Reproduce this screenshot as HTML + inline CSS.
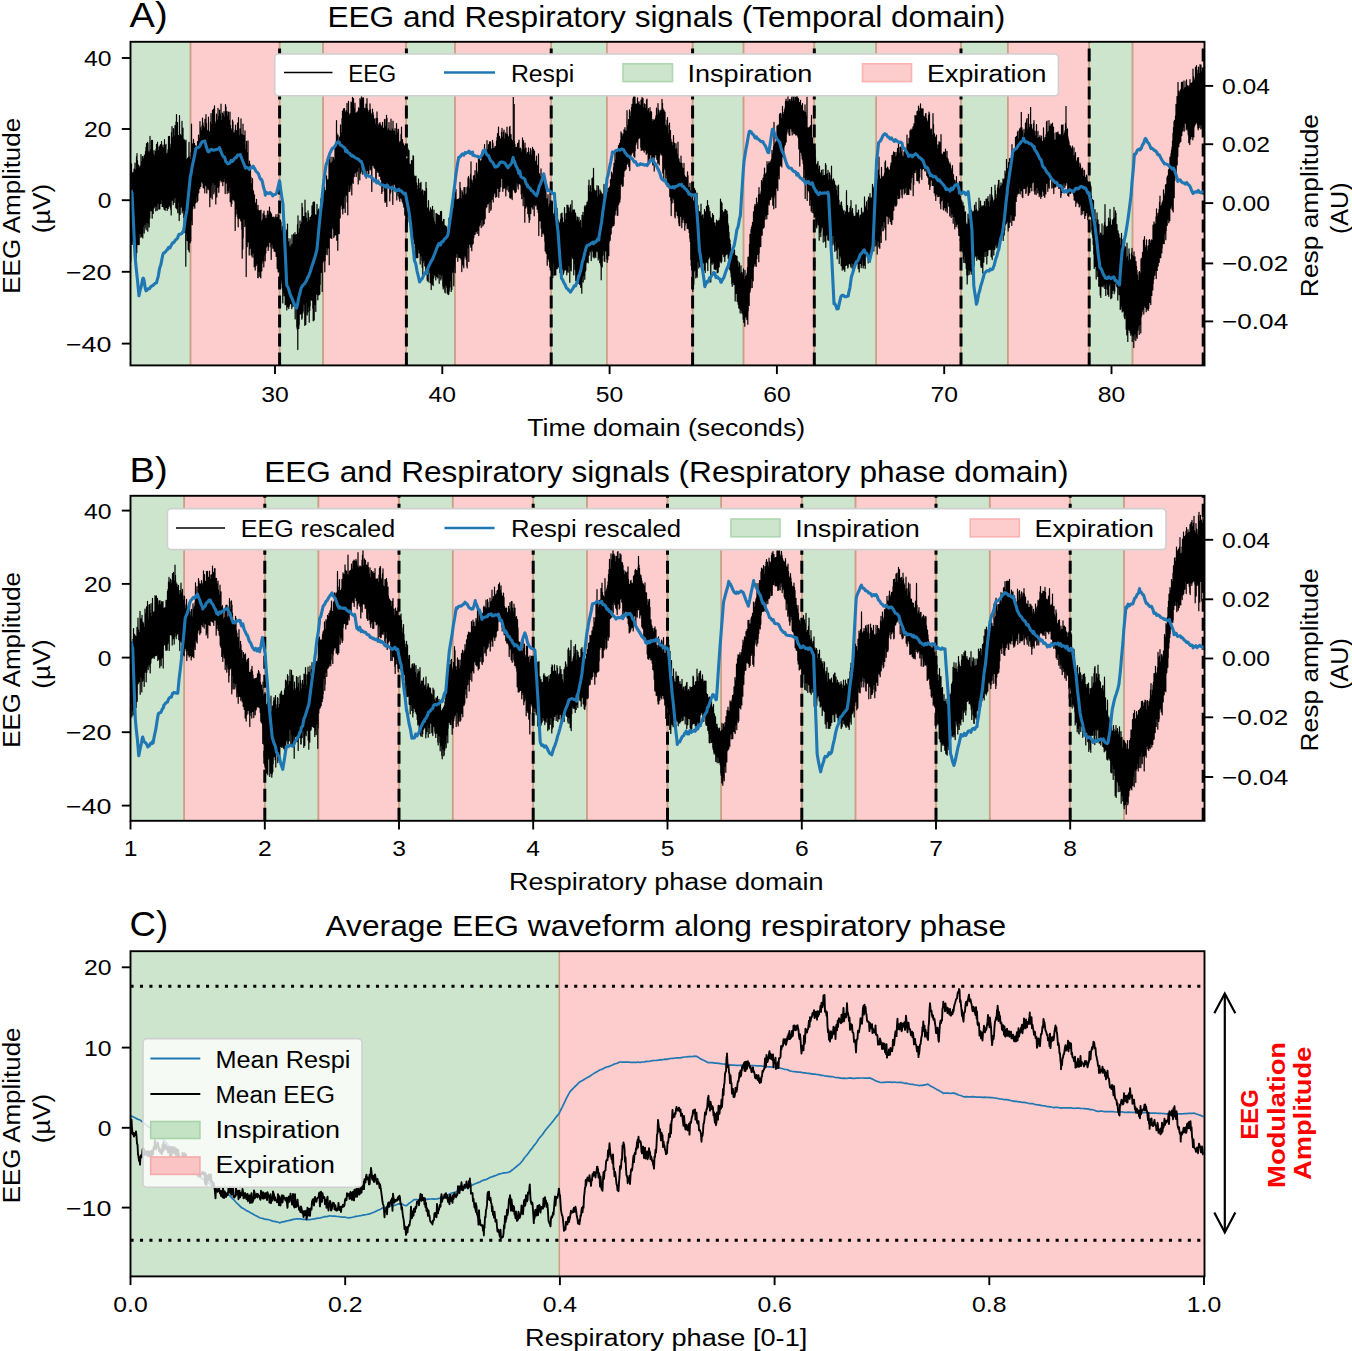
<!DOCTYPE html><html><head><meta charset="utf-8"><title>EEG and Respiratory signals</title><style>html,body{margin:0;padding:0;background:#fff;overflow:hidden}svg{display:block}text{font-family:"Liberation Sans",sans-serif}</style></head><body>
<svg width="1352" height="1351" viewBox="0 0 1352 1351">
<rect width="1352" height="1351" fill="#fff"/>
<clipPath id="clipA"><rect x="130.5" y="41.8" width="1074.0" height="323.59999999999997"/></clipPath>
<g clip-path="url(#clipA)">
<rect x="130.5" y="41.8" width="60.0" height="323.59999999999997" fill="#cde5cc"/>
<rect x="190.5" y="41.8" width="89.1" height="323.59999999999997" fill="#fdcccc"/>
<rect x="279.6" y="41.8" width="43.5" height="323.59999999999997" fill="#cde5cc"/>
<rect x="323.1" y="41.8" width="83.1" height="323.59999999999997" fill="#fdcccc"/>
<rect x="406.2" y="41.8" width="48.7" height="323.59999999999997" fill="#cde5cc"/>
<rect x="454.9" y="41.8" width="96.3" height="323.59999999999997" fill="#fdcccc"/>
<rect x="551.2" y="41.8" width="55.6" height="323.59999999999997" fill="#cde5cc"/>
<rect x="606.8" y="41.8" width="85.8" height="323.59999999999997" fill="#fdcccc"/>
<rect x="692.6" y="41.8" width="50.9" height="323.59999999999997" fill="#cde5cc"/>
<rect x="743.5" y="41.8" width="70.8" height="323.59999999999997" fill="#fdcccc"/>
<rect x="814.3" y="41.8" width="61.9" height="323.59999999999997" fill="#cde5cc"/>
<rect x="876.2" y="41.8" width="84.8" height="323.59999999999997" fill="#fdcccc"/>
<rect x="961.0" y="41.8" width="46.8" height="323.59999999999997" fill="#cde5cc"/>
<rect x="1007.8" y="41.8" width="81.4" height="323.59999999999997" fill="#fdcccc"/>
<rect x="1089.2" y="41.8" width="43.3" height="323.59999999999997" fill="#cde5cc"/>
<rect x="1132.5" y="41.8" width="72.0" height="323.59999999999997" fill="#fdcccc"/>
<line x1="190.5" y1="41.8" x2="190.5" y2="365.4" stroke="#caa088" stroke-width="1.5"/>
<line x1="190.5" y1="41.8" x2="190.5" y2="365.4" stroke="#caa088" stroke-width="1.5"/>
<line x1="279.6" y1="41.8" x2="279.6" y2="365.4" stroke="#caa088" stroke-width="1.5"/>
<line x1="279.6" y1="41.8" x2="279.6" y2="365.4" stroke="#caa088" stroke-width="1.5"/>
<line x1="323.1" y1="41.8" x2="323.1" y2="365.4" stroke="#caa088" stroke-width="1.5"/>
<line x1="323.1" y1="41.8" x2="323.1" y2="365.4" stroke="#caa088" stroke-width="1.5"/>
<line x1="406.2" y1="41.8" x2="406.2" y2="365.4" stroke="#caa088" stroke-width="1.5"/>
<line x1="406.2" y1="41.8" x2="406.2" y2="365.4" stroke="#caa088" stroke-width="1.5"/>
<line x1="454.9" y1="41.8" x2="454.9" y2="365.4" stroke="#caa088" stroke-width="1.5"/>
<line x1="454.9" y1="41.8" x2="454.9" y2="365.4" stroke="#caa088" stroke-width="1.5"/>
<line x1="551.2" y1="41.8" x2="551.2" y2="365.4" stroke="#caa088" stroke-width="1.5"/>
<line x1="551.2" y1="41.8" x2="551.2" y2="365.4" stroke="#caa088" stroke-width="1.5"/>
<line x1="606.8" y1="41.8" x2="606.8" y2="365.4" stroke="#caa088" stroke-width="1.5"/>
<line x1="606.8" y1="41.8" x2="606.8" y2="365.4" stroke="#caa088" stroke-width="1.5"/>
<line x1="692.6" y1="41.8" x2="692.6" y2="365.4" stroke="#caa088" stroke-width="1.5"/>
<line x1="692.6" y1="41.8" x2="692.6" y2="365.4" stroke="#caa088" stroke-width="1.5"/>
<line x1="743.5" y1="41.8" x2="743.5" y2="365.4" stroke="#caa088" stroke-width="1.5"/>
<line x1="743.5" y1="41.8" x2="743.5" y2="365.4" stroke="#caa088" stroke-width="1.5"/>
<line x1="814.3" y1="41.8" x2="814.3" y2="365.4" stroke="#caa088" stroke-width="1.5"/>
<line x1="814.3" y1="41.8" x2="814.3" y2="365.4" stroke="#caa088" stroke-width="1.5"/>
<line x1="876.2" y1="41.8" x2="876.2" y2="365.4" stroke="#caa088" stroke-width="1.5"/>
<line x1="876.2" y1="41.8" x2="876.2" y2="365.4" stroke="#caa088" stroke-width="1.5"/>
<line x1="961.0" y1="41.8" x2="961.0" y2="365.4" stroke="#caa088" stroke-width="1.5"/>
<line x1="961.0" y1="41.8" x2="961.0" y2="365.4" stroke="#caa088" stroke-width="1.5"/>
<line x1="1007.8" y1="41.8" x2="1007.8" y2="365.4" stroke="#caa088" stroke-width="1.5"/>
<line x1="1007.8" y1="41.8" x2="1007.8" y2="365.4" stroke="#caa088" stroke-width="1.5"/>
<line x1="1089.2" y1="41.8" x2="1089.2" y2="365.4" stroke="#caa088" stroke-width="1.5"/>
<line x1="1089.2" y1="41.8" x2="1089.2" y2="365.4" stroke="#caa088" stroke-width="1.5"/>
<line x1="1132.5" y1="41.8" x2="1132.5" y2="365.4" stroke="#caa088" stroke-width="1.5"/>
<line x1="1132.5" y1="41.8" x2="1132.5" y2="365.4" stroke="#caa088" stroke-width="1.5"/>
<line x1="279.6" y1="365.4" x2="279.6" y2="41.8" stroke="#000" stroke-width="3" stroke-dasharray="13 6"/>
<line x1="406.4" y1="365.4" x2="406.4" y2="41.8" stroke="#000" stroke-width="3" stroke-dasharray="13 6"/>
<line x1="551.2" y1="365.4" x2="551.2" y2="41.8" stroke="#000" stroke-width="3" stroke-dasharray="13 6"/>
<line x1="692.6" y1="365.4" x2="692.6" y2="41.8" stroke="#000" stroke-width="3" stroke-dasharray="13 6"/>
<line x1="814.3" y1="365.4" x2="814.3" y2="41.8" stroke="#000" stroke-width="3" stroke-dasharray="13 6"/>
<line x1="961.0" y1="365.4" x2="961.0" y2="41.8" stroke="#000" stroke-width="3" stroke-dasharray="13 6"/>
<line x1="1089.2" y1="365.4" x2="1089.2" y2="41.8" stroke="#000" stroke-width="3" stroke-dasharray="13 6"/>
<line x1="1203.2" y1="365.4" x2="1203.2" y2="41.8" stroke="#000" stroke-width="3" stroke-dasharray="13 6"/>
<polyline fill="none" stroke="#000" stroke-width="1.2" stroke-linejoin="round" points="129.5,173.0 129.8,244.9 130.0,165.4 130.2,241.3 130.5,178.2 130.8,261.5 131.0,171.4 131.2,238.8 131.5,163.9 131.8,244.5 132.0,172.1 132.2,239.0 132.5,175.2 132.8,240.4 133.0,173.4 133.2,244.5 133.5,172.3 133.8,241.3 134.0,169.2 134.2,243.5 134.5,176.5 134.8,250.3 135.0,163.0 135.2,240.6 135.5,169.8 135.8,260.5 136.0,173.9 136.2,259.0 136.5,156.7 136.8,252.5 137.0,153.5 137.2,239.9 137.5,160.6 137.8,244.5 138.0,170.5 138.2,235.5 138.5,165.2 138.8,244.7 139.0,169.4 139.2,244.4 139.5,167.7 139.8,232.7 140.0,166.2 140.2,233.5 140.5,167.1 140.8,237.2 141.0,154.6 141.2,237.1 141.5,161.3 141.8,234.0 142.0,161.8 142.2,236.0 142.5,156.7 142.8,238.0 143.0,161.7 143.2,226.3 143.5,158.9 143.8,221.5 144.0,156.2 144.2,233.1 144.5,155.0 144.8,220.1 145.0,158.8 145.2,224.1 145.5,151.5 145.8,227.8 146.0,147.4 146.2,229.7 146.5,143.5 146.8,221.4 147.0,155.1 147.2,222.3 147.5,142.4 147.8,231.2 148.0,143.0 148.2,223.3 148.5,151.7 148.8,213.3 149.0,158.3 149.2,226.9 149.5,151.5 149.8,218.0 150.0,136.4 150.2,210.8 150.5,149.5 150.8,209.7 151.0,156.3 151.2,210.7 151.5,140.3 151.8,211.0 152.0,155.4 152.2,218.2 152.5,140.4 152.8,209.0 153.0,156.2 153.2,213.4 153.5,154.1 153.8,206.7 154.0,150.6 154.2,207.8 154.5,156.8 154.8,205.7 155.0,155.6 155.2,206.0 155.5,151.3 155.8,210.8 156.0,149.1 156.2,203.9 156.5,144.3 156.8,206.0 157.0,152.6 157.2,210.3 157.5,142.2 157.8,201.6 158.0,155.0 158.2,203.2 158.5,150.4 158.8,209.1 159.0,146.8 159.2,205.8 159.5,154.7 159.8,208.9 160.0,145.5 160.2,199.5 160.5,144.6 160.8,203.5 161.0,149.9 161.2,199.2 161.5,141.6 161.8,197.9 162.0,147.4 162.2,206.4 162.5,152.6 162.8,199.3 163.0,145.0 163.2,206.4 163.5,151.0 163.8,207.9 164.0,148.1 164.2,209.3 164.5,139.7 164.8,201.2 165.0,147.8 165.2,210.2 165.5,145.7 165.8,201.6 166.0,144.4 166.2,207.5 166.5,153.7 166.8,201.1 167.0,153.7 167.2,210.5 167.5,153.2 167.8,200.9 168.0,149.6 168.2,208.5 168.5,136.6 168.8,206.3 169.0,148.3 169.2,199.9 169.5,136.4 169.8,204.7 170.0,148.6 170.2,207.1 170.5,147.8 170.8,209.4 171.0,144.1 171.2,215.0 171.5,132.7 171.8,198.5 172.0,126.6 172.2,200.2 172.5,137.6 172.8,199.3 173.0,138.9 173.2,204.7 173.5,128.5 173.8,197.5 174.0,135.9 174.2,202.4 174.5,136.3 174.8,197.7 175.0,125.5 175.2,197.3 175.5,135.2 175.8,207.7 176.0,121.8 176.2,201.9 176.5,114.5 176.8,208.8 177.0,134.3 177.2,205.8 177.5,122.5 177.8,212.7 178.0,135.4 178.2,202.3 178.5,135.7 178.8,198.6 179.0,135.1 179.2,220.6 179.5,115.7 179.8,200.6 180.0,137.7 180.2,214.3 180.5,134.7 180.8,201.8 181.0,135.8 181.2,206.9 181.5,140.0 181.8,204.5 182.0,121.3 182.2,212.8 182.5,142.7 182.8,207.4 183.0,128.2 183.2,210.4 183.5,142.0 183.8,217.5 184.0,139.3 184.2,232.4 184.5,140.3 184.8,224.0 185.0,144.5 185.2,223.0 185.5,141.5 185.8,266.2 186.0,140.0 186.2,228.6 186.5,159.5 186.8,232.9 187.0,161.2 187.2,240.6 187.5,158.4 187.8,237.3 188.0,163.8 188.2,249.6 188.5,157.1 188.8,244.0 189.0,142.3 189.2,251.9 189.5,156.9 189.8,232.5 190.0,160.3 190.2,242.7 190.5,159.0 190.8,240.8 191.0,152.5 191.2,219.9 191.5,124.1 191.8,215.4 192.0,143.3 192.2,224.7 192.5,144.1 192.8,208.8 193.0,149.5 193.2,204.4 193.5,139.4 193.8,205.8 194.0,146.9 194.2,203.7 194.5,143.4 194.8,208.2 195.0,149.7 195.2,203.2 195.5,145.8 195.8,202.6 196.0,148.4 196.2,196.4 196.5,147.3 196.8,196.2 197.0,145.9 197.2,201.9 197.5,141.7 197.8,200.5 198.0,144.2 198.2,193.8 198.5,135.1 198.8,192.5 199.0,138.4 199.2,187.6 199.5,137.8 199.8,188.5 200.0,121.6 200.2,184.5 200.5,127.7 200.8,186.3 201.0,130.9 201.2,181.9 201.5,130.6 201.8,181.9 202.0,125.7 202.2,181.5 202.5,118.0 202.8,183.4 203.0,122.9 203.2,187.6 203.5,126.2 203.8,180.6 204.0,128.2 204.2,188.2 204.5,128.6 204.8,192.8 205.0,119.3 205.2,183.8 205.5,130.8 205.8,184.8 206.0,114.5 206.2,185.7 206.5,123.6 206.8,193.1 207.0,130.8 207.2,189.5 207.5,133.1 207.8,187.6 208.0,130.2 208.2,187.9 208.5,117.0 208.8,189.7 209.0,133.1 209.2,187.5 209.5,131.9 209.8,206.7 210.0,131.9 210.2,186.8 210.5,122.0 210.8,197.2 211.0,113.5 211.2,184.7 211.5,124.1 211.8,185.5 212.0,127.1 212.2,198.9 212.5,110.4 212.8,182.6 213.0,121.1 213.2,181.7 213.5,109.2 213.8,193.8 214.0,123.7 214.2,192.1 214.5,105.9 214.8,184.5 215.0,125.2 215.2,180.4 215.5,123.9 215.8,204.0 216.0,121.7 216.2,183.0 216.5,114.0 216.8,197.0 217.0,120.6 217.2,180.1 217.5,122.7 217.8,186.7 218.0,108.3 218.2,187.5 218.5,117.3 218.8,192.3 219.0,116.4 219.2,185.9 219.5,110.0 219.8,179.6 220.0,114.0 220.2,180.1 220.5,120.6 220.8,180.2 221.0,104.2 221.2,181.9 221.5,120.4 221.8,180.4 222.0,120.1 222.2,175.5 222.5,113.1 222.8,185.7 223.0,114.5 223.2,177.0 223.5,119.4 223.8,181.5 224.0,111.7 224.2,176.3 224.5,120.3 224.8,178.1 225.0,117.0 225.2,193.6 225.5,104.5 225.8,175.5 226.0,106.9 226.2,182.8 226.5,115.9 226.8,176.8 227.0,111.5 227.2,193.6 227.5,115.8 227.8,189.4 228.0,123.3 228.2,190.4 228.5,112.0 228.8,192.6 229.0,120.3 229.2,183.7 229.5,121.9 229.8,188.0 230.0,112.1 230.2,201.7 230.5,125.3 230.8,191.2 231.0,130.3 231.2,206.3 231.5,130.1 231.8,203.5 232.0,128.6 232.2,196.6 232.5,120.1 232.8,198.9 233.0,121.9 233.2,200.1 233.5,133.8 233.8,197.6 234.0,132.8 234.2,199.7 234.5,137.5 234.8,201.8 235.0,130.0 235.2,230.4 235.5,125.1 235.8,216.2 236.0,137.8 236.2,205.4 236.5,130.5 236.8,208.4 237.0,138.2 237.2,213.8 237.5,123.1 237.8,218.2 238.0,126.6 238.2,226.8 238.5,117.6 238.8,217.8 239.0,135.6 239.2,214.1 239.5,136.0 239.8,218.6 240.0,128.8 240.2,207.8 240.5,135.4 240.8,220.9 241.0,118.8 241.2,209.8 241.5,134.2 241.8,229.2 242.0,134.8 242.2,258.2 242.5,135.1 242.8,248.9 243.0,124.0 243.2,237.8 243.5,137.2 243.8,216.7 244.0,135.6 244.2,218.9 244.5,142.2 244.8,226.4 245.0,130.9 245.2,223.5 245.5,149.3 245.8,224.7 246.0,151.7 246.2,276.6 246.5,141.4 246.8,232.1 247.0,152.6 247.2,246.7 247.5,161.0 247.8,233.2 248.0,140.9 248.2,241.9 248.5,164.2 248.8,234.9 249.0,166.4 249.2,255.1 249.5,161.1 249.8,248.7 250.0,171.2 250.2,247.7 250.5,164.8 250.8,246.4 251.0,177.0 251.2,255.0 251.5,184.8 251.8,247.2 252.0,184.1 252.2,257.1 252.5,178.7 252.8,252.0 253.0,194.0 253.2,252.8 253.5,190.9 253.8,256.9 254.0,195.0 254.2,266.7 254.5,194.9 254.8,258.5 255.0,203.7 255.2,270.1 255.5,207.1 255.8,262.7 256.0,202.5 256.2,265.6 256.5,199.3 256.8,262.8 257.0,209.7 257.2,263.6 257.5,214.1 257.8,277.6 258.0,205.3 258.2,277.7 258.5,212.6 258.8,265.2 259.0,210.8 259.2,271.4 259.5,218.5 259.8,276.3 260.0,210.6 260.2,275.1 260.5,218.8 260.8,278.0 261.0,210.2 261.2,264.8 261.5,221.9 261.8,270.8 262.0,221.7 262.2,263.3 262.5,219.8 262.8,260.0 263.0,213.9 263.2,260.6 263.5,213.7 263.8,266.9 264.0,211.1 264.2,255.0 264.5,218.7 264.8,252.6 265.0,215.5 265.2,260.8 265.5,218.8 265.8,253.0 266.0,218.4 266.2,247.3 266.5,218.5 266.8,246.3 267.0,215.0 267.2,245.5 267.5,211.1 267.8,244.6 268.0,215.1 268.2,250.5 268.5,214.9 268.8,246.8 269.0,210.8 269.2,242.1 269.5,207.2 269.8,242.2 270.0,214.6 270.2,241.2 270.5,212.1 270.8,246.9 271.0,217.3 271.2,259.5 271.5,213.9 271.8,243.1 272.0,218.1 272.2,244.1 272.5,217.3 272.8,248.2 273.0,218.3 273.2,246.0 273.5,217.1 273.8,248.2 274.0,218.4 274.2,251.3 274.5,218.8 274.8,250.8 275.0,217.2 275.2,249.5 275.5,218.3 275.8,252.1 276.0,214.7 276.2,256.5 276.5,221.3 276.8,256.0 277.0,217.7 277.2,268.6 277.5,223.1 277.8,261.1 278.0,214.0 278.2,272.1 278.5,225.3 278.8,265.9 279.0,215.0 279.2,271.2 279.5,224.7 279.8,280.2 280.0,226.0 280.2,279.5 280.5,230.2 280.8,276.2 281.0,222.1 281.2,279.6 281.5,231.9 281.8,283.4 282.0,230.8 282.2,287.9 282.5,226.8 282.8,303.0 283.0,226.0 283.2,291.3 283.5,235.4 283.8,292.2 284.0,238.5 284.2,295.7 284.5,222.1 284.8,292.7 285.0,239.6 285.2,304.7 285.5,241.4 285.8,293.7 286.0,236.2 286.2,304.1 286.5,230.1 286.8,310.0 287.0,244.1 287.2,297.8 287.5,224.0 287.8,306.9 288.0,238.4 288.2,306.5 288.5,241.5 288.8,308.6 289.0,246.5 289.2,306.2 289.5,247.1 289.8,304.3 290.0,238.9 290.2,301.3 290.5,248.0 290.8,303.4 291.0,246.5 291.2,301.3 291.5,244.6 291.8,308.6 292.0,235.1 292.2,306.7 292.5,244.0 292.8,303.0 293.0,245.1 293.2,303.8 293.5,234.0 293.8,306.1 294.0,235.1 294.2,305.7 294.5,243.6 294.8,306.5 295.0,232.7 295.2,319.0 295.5,235.1 295.8,309.2 296.0,239.7 296.2,307.9 296.5,234.5 296.8,327.1 297.0,235.1 297.2,329.1 297.5,224.7 297.8,349.6 298.0,215.8 298.2,311.1 298.5,233.0 298.8,328.3 299.0,233.1 299.2,324.8 299.5,228.5 299.8,313.3 300.0,220.9 300.2,314.0 300.5,225.6 300.8,313.8 301.0,224.5 301.2,307.2 301.5,222.3 301.8,319.2 302.0,203.3 302.2,318.1 302.5,207.7 302.8,312.9 303.0,219.1 303.2,311.2 303.5,216.7 303.8,303.9 304.0,216.5 304.2,301.7 304.5,217.7 304.8,325.5 305.0,200.0 305.2,308.4 305.5,218.0 305.8,324.4 306.0,212.8 306.2,301.8 306.5,218.1 306.8,301.5 307.0,221.9 307.2,314.9 307.5,222.4 307.8,312.0 308.0,210.8 308.2,304.6 308.5,213.4 308.8,306.6 309.0,217.4 309.2,322.2 309.5,222.3 309.8,310.5 310.0,220.4 310.2,305.7 310.5,217.0 310.8,299.7 311.0,221.9 311.2,298.1 311.5,215.3 311.8,300.2 312.0,205.9 312.2,298.7 312.5,222.7 312.8,308.2 313.0,202.5 313.2,320.8 313.5,218.6 313.8,314.1 314.0,201.5 314.2,319.9 314.5,202.7 314.8,298.2 315.0,225.9 315.2,304.3 315.5,214.9 315.8,311.5 316.0,223.2 316.2,294.8 316.5,215.1 316.8,292.6 317.0,204.4 317.2,293.7 317.5,216.8 317.8,299.8 318.0,210.8 318.2,288.8 318.5,209.1 318.8,295.0 319.0,216.0 319.2,289.6 319.5,211.6 319.8,294.1 320.0,211.8 320.2,284.4 320.5,207.3 320.8,272.4 321.0,198.5 321.2,271.0 321.5,207.8 321.8,272.1 322.0,201.1 322.2,291.6 322.5,192.5 322.8,262.4 323.0,201.2 323.2,261.3 323.5,189.3 323.8,260.5 324.0,199.3 324.2,260.1 324.5,187.1 324.8,271.8 325.0,196.1 325.2,260.7 325.5,190.7 325.8,254.2 326.0,191.3 326.2,247.6 326.5,175.9 326.8,245.6 327.0,179.1 327.2,254.7 327.5,184.0 327.8,247.3 328.0,180.0 328.2,247.9 328.5,179.6 328.8,237.8 329.0,162.3 329.2,264.7 329.5,159.4 329.8,237.9 330.0,156.8 330.2,237.0 330.5,163.2 330.8,237.6 331.0,166.3 331.2,234.2 331.5,162.8 331.8,238.5 332.0,157.1 332.2,226.8 332.5,161.4 332.8,225.9 333.0,163.7 333.2,228.8 333.5,157.6 333.8,237.6 334.0,161.5 334.2,236.3 334.5,159.5 334.8,226.9 335.0,144.9 335.2,234.9 335.5,149.8 335.8,235.0 336.0,141.9 336.2,234.6 336.5,120.7 336.8,240.3 337.0,133.5 337.2,222.1 337.5,147.6 337.8,250.3 338.0,135.3 338.2,233.5 338.5,143.6 338.8,214.1 339.0,141.5 339.2,233.7 339.5,137.1 339.8,211.5 340.0,137.0 340.2,217.8 340.5,124.9 340.8,206.0 341.0,132.7 341.2,204.4 341.5,132.9 341.8,202.1 342.0,118.6 342.2,209.1 342.5,111.0 342.8,213.9 343.0,119.3 343.2,202.3 343.5,108.8 343.8,208.2 344.0,115.3 344.2,196.3 344.5,108.5 344.8,194.1 345.0,117.2 345.2,212.4 345.5,112.4 345.8,190.8 346.0,110.8 346.2,195.1 346.5,122.5 346.8,190.5 347.0,103.4 347.2,201.9 347.5,112.4 347.8,214.8 348.0,116.6 348.2,184.9 348.5,101.4 348.8,179.8 349.0,116.1 349.2,191.5 349.5,115.6 349.8,191.2 350.0,113.8 350.2,189.0 350.5,113.6 350.8,184.8 351.0,102.0 351.2,180.7 351.5,115.7 351.8,194.9 352.0,102.6 352.2,182.2 352.5,97.3 352.8,180.8 353.0,116.1 353.2,183.3 353.5,98.6 353.8,174.1 354.0,108.5 354.2,176.6 354.5,116.0 354.8,172.9 355.0,103.2 355.2,172.6 355.5,115.6 355.8,171.7 356.0,113.1 356.2,176.4 356.5,114.1 356.8,171.6 357.0,112.1 357.2,169.4 357.5,113.5 357.8,170.5 358.0,111.2 358.2,183.9 358.5,107.9 358.8,167.1 359.0,109.7 359.2,166.8 359.5,108.5 359.8,180.0 360.0,98.6 360.2,166.6 360.5,100.0 360.8,173.1 361.0,112.5 361.2,165.6 361.5,85.3 361.8,165.4 362.0,101.8 362.2,171.4 362.5,98.2 362.8,174.3 363.0,110.4 363.2,165.4 363.5,97.9 363.8,168.0 364.0,107.8 364.2,164.8 364.5,109.3 364.8,175.8 365.0,108.5 365.2,164.1 365.5,109.7 365.8,168.3 366.0,104.1 366.2,178.2 366.5,107.0 366.8,162.7 367.0,98.7 367.2,170.5 367.5,108.7 367.8,165.4 368.0,112.3 368.2,173.7 368.5,112.4 368.8,173.4 369.0,110.7 369.2,164.7 369.5,110.3 369.8,164.1 370.0,103.8 370.2,170.0 370.5,109.6 370.8,168.6 371.0,115.0 371.2,162.6 371.5,115.1 371.8,191.4 372.0,113.3 372.2,165.4 372.5,109.2 372.8,163.2 373.0,112.5 373.2,165.1 373.5,115.2 373.8,165.9 374.0,121.3 374.2,167.8 374.5,119.2 374.8,166.8 375.0,124.0 375.2,168.7 375.5,125.9 375.8,180.0 376.0,118.3 376.2,181.8 376.5,120.6 376.8,169.5 377.0,111.9 377.2,170.7 377.5,118.4 377.8,172.3 378.0,125.6 378.2,171.9 378.5,126.3 378.8,172.6 379.0,123.8 379.2,176.2 379.5,124.8 379.8,176.1 380.0,122.6 380.2,174.7 380.5,124.7 380.8,179.6 381.0,126.8 381.2,180.0 381.5,127.1 381.8,193.4 382.0,125.7 382.2,191.4 382.5,122.4 382.8,187.0 383.0,127.9 383.2,185.9 383.5,128.3 383.8,182.8 384.0,128.3 384.2,190.9 384.5,119.6 384.8,201.0 385.0,119.6 385.2,202.4 385.5,126.7 385.8,201.0 386.0,130.9 386.2,194.7 386.5,115.3 386.8,206.4 387.0,118.2 387.2,185.6 387.5,130.6 387.8,185.7 388.0,132.1 388.2,187.2 388.5,128.6 388.8,184.9 389.0,122.6 389.2,185.8 389.5,130.7 389.8,200.9 390.0,130.6 390.2,193.4 390.5,131.8 390.8,192.0 391.0,119.2 391.2,184.1 391.5,131.4 391.8,187.5 392.0,133.6 392.2,187.0 392.5,128.9 392.8,204.5 393.0,121.2 393.2,190.0 393.5,133.7 393.8,184.2 394.0,131.0 394.2,183.8 394.5,133.1 394.8,183.0 395.0,128.6 395.2,186.4 395.5,135.1 395.8,189.7 396.0,136.6 396.2,187.0 396.5,123.6 396.8,199.9 397.0,129.0 397.2,195.5 397.5,133.2 397.8,192.3 398.0,135.5 398.2,191.3 398.5,129.3 398.8,196.8 399.0,144.4 399.2,198.8 399.5,143.2 399.8,201.2 400.0,141.5 400.2,195.6 400.5,148.5 400.8,198.0 401.0,134.3 401.2,197.9 401.5,127.2 401.8,198.9 402.0,144.4 402.2,201.3 402.5,139.7 402.8,202.3 403.0,142.8 403.2,203.8 403.5,144.0 403.8,207.1 404.0,156.3 404.2,207.0 404.5,145.9 404.8,215.1 405.0,156.8 405.2,209.5 405.5,151.9 405.8,227.5 406.0,161.2 406.2,224.8 406.5,159.4 406.8,216.8 407.0,158.5 407.2,225.0 407.5,159.5 407.8,215.3 408.0,148.9 408.2,217.0 408.5,160.8 408.8,217.0 409.0,150.5 409.2,221.7 409.5,164.2 409.8,220.9 410.0,164.0 410.2,223.4 410.5,164.7 410.8,221.5 411.0,165.3 411.2,222.0 411.5,160.5 411.8,234.1 412.0,167.4 412.2,242.3 412.5,160.5 412.8,227.7 413.0,155.8 413.2,239.4 413.5,156.1 413.8,233.1 414.0,175.0 414.2,243.4 414.5,176.5 414.8,241.6 415.0,176.5 415.2,247.8 415.5,182.0 415.8,258.3 416.0,176.0 416.2,242.4 416.5,182.8 416.8,257.5 417.0,185.2 417.2,245.2 417.5,189.7 417.8,257.7 418.0,191.7 418.2,247.9 418.5,178.9 418.8,249.4 419.0,188.7 419.2,253.0 419.5,194.4 419.8,251.8 420.0,183.4 420.2,263.9 420.5,198.6 420.8,253.3 421.0,182.4 421.2,256.0 421.5,201.1 421.8,260.5 422.0,191.4 422.2,267.3 422.5,189.8 422.8,274.3 423.0,203.9 423.2,262.7 423.5,195.0 423.8,259.8 424.0,190.8 424.2,260.2 424.5,206.8 424.8,265.9 425.0,191.7 425.2,260.6 425.5,207.5 425.8,273.3 426.0,182.3 426.2,273.9 426.5,188.3 426.8,271.4 427.0,210.8 427.2,280.2 427.5,208.2 427.8,267.9 428.0,215.1 428.2,281.8 428.5,200.7 428.8,267.5 429.0,213.8 429.2,268.8 429.5,212.3 429.8,273.0 430.0,210.2 430.2,282.7 430.5,207.8 430.8,270.3 431.0,211.1 431.2,289.6 431.5,209.9 431.8,273.5 432.0,221.1 432.2,284.2 432.5,206.3 432.8,284.4 433.0,217.8 433.2,285.6 433.5,224.6 433.8,277.7 434.0,210.1 434.2,273.2 434.5,221.9 434.8,274.6 435.0,224.5 435.2,275.3 435.5,225.2 435.8,279.9 436.0,213.6 436.2,274.9 436.5,213.5 436.8,276.5 437.0,224.0 437.2,274.4 437.5,214.3 437.8,278.0 438.0,223.0 438.2,271.9 438.5,215.1 438.8,273.3 439.0,218.0 439.2,283.3 439.5,215.6 439.8,271.6 440.0,221.4 440.2,273.8 440.5,211.6 440.8,280.0 441.0,212.2 441.2,278.4 441.5,211.4 441.8,274.8 442.0,221.5 442.2,272.8 442.5,224.0 442.8,286.1 443.0,221.5 443.2,289.0 443.5,219.6 443.8,286.3 444.0,219.3 444.2,287.0 444.5,226.9 444.8,291.8 445.0,225.5 445.2,292.8 445.5,226.0 445.8,285.0 446.0,228.4 446.2,285.2 446.5,226.9 446.8,287.4 447.0,235.0 447.2,293.1 447.5,236.9 447.8,287.5 448.0,236.5 448.2,294.6 448.5,225.7 448.8,294.1 449.0,218.2 449.2,291.3 449.5,230.7 449.8,287.1 450.0,223.4 450.2,280.3 450.5,222.8 450.8,280.1 451.0,212.9 451.2,291.4 451.5,223.7 451.8,289.4 452.0,215.4 452.2,273.0 452.5,206.4 452.8,271.7 453.0,200.8 453.2,267.9 453.5,211.9 453.8,285.8 454.0,208.6 454.2,265.9 454.5,198.0 454.8,261.9 455.0,192.5 455.2,272.6 455.5,204.5 455.8,256.5 456.0,189.6 456.2,257.2 456.5,200.7 456.8,252.4 457.0,199.9 457.2,253.4 457.5,199.7 457.8,261.3 458.0,199.4 458.2,251.8 458.5,199.3 458.8,257.2 459.0,198.6 459.2,257.3 459.5,198.1 459.8,257.5 460.0,182.3 460.2,256.5 460.5,188.0 460.8,259.0 461.0,199.0 461.2,253.9 461.5,198.5 461.8,271.6 462.0,190.5 462.2,263.6 462.5,192.5 462.8,253.5 463.0,195.1 463.2,265.2 463.5,195.0 463.8,267.7 464.0,187.6 464.2,258.2 464.5,193.1 464.8,253.8 465.0,187.5 465.2,255.6 465.5,196.5 465.8,257.0 466.0,195.2 466.2,259.6 466.5,193.7 466.8,266.1 467.0,187.3 467.2,267.9 467.5,186.7 467.8,247.7 468.0,178.0 468.2,247.4 468.5,176.7 468.8,261.4 469.0,178.8 469.2,244.6 469.5,188.0 469.8,243.9 470.0,189.0 470.2,242.1 470.5,174.6 470.8,247.2 471.0,161.8 471.2,243.5 471.5,187.0 471.8,250.7 472.0,180.2 472.2,244.7 472.5,185.1 472.8,243.8 473.0,182.8 473.2,243.3 473.5,175.8 473.8,237.8 474.0,180.0 474.2,234.7 474.5,175.4 474.8,232.5 475.0,170.7 475.2,234.2 475.5,180.5 475.8,231.4 476.0,178.8 476.2,231.3 476.5,163.1 476.8,232.1 477.0,173.9 477.2,233.5 477.5,173.7 477.8,230.5 478.0,171.4 478.2,228.0 478.5,157.8 478.8,235.6 479.0,164.6 479.2,226.2 479.5,158.7 479.8,225.1 480.0,163.6 480.2,222.3 480.5,161.5 480.8,219.9 481.0,160.6 481.2,227.6 481.5,163.2 481.8,219.3 482.0,152.1 482.2,219.2 482.5,159.6 482.8,225.9 483.0,157.4 483.2,224.7 483.5,155.4 483.8,214.9 484.0,152.1 484.2,223.7 484.5,144.7 484.8,211.3 485.0,153.8 485.2,218.7 485.5,149.9 485.8,208.1 486.0,152.8 486.2,204.9 486.5,152.7 486.8,206.8 487.0,140.7 487.2,202.9 487.5,149.6 487.8,203.8 488.0,155.7 488.2,201.8 488.5,144.7 488.8,203.1 489.0,152.4 489.2,212.5 489.5,141.9 489.8,201.0 490.0,155.1 490.2,201.8 490.5,141.9 490.8,210.3 491.0,149.0 491.2,209.1 491.5,149.1 491.8,199.4 492.0,150.4 492.2,194.9 492.5,140.4 492.8,198.6 493.0,143.2 493.2,202.0 493.5,148.3 493.8,196.1 494.0,149.2 494.2,189.8 494.5,148.3 494.8,192.9 495.0,146.4 495.2,190.4 495.5,147.7 495.8,197.3 496.0,146.5 496.2,190.8 496.5,140.8 496.8,196.5 497.0,137.7 497.2,183.2 497.5,133.6 497.8,188.1 498.0,142.9 498.2,181.6 498.5,127.0 498.8,197.3 499.0,141.2 499.2,188.3 499.5,136.3 499.8,191.5 500.0,139.4 500.2,178.6 500.5,138.8 500.8,186.8 501.0,139.5 501.2,177.3 501.5,132.1 501.8,178.5 502.0,128.3 502.2,178.5 502.5,139.5 502.8,191.3 503.0,137.1 503.2,179.3 503.5,132.1 503.8,188.2 504.0,130.2 504.2,183.8 504.5,139.1 504.8,187.9 505.0,140.7 505.2,181.9 505.5,133.0 505.8,196.0 506.0,134.3 506.2,186.9 506.5,139.3 506.8,184.6 507.0,127.2 507.2,189.8 507.5,134.3 507.8,184.8 508.0,137.1 508.2,185.3 508.5,136.8 508.8,191.6 509.0,141.4 509.2,187.0 509.5,127.4 509.8,197.6 510.0,126.3 510.2,191.4 510.5,141.9 510.8,198.3 511.0,134.7 511.2,197.0 511.5,139.3 511.8,193.1 512.0,142.5 512.2,199.6 512.5,140.6 512.8,186.3 513.0,145.4 513.2,189.1 513.5,144.7 513.8,184.9 514.0,145.4 514.2,190.4 514.5,141.6 514.8,191.8 515.0,144.4 515.2,192.7 515.5,147.8 515.8,189.9 516.0,147.5 516.2,191.8 516.5,147.3 516.8,182.9 517.0,148.1 517.2,182.2 517.5,143.7 517.8,186.2 518.0,143.9 518.2,189.1 518.5,142.7 518.8,180.6 519.0,140.0 519.2,183.2 519.5,149.7 519.8,183.9 520.0,148.7 520.2,183.4 520.5,148.0 520.8,184.9 521.0,149.2 521.2,193.9 521.5,152.0 521.8,198.7 522.0,152.2 522.2,193.1 522.5,137.9 522.8,191.6 523.0,145.5 523.2,205.7 523.5,140.6 523.8,196.4 524.0,152.9 524.2,196.1 524.5,149.2 524.8,222.2 525.0,143.0 525.2,206.2 525.5,154.0 525.8,207.9 526.0,148.0 526.2,204.5 526.5,154.1 526.8,205.3 527.0,154.3 527.2,206.7 527.5,152.5 527.8,213.6 528.0,155.8 528.2,209.8 528.5,147.9 528.8,217.1 529.0,157.7 529.2,222.5 529.5,154.9 529.8,219.8 530.0,152.1 530.2,207.7 530.5,148.5 530.8,213.4 531.0,155.3 531.2,206.6 531.5,159.7 531.8,207.0 532.0,150.5 532.2,206.4 532.5,147.4 532.8,208.9 533.0,160.9 533.2,204.3 533.5,149.4 533.8,204.4 534.0,156.9 534.2,215.7 534.5,151.0 534.8,203.3 535.0,161.6 535.2,204.4 535.5,163.9 535.8,205.8 536.0,160.8 536.2,203.1 536.5,156.2 536.8,203.9 537.0,167.3 537.2,209.2 537.5,165.4 537.8,207.9 538.0,165.6 538.2,212.4 538.5,153.8 538.8,235.6 539.0,173.7 539.2,213.1 539.5,173.8 539.8,220.7 540.0,176.8 540.2,217.2 540.5,177.5 540.8,221.1 541.0,168.9 541.2,228.2 541.5,181.5 541.8,236.4 542.0,182.0 542.2,228.3 542.5,175.7 542.8,233.1 543.0,179.1 543.2,233.0 543.5,176.4 543.8,232.4 544.0,190.4 544.2,234.7 544.5,180.8 544.8,241.3 545.0,194.1 545.2,251.1 545.5,188.0 545.8,243.1 546.0,192.7 546.2,253.2 546.5,201.8 546.8,253.4 547.0,198.9 547.2,265.3 547.5,206.3 547.8,259.2 548.0,194.7 548.2,255.4 548.5,206.9 548.8,258.3 549.0,212.9 549.2,261.4 549.5,204.0 549.8,267.1 550.0,193.6 550.2,262.5 550.5,207.9 550.8,263.7 551.0,213.2 551.2,277.5 551.5,205.1 551.8,267.4 552.0,216.0 552.2,275.2 552.5,202.1 552.8,277.6 553.0,216.3 553.2,261.8 553.5,214.2 553.8,262.7 554.0,215.7 554.2,275.2 554.5,201.4 554.8,268.6 555.0,216.3 555.2,274.5 555.5,216.0 555.8,275.1 556.0,215.9 556.2,268.7 556.5,218.9 556.8,263.4 557.0,208.3 557.2,268.7 557.5,213.8 557.8,263.8 558.0,219.9 558.2,266.6 558.5,221.7 558.8,265.5 559.0,223.5 559.2,268.0 559.5,223.8 559.8,272.4 560.0,222.2 560.2,266.5 560.5,219.3 560.8,278.1 561.0,213.9 561.2,267.0 561.5,223.4 561.8,267.6 562.0,213.2 562.2,268.8 562.5,217.6 562.8,266.9 563.0,222.8 563.2,274.4 563.5,222.5 563.8,272.6 564.0,222.0 564.2,270.5 564.5,207.5 564.8,267.7 565.0,219.9 565.2,269.6 565.5,220.1 565.8,266.1 566.0,213.6 566.2,269.9 566.5,218.1 566.8,274.8 567.0,205.1 567.2,270.8 567.5,211.5 567.8,263.2 568.0,205.3 568.2,272.2 568.5,210.2 568.8,261.1 569.0,207.8 569.2,265.5 569.5,211.9 569.8,282.3 570.0,211.7 570.2,259.9 570.5,204.9 570.8,267.9 571.0,212.8 571.2,270.8 571.5,212.9 571.8,256.7 572.0,200.7 572.2,256.4 572.5,212.0 572.8,258.5 573.0,210.7 573.2,258.8 573.5,214.1 573.8,274.8 574.0,209.5 574.2,262.5 574.5,210.1 574.8,263.5 575.0,219.9 575.2,269.6 575.5,213.2 575.8,280.5 576.0,215.9 576.2,279.8 576.5,220.5 576.8,281.7 577.0,223.4 577.2,272.3 577.5,217.2 577.8,274.4 578.0,226.9 578.2,275.0 578.5,220.0 578.8,283.4 579.0,217.4 579.2,278.9 579.5,227.2 579.8,284.6 580.0,222.2 580.2,278.8 580.5,220.3 580.8,287.4 581.0,231.9 581.2,279.6 581.5,227.7 581.8,293.2 582.0,215.4 582.2,276.5 582.5,217.1 582.8,277.0 583.0,212.3 583.2,282.1 583.5,215.9 583.8,275.4 584.0,217.0 584.2,267.4 584.5,206.9 584.8,279.3 585.0,205.7 585.2,271.8 585.5,207.0 585.8,270.2 586.0,209.2 586.2,263.1 586.5,205.2 586.8,257.5 587.0,202.3 587.2,261.9 587.5,202.9 587.8,254.5 588.0,200.8 588.2,262.8 588.5,185.6 588.8,251.0 589.0,180.0 589.2,255.1 589.5,194.8 589.8,250.9 590.0,191.6 590.2,245.2 590.5,185.6 590.8,252.1 591.0,192.4 591.2,260.6 591.5,192.5 591.8,244.2 592.0,178.5 592.2,249.8 592.5,191.8 592.8,251.4 593.0,177.3 593.2,257.0 593.5,168.3 593.8,247.0 594.0,188.9 594.2,257.9 594.5,190.4 594.8,255.9 595.0,191.6 595.2,247.9 595.5,195.3 595.8,257.4 596.0,190.5 596.2,251.8 596.5,194.5 596.8,249.9 597.0,185.5 597.2,250.7 597.5,197.1 597.8,251.9 598.0,198.2 598.2,259.9 598.5,186.2 598.8,251.4 599.0,194.8 599.2,258.0 599.5,199.0 599.8,262.7 600.0,189.8 600.2,255.6 600.5,199.0 600.8,265.5 601.0,191.8 601.2,279.8 601.5,193.5 601.8,255.1 602.0,199.3 602.2,266.9 602.5,194.0 602.8,255.3 603.0,196.9 603.2,250.7 603.5,200.5 603.8,250.7 604.0,184.4 604.2,260.9 604.5,199.5 604.8,261.4 605.0,198.2 605.2,251.3 605.5,187.5 605.8,250.4 606.0,192.4 606.2,248.6 606.5,198.9 606.8,258.7 607.0,192.5 607.2,262.4 607.5,197.9 607.8,259.7 608.0,188.5 608.2,247.1 608.5,190.8 608.8,255.6 609.0,188.2 609.2,242.0 609.5,187.2 609.8,238.7 610.0,187.3 610.2,240.2 610.5,179.7 610.8,234.4 611.0,180.4 611.2,233.3 611.5,172.2 611.8,227.5 612.0,178.1 612.2,225.3 612.5,174.8 612.8,225.8 613.0,173.1 613.2,223.8 613.5,167.5 613.8,225.6 614.0,163.3 614.2,224.0 614.5,166.2 614.8,215.6 615.0,150.5 615.2,214.2 615.5,160.6 615.8,210.2 616.0,160.1 616.2,207.2 616.5,149.8 616.8,206.7 617.0,155.0 617.2,215.2 617.5,152.6 617.8,215.3 618.0,149.2 618.2,205.0 618.5,145.6 618.8,204.1 619.0,146.1 619.2,201.7 619.5,143.7 619.8,202.0 620.0,143.2 620.2,198.9 620.5,140.3 620.8,184.6 621.0,131.8 621.2,183.2 621.5,138.0 621.8,180.6 622.0,133.7 622.2,186.3 622.5,136.4 622.8,178.7 623.0,135.8 623.2,185.8 623.5,134.1 623.8,176.4 624.0,129.8 624.2,171.2 624.5,131.5 624.8,170.3 625.0,127.7 625.2,170.0 625.5,131.1 625.8,167.3 626.0,131.9 626.2,169.0 626.5,130.9 626.8,164.5 627.0,110.7 627.2,164.0 627.5,128.3 627.8,162.7 628.0,125.9 628.2,162.0 628.5,119.7 628.8,166.7 629.0,122.5 629.2,162.8 629.5,109.9 629.8,170.6 630.0,118.4 630.2,157.7 630.5,116.3 630.8,156.5 631.0,111.6 631.2,154.7 631.5,107.5 631.8,153.5 632.0,104.4 632.2,152.5 632.5,106.6 632.8,152.0 633.0,98.9 633.2,148.8 633.5,96.9 633.8,156.0 634.0,102.9 634.2,146.6 634.5,96.7 634.8,157.2 635.0,96.9 635.2,150.7 635.5,104.2 635.8,144.7 636.0,104.1 636.2,142.8 636.5,104.1 636.8,141.3 637.0,104.2 637.2,141.3 637.5,97.8 637.8,148.4 638.0,103.0 638.2,137.8 638.5,104.2 638.8,138.7 639.0,101.7 639.2,135.1 639.5,104.5 639.8,137.7 640.0,106.0 640.2,137.8 640.5,105.2 640.8,147.2 641.0,100.1 641.2,150.5 641.5,102.8 641.8,148.4 642.0,97.4 642.2,149.7 642.5,107.0 642.8,144.6 643.0,98.5 643.2,150.2 643.5,108.7 643.8,146.9 644.0,107.8 644.2,152.1 644.5,103.9 644.8,148.7 645.0,108.4 645.2,149.6 645.5,110.6 645.8,150.3 646.0,104.4 646.2,154.3 646.5,100.0 646.8,151.2 647.0,99.0 647.2,152.7 647.5,110.8 647.8,153.4 648.0,112.5 648.2,164.2 648.5,108.7 648.8,159.2 649.0,112.6 649.2,155.9 649.5,115.7 649.8,158.7 650.0,107.6 650.2,152.8 650.5,118.2 650.8,154.6 651.0,111.4 651.2,154.5 651.5,112.0 651.8,158.9 652.0,121.4 652.2,154.8 652.5,122.5 652.8,165.0 653.0,119.4 653.2,156.5 653.5,120.5 653.8,163.8 654.0,122.5 654.2,171.1 654.5,119.9 654.8,156.9 655.0,120.6 655.2,154.3 655.5,117.9 655.8,154.0 656.0,115.7 656.2,155.0 656.5,108.2 656.8,159.3 657.0,115.3 657.2,155.2 657.5,115.6 657.8,163.3 658.0,103.6 658.2,162.5 658.5,109.5 658.8,153.2 659.0,113.5 659.2,164.9 659.5,113.0 659.8,155.3 660.0,110.9 660.2,152.2 660.5,111.5 660.8,152.3 661.0,110.2 661.2,154.1 661.5,110.6 661.8,154.9 662.0,99.4 662.2,153.5 662.5,103.3 662.8,172.9 663.0,108.7 663.2,158.7 663.5,117.0 663.8,180.2 664.0,110.3 664.2,163.3 664.5,119.2 664.8,167.6 665.0,112.1 665.2,169.3 665.5,125.0 665.8,178.2 666.0,126.5 666.2,173.5 666.5,128.2 666.8,174.4 667.0,120.1 667.2,186.5 667.5,117.5 667.8,184.0 668.0,125.0 668.2,180.3 668.5,133.8 668.8,182.6 669.0,136.5 669.2,184.0 669.5,123.1 669.8,196.7 670.0,139.3 670.2,190.1 670.5,130.7 670.8,200.6 671.0,139.3 671.2,215.6 671.5,142.1 671.8,202.6 672.0,142.3 672.2,202.8 672.5,145.7 672.8,198.0 673.0,146.6 673.2,196.9 673.5,135.6 673.8,199.4 674.0,146.1 674.2,202.7 674.5,143.2 674.8,216.6 675.0,149.9 675.2,217.9 675.5,149.3 675.8,211.2 676.0,143.7 676.2,204.8 676.5,148.7 676.8,211.5 677.0,154.2 677.2,215.3 677.5,154.5 677.8,207.9 678.0,142.2 678.2,217.8 678.5,160.0 678.8,223.1 679.0,158.8 679.2,225.5 679.5,162.0 679.8,225.8 680.0,163.2 680.2,216.2 680.5,164.3 680.8,214.6 681.0,156.1 681.2,216.3 681.5,163.6 681.8,227.7 682.0,163.4 682.2,222.5 682.5,167.9 682.8,219.7 683.0,168.4 683.2,216.8 683.5,169.2 683.8,217.6 684.0,163.4 684.2,222.5 684.5,175.0 684.8,230.2 685.0,176.4 685.2,225.0 685.5,178.1 685.8,222.5 686.0,177.4 686.2,221.9 686.5,179.0 686.8,223.2 687.0,177.5 687.2,228.4 687.5,171.8 687.8,225.5 688.0,175.6 688.2,228.7 688.5,187.5 688.8,226.2 689.0,187.8 689.2,232.5 689.5,187.7 689.8,237.9 690.0,183.3 690.2,241.4 690.5,190.8 690.8,259.4 691.0,196.5 691.2,265.6 691.5,198.9 691.8,260.8 692.0,199.1 692.2,275.4 692.5,195.6 692.8,291.5 693.0,204.1 693.2,278.5 693.5,201.8 693.8,284.2 694.0,204.2 694.2,271.2 694.5,188.5 694.8,269.9 695.0,199.4 695.2,269.4 695.5,190.7 695.8,278.0 696.0,205.2 696.2,266.5 696.5,206.0 696.8,275.7 697.0,193.1 697.2,277.2 697.5,207.0 697.8,261.7 698.0,205.4 698.2,260.2 698.5,210.9 698.8,268.1 699.0,211.6 699.2,264.8 699.5,211.8 699.8,266.5 700.0,213.0 700.2,263.7 700.5,212.2 700.8,259.0 701.0,204.0 701.2,267.0 701.5,216.0 701.8,266.3 702.0,217.5 702.2,266.8 702.5,214.8 702.8,262.7 703.0,218.7 703.2,262.9 703.5,221.7 703.8,261.8 704.0,214.5 704.2,270.1 704.5,209.5 704.8,263.0 705.0,213.5 705.2,272.4 705.5,211.9 705.8,260.5 706.0,212.3 706.2,262.0 706.5,206.4 706.8,260.2 707.0,218.7 707.2,263.0 707.5,200.6 707.8,270.6 708.0,211.8 708.2,258.1 708.5,205.5 708.8,258.8 709.0,207.6 709.2,257.5 709.5,212.8 709.8,256.1 710.0,211.6 710.2,256.0 710.5,217.2 710.8,282.1 711.0,217.5 711.2,257.5 711.5,219.4 711.8,262.5 712.0,218.9 712.2,264.2 712.5,213.7 712.8,262.0 713.0,221.8 713.2,258.6 713.5,215.3 713.8,263.4 714.0,225.3 714.2,268.9 714.5,222.8 714.8,262.1 715.0,228.2 715.2,269.5 715.5,226.1 715.8,269.6 716.0,222.9 716.2,268.2 716.5,220.2 716.8,267.2 717.0,221.6 717.2,272.8 717.5,227.0 717.8,264.7 718.0,220.8 718.2,272.1 718.5,224.0 718.8,261.6 719.0,220.6 719.2,266.9 719.5,221.6 719.8,260.2 720.0,217.8 720.2,260.6 720.5,199.0 720.8,262.1 721.0,201.3 721.2,262.8 721.5,209.2 721.8,261.3 722.0,203.0 722.2,254.6 722.5,210.3 722.8,253.6 723.0,212.6 723.2,253.0 723.5,213.6 723.8,256.7 724.0,211.9 724.2,252.0 724.5,213.1 724.8,261.5 725.0,209.7 725.2,256.1 725.5,209.6 725.8,251.4 726.0,211.1 726.2,254.6 726.5,210.9 726.8,250.3 727.0,211.2 727.2,253.8 727.5,214.1 727.8,251.0 728.0,223.6 728.2,258.2 728.5,225.9 728.8,258.7 729.0,232.4 729.2,264.4 729.5,238.5 729.8,269.8 730.0,240.1 730.2,269.6 730.5,244.3 730.8,273.1 731.0,249.5 731.2,276.9 731.5,251.6 731.8,283.4 732.0,254.3 732.2,286.3 732.5,253.7 732.8,282.3 733.0,253.4 733.2,280.9 733.5,256.0 733.8,284.7 734.0,249.7 734.2,283.9 734.5,250.1 734.8,284.5 735.0,258.9 735.2,300.9 735.5,255.5 735.8,293.5 736.0,255.8 736.2,291.0 736.5,256.7 736.8,293.6 737.0,256.4 737.2,301.4 737.5,264.4 737.8,295.1 738.0,261.3 738.2,304.2 738.5,268.7 738.8,307.8 739.0,267.2 739.2,308.3 739.5,262.8 739.8,305.9 740.0,273.4 740.2,313.1 740.5,275.6 740.8,309.1 741.0,265.8 741.2,309.9 741.5,276.8 741.8,313.0 742.0,272.3 742.2,312.4 742.5,274.5 742.8,314.2 743.0,277.3 743.2,319.2 743.5,268.8 743.8,322.4 744.0,280.8 744.2,320.6 744.5,279.3 744.8,326.2 745.0,270.3 745.2,317.4 745.5,278.0 745.8,316.0 746.0,276.3 746.2,316.4 746.5,275.7 746.8,319.3 747.0,273.0 747.2,312.9 747.5,267.5 747.8,324.2 748.0,257.0 748.2,311.1 748.5,262.0 748.8,303.6 749.0,257.0 749.2,305.4 749.5,244.3 749.8,292.6 750.0,234.3 750.2,291.1 750.5,240.1 750.8,287.9 751.0,229.4 751.2,278.1 751.5,227.4 751.8,276.4 752.0,225.7 752.2,287.5 752.5,222.3 752.8,272.1 753.0,224.6 753.2,280.8 753.5,211.9 753.8,266.8 754.0,220.9 754.2,265.4 754.5,206.5 754.8,263.3 755.0,204.4 755.2,260.7 755.5,205.8 755.8,265.8 756.0,211.6 756.2,266.5 756.5,198.2 756.8,258.7 757.0,208.4 757.2,251.9 757.5,204.3 757.8,254.5 758.0,202.4 758.2,251.6 758.5,194.9 758.8,261.8 759.0,187.6 759.2,253.1 759.5,199.2 759.8,243.6 760.0,194.3 760.2,246.7 760.5,194.7 760.8,246.4 761.0,191.5 761.2,235.5 761.5,180.5 761.8,233.5 762.0,181.7 762.2,235.1 762.5,184.1 762.8,228.3 763.0,178.1 763.2,225.9 763.5,181.5 763.8,227.8 764.0,174.6 764.2,226.8 764.5,168.1 764.8,218.0 765.0,177.0 765.2,219.2 765.5,174.7 765.8,215.5 766.0,173.5 766.2,213.5 766.5,172.7 766.8,218.9 767.0,161.7 767.2,206.1 767.5,165.0 767.8,214.4 768.0,164.9 768.2,201.5 768.5,163.7 768.8,202.9 769.0,161.6 769.2,204.9 769.5,164.0 769.8,199.9 770.0,163.0 770.2,196.9 770.5,162.0 770.8,199.3 771.0,160.6 771.2,196.6 771.5,159.1 771.8,196.4 772.0,150.3 772.2,197.0 772.5,155.7 772.8,205.2 773.0,153.7 773.2,201.7 773.5,146.6 773.8,208.8 774.0,122.3 774.2,197.7 774.5,150.6 774.8,194.7 775.0,143.8 775.2,194.3 775.5,142.9 775.8,207.6 776.0,141.3 776.2,188.2 776.5,136.9 776.8,187.9 777.0,126.0 777.2,185.6 777.5,130.7 777.8,190.6 778.0,125.0 778.2,175.3 778.5,125.0 778.8,171.0 779.0,126.2 779.2,178.8 779.5,114.7 779.8,166.3 780.0,113.6 780.2,164.9 780.5,113.3 780.8,161.7 781.0,119.1 781.2,165.5 781.5,118.1 781.8,166.9 782.0,113.9 782.2,155.6 782.5,106.4 782.8,156.7 783.0,114.4 783.2,151.0 783.5,114.9 783.8,153.7 784.0,112.3 784.2,146.7 784.5,110.0 784.8,145.0 785.0,107.9 785.2,144.5 785.5,101.4 785.8,140.9 786.0,99.1 786.2,142.0 786.5,100.8 786.8,133.8 787.0,103.3 787.2,131.4 787.5,101.8 787.8,128.6 788.0,95.5 788.2,127.8 788.5,101.5 788.8,132.9 789.0,101.3 789.2,135.1 789.5,99.5 789.8,135.3 790.0,101.6 790.2,127.8 790.5,101.4 790.8,128.1 791.0,99.4 791.2,128.7 791.5,98.1 791.8,131.3 792.0,92.6 792.2,135.0 792.5,101.4 792.8,131.2 793.0,101.5 793.2,129.4 793.5,97.2 793.8,133.8 794.0,93.8 794.2,133.4 794.5,101.3 794.8,131.4 795.0,100.6 795.2,133.1 795.5,97.0 795.8,135.1 796.0,97.5 796.2,131.9 796.5,93.8 796.8,134.8 797.0,97.7 797.2,134.3 797.5,93.1 797.8,136.3 798.0,103.1 798.2,137.7 798.5,98.7 798.8,148.9 799.0,102.3 799.2,145.3 799.5,105.7 799.8,166.1 800.0,102.2 800.2,151.6 800.5,100.4 800.8,149.9 801.0,106.8 801.2,152.4 801.5,105.3 801.8,155.2 802.0,111.3 802.2,159.0 802.5,103.5 802.8,160.0 803.0,113.6 803.2,163.6 803.5,110.8 803.8,177.7 804.0,112.2 804.2,166.5 804.5,114.5 804.8,168.8 805.0,104.9 805.2,198.5 805.5,112.2 805.8,182.4 806.0,117.0 806.2,176.3 806.5,116.2 806.8,177.7 807.0,97.1 807.2,200.4 807.5,127.7 807.8,190.2 808.0,130.2 808.2,185.5 808.5,127.8 808.8,190.7 809.0,135.9 809.2,191.9 809.5,127.1 809.8,205.3 810.0,130.5 810.2,199.6 810.5,125.7 810.8,197.2 811.0,143.2 811.2,210.9 811.5,115.4 811.8,199.8 812.0,139.5 812.2,212.5 812.5,137.9 812.8,204.1 813.0,144.1 813.2,205.8 813.5,150.0 813.8,209.3 814.0,156.0 814.2,217.3 814.5,158.9 814.8,216.5 815.0,149.7 815.2,213.8 815.5,156.8 815.8,221.0 816.0,164.2 816.2,226.5 816.5,166.2 816.8,227.9 817.0,164.8 817.2,221.0 817.5,163.3 817.8,221.8 818.0,161.4 818.2,224.8 818.5,168.6 818.8,224.2 819.0,172.0 819.2,240.2 819.5,166.0 819.8,232.3 820.0,173.7 820.2,226.3 820.5,173.9 820.8,236.6 821.0,172.7 821.2,231.1 821.5,170.3 821.8,225.8 822.0,175.8 822.2,226.9 822.5,176.4 822.8,227.9 823.0,169.7 823.2,242.1 823.5,176.0 823.8,235.1 824.0,175.6 824.2,229.3 824.5,175.4 824.8,241.2 825.0,178.7 825.2,231.9 825.5,163.5 825.8,247.3 826.0,165.4 826.2,235.7 826.5,174.0 826.8,231.5 827.0,180.7 827.2,234.4 827.5,173.5 827.8,239.8 828.0,170.4 828.2,235.7 828.5,180.0 828.8,240.3 829.0,181.4 829.2,233.6 829.5,172.9 829.8,233.7 830.0,175.1 830.2,233.9 830.5,179.4 830.8,240.6 831.0,180.4 831.2,234.7 831.5,166.2 831.8,245.6 832.0,181.3 832.2,244.8 832.5,180.6 832.8,234.8 833.0,179.7 833.2,235.5 833.5,178.8 833.8,243.6 834.0,184.7 834.2,245.1 834.5,181.1 834.8,251.4 835.0,187.8 835.2,240.6 835.5,185.0 835.8,239.8 836.0,190.6 836.2,250.2 836.5,190.1 836.8,247.7 837.0,186.0 837.2,258.8 837.5,195.5 837.8,246.4 838.0,197.8 838.2,246.9 838.5,185.0 838.8,248.9 839.0,200.2 839.2,263.5 839.5,205.2 839.8,254.8 840.0,205.3 840.2,255.4 840.5,209.4 840.8,257.5 841.0,202.6 841.2,265.7 841.5,201.8 841.8,262.6 842.0,206.0 842.2,270.2 842.5,208.9 842.8,268.2 843.0,211.6 843.2,264.2 843.5,216.7 843.8,269.5 844.0,210.6 844.2,266.6 844.5,214.9 844.8,271.3 845.0,215.8 845.2,265.3 845.5,211.8 845.8,265.5 846.0,215.2 846.2,264.2 846.5,190.6 846.8,263.7 847.0,209.5 847.2,265.2 847.5,205.5 847.8,268.1 848.0,213.5 848.2,267.1 848.5,213.2 848.8,262.1 849.0,212.4 849.2,263.5 849.5,212.2 849.8,264.0 850.0,208.0 850.2,261.9 850.5,206.3 850.8,267.0 851.0,200.5 851.2,262.8 851.5,213.8 851.8,261.5 852.0,211.0 852.2,268.5 852.5,208.7 852.8,262.0 853.0,213.4 853.2,263.4 853.5,216.1 853.8,270.7 854.0,216.6 854.2,262.1 854.5,217.1 854.8,266.0 855.0,216.2 855.2,266.5 855.5,217.5 855.8,262.5 856.0,204.8 856.2,261.6 856.5,212.9 856.8,263.3 857.0,218.4 857.2,261.6 857.5,212.9 857.8,262.6 858.0,215.9 858.2,268.6 858.5,210.0 858.8,262.4 859.0,219.0 859.2,271.9 859.5,217.6 859.8,259.7 860.0,215.7 860.2,263.3 860.5,215.0 860.8,260.7 861.0,217.5 861.2,267.7 861.5,208.1 861.8,265.3 862.0,216.6 862.2,259.4 862.5,213.9 862.8,257.1 863.0,212.0 863.2,267.9 863.5,213.2 863.8,264.1 864.0,213.7 864.2,265.1 864.5,196.9 864.8,254.3 865.0,210.9 865.2,268.5 865.5,207.9 865.8,255.7 866.0,206.0 866.2,253.6 866.5,201.8 866.8,252.7 867.0,209.8 867.2,252.9 867.5,210.4 867.8,251.6 868.0,200.1 868.2,262.9 868.5,197.1 868.8,260.9 869.0,198.0 869.2,254.2 869.5,206.4 869.8,252.7 870.0,193.5 870.2,261.9 870.5,197.8 870.8,250.0 871.0,198.1 871.2,254.1 871.5,199.7 871.8,244.7 872.0,197.6 872.2,245.9 872.5,184.3 872.8,242.7 873.0,192.7 873.2,241.0 873.5,188.6 873.8,250.9 874.0,187.1 874.2,246.8 874.5,185.7 874.8,239.0 875.0,183.3 875.2,236.4 875.5,183.2 875.8,245.9 876.0,168.7 876.2,236.4 876.5,177.3 876.8,244.5 877.0,179.8 877.2,254.1 877.5,180.3 877.8,241.0 878.0,170.2 878.2,237.4 878.5,170.7 878.8,246.8 879.0,157.1 879.2,231.2 879.5,175.5 879.8,248.3 880.0,179.3 880.2,234.8 880.5,180.0 880.8,235.4 881.0,178.3 881.2,242.5 881.5,167.3 881.8,225.9 882.0,178.1 882.2,225.5 882.5,176.8 882.8,230.8 883.0,177.4 883.2,230.7 883.5,176.5 883.8,221.0 884.0,175.7 884.2,221.6 884.5,173.2 884.8,227.6 885.0,162.3 885.2,229.3 885.5,160.9 885.8,239.9 886.0,173.2 886.2,214.7 886.5,168.6 886.8,215.7 887.0,172.9 887.2,216.0 887.5,167.2 887.8,216.6 888.0,167.9 888.2,223.8 888.5,169.6 888.8,216.6 889.0,171.9 889.2,214.6 889.5,170.0 889.8,218.5 890.0,172.2 890.2,221.4 890.5,166.2 890.8,217.3 891.0,163.1 891.2,223.8 891.5,170.2 891.8,224.5 892.0,155.3 892.2,217.5 892.5,167.7 892.8,219.6 893.0,155.1 893.2,207.6 893.5,151.8 893.8,210.3 894.0,161.4 894.2,204.4 894.5,152.5 894.8,203.5 895.0,156.8 895.2,206.0 895.5,158.6 895.8,204.8 896.0,152.4 896.2,205.9 896.5,155.8 896.8,204.3 897.0,156.1 897.2,194.7 897.5,148.4 897.8,194.7 898.0,154.7 898.2,198.4 898.5,144.1 898.8,190.7 899.0,154.1 899.2,198.6 899.5,153.4 899.8,197.3 900.0,147.4 900.2,189.7 900.5,147.1 900.8,188.0 901.0,153.6 901.2,188.4 901.5,151.9 901.8,195.0 902.0,146.7 902.2,197.8 902.5,155.9 902.8,189.0 903.0,156.6 903.2,187.7 903.5,157.1 903.8,188.0 904.0,151.8 904.2,194.1 904.5,150.9 904.8,187.1 905.0,154.6 905.2,192.7 905.5,148.4 905.8,187.1 906.0,152.0 906.2,186.4 906.5,148.9 906.8,194.4 907.0,135.0 907.2,185.1 907.5,145.3 907.8,194.4 908.0,144.1 908.2,185.1 908.5,144.1 908.8,194.4 909.0,138.3 909.2,187.4 909.5,141.9 909.8,188.6 910.0,130.9 910.2,182.2 910.5,137.1 910.8,190.0 911.0,129.2 911.2,182.8 911.5,130.5 911.8,177.5 912.0,130.9 912.2,174.2 912.5,129.1 912.8,173.5 913.0,126.9 913.2,195.7 913.5,126.9 913.8,184.3 914.0,123.8 914.2,170.9 914.5,123.9 914.8,172.5 915.0,115.5 915.2,172.6 915.5,124.2 915.8,170.0 916.0,115.9 916.2,169.4 916.5,121.1 916.8,180.4 917.0,111.5 917.2,179.4 917.5,111.2 917.8,180.9 918.0,120.8 918.2,169.4 918.5,106.0 918.8,180.5 919.0,108.3 919.2,183.1 919.5,111.1 919.8,177.0 920.0,116.1 920.2,167.9 920.5,103.9 920.8,167.6 921.0,108.6 921.2,168.6 921.5,114.0 921.8,179.5 922.0,108.9 922.2,169.4 922.5,115.8 922.8,168.7 923.0,108.8 923.2,166.5 923.5,116.7 923.8,168.3 924.0,116.4 924.2,167.7 924.5,118.2 924.8,170.7 925.0,116.9 925.2,171.1 925.5,113.9 925.8,168.7 926.0,113.5 926.2,168.8 926.5,118.4 926.8,175.3 927.0,120.7 927.2,170.6 927.5,122.5 927.8,177.2 928.0,121.9 928.2,176.0 928.5,115.3 928.8,184.2 929.0,112.1 929.2,174.1 929.5,113.8 929.8,189.4 930.0,128.5 930.2,186.5 930.5,130.0 930.8,180.2 931.0,130.0 931.2,179.7 931.5,129.0 931.8,180.1 932.0,135.0 932.2,185.5 932.5,136.6 932.8,182.8 933.0,113.7 933.2,185.4 933.5,124.5 933.8,185.2 934.0,138.9 934.2,192.8 934.5,133.8 934.8,192.8 935.0,137.4 935.2,195.5 935.5,137.2 935.8,200.5 936.0,144.6 936.2,195.1 936.5,135.2 936.8,193.6 937.0,148.7 937.2,193.3 937.5,148.9 937.8,196.7 938.0,144.9 938.2,196.0 938.5,150.2 938.8,196.3 939.0,141.6 939.2,195.1 939.5,142.7 939.8,195.0 940.0,144.1 940.2,203.6 940.5,142.5 940.8,208.7 941.0,134.5 941.2,201.4 941.5,154.2 941.8,200.5 942.0,154.0 942.2,196.5 942.5,155.9 942.8,199.0 943.0,154.9 943.2,209.2 943.5,152.3 943.8,210.1 944.0,152.0 944.2,198.1 944.5,152.4 944.8,207.7 945.0,158.9 945.2,199.4 945.5,149.1 945.8,211.1 946.0,157.6 946.2,200.3 946.5,161.4 946.8,207.8 947.0,151.4 947.2,212.7 947.5,158.2 947.8,201.5 948.0,159.0 948.2,202.1 948.5,161.2 948.8,206.2 949.0,166.6 949.2,205.9 949.5,164.3 949.8,216.0 950.0,162.8 950.2,206.9 950.5,165.0 950.8,207.1 951.0,171.1 951.2,217.5 951.5,170.4 951.8,213.6 952.0,168.1 952.2,213.7 952.5,165.7 952.8,216.5 953.0,176.5 953.2,223.2 953.5,174.7 953.8,215.1 954.0,179.7 954.2,216.3 954.5,180.7 954.8,228.8 955.0,180.8 955.2,220.8 955.5,183.4 955.8,219.0 956.0,183.3 956.2,226.6 956.5,176.7 956.8,224.4 957.0,185.7 957.2,221.8 957.5,187.3 957.8,223.9 958.0,188.8 958.2,227.8 958.5,187.8 958.8,235.4 959.0,191.6 959.2,234.1 959.5,181.5 959.8,236.2 960.0,195.7 960.2,240.6 960.5,196.3 960.8,238.3 961.0,199.6 961.2,246.8 961.5,202.5 961.8,247.4 962.0,205.3 962.2,243.5 962.5,206.5 962.8,252.3 963.0,202.6 963.2,258.6 963.5,210.3 963.8,262.5 964.0,206.1 964.2,255.5 964.5,216.0 964.8,256.1 965.0,212.0 965.2,262.7 965.5,211.8 965.8,261.6 966.0,222.8 966.2,268.6 966.5,224.5 966.8,275.1 967.0,226.2 967.2,283.9 967.5,224.1 967.8,274.2 968.0,214.1 968.2,274.9 968.5,219.0 968.8,269.7 969.0,224.9 969.2,267.1 969.5,210.5 969.8,274.2 970.0,217.9 970.2,268.4 970.5,214.4 970.8,271.0 971.0,213.0 971.2,265.6 971.5,210.1 971.8,274.2 972.0,212.8 972.2,263.8 972.5,219.0 972.8,265.5 973.0,211.3 973.2,265.0 973.5,211.8 973.8,262.1 974.0,214.5 974.2,266.0 974.5,205.1 974.8,257.2 975.0,214.4 975.2,255.4 975.5,210.4 975.8,254.7 976.0,202.3 976.2,256.2 976.5,209.1 976.8,260.3 977.0,210.6 977.2,253.9 977.5,212.0 977.8,255.7 978.0,211.7 978.2,258.8 978.5,211.2 978.8,254.3 979.0,198.0 979.2,259.4 979.5,208.3 979.8,259.8 980.0,211.0 980.2,254.9 980.5,201.0 980.8,265.8 981.0,207.1 981.2,267.5 981.5,210.8 981.8,266.9 982.0,205.7 982.2,254.8 982.5,210.9 982.8,272.9 983.0,206.7 983.2,257.3 983.5,205.9 983.8,262.1 984.0,208.5 984.2,251.9 984.5,201.6 984.8,251.8 985.0,207.3 985.2,256.5 985.5,206.6 985.8,250.8 986.0,199.1 986.2,250.3 986.5,204.5 986.8,264.0 987.0,199.2 987.2,254.0 987.5,202.5 987.8,255.3 988.0,196.5 988.2,248.9 988.5,201.9 988.8,249.8 989.0,206.6 989.2,248.9 989.5,206.8 989.8,249.5 990.0,194.6 990.2,249.1 990.5,200.9 990.8,249.0 991.0,206.9 991.2,256.8 991.5,187.4 991.8,249.6 992.0,195.4 992.2,259.6 992.5,197.7 992.8,248.3 993.0,201.8 993.2,249.2 993.5,203.0 993.8,255.1 994.0,200.2 994.2,248.1 994.5,203.5 994.8,249.3 995.0,185.2 995.2,247.1 995.5,190.8 995.8,244.3 996.0,198.7 996.2,243.2 996.5,198.3 996.8,247.7 997.0,194.6 997.2,248.0 997.5,187.8 997.8,245.6 998.0,184.9 998.2,241.4 998.5,180.4 998.8,237.9 999.0,180.3 999.2,244.2 999.5,192.5 999.8,239.1 1000.0,188.9 1000.2,239.8 1000.5,186.4 1000.8,233.5 1001.0,182.9 1001.2,235.1 1001.5,188.0 1001.8,234.8 1002.0,185.3 1002.2,232.5 1002.5,183.8 1002.8,231.1 1003.0,178.9 1003.2,240.5 1003.5,180.6 1003.8,230.6 1004.0,179.5 1004.2,235.1 1004.5,178.8 1004.8,229.9 1005.0,171.1 1005.2,225.3 1005.5,174.7 1005.8,223.4 1006.0,173.8 1006.2,223.7 1006.5,159.3 1006.8,222.1 1007.0,169.1 1007.2,220.2 1007.5,168.5 1007.8,221.0 1008.0,168.0 1008.2,231.0 1008.5,162.6 1008.8,221.1 1009.0,163.7 1009.2,227.5 1009.5,158.7 1009.8,217.2 1010.0,161.7 1010.2,222.2 1010.5,158.7 1010.8,214.7 1011.0,161.0 1011.2,214.7 1011.5,160.4 1011.8,225.4 1012.0,144.6 1012.2,220.5 1012.5,150.1 1012.8,218.3 1013.0,155.6 1013.2,219.7 1013.5,156.8 1013.8,220.4 1014.0,149.4 1014.2,220.1 1014.5,149.7 1014.8,212.1 1015.0,148.2 1015.2,216.0 1015.5,137.3 1015.8,201.1 1016.0,149.7 1016.2,201.4 1016.5,136.4 1016.8,196.5 1017.0,145.8 1017.2,194.2 1017.5,132.2 1017.8,194.0 1018.0,131.0 1018.2,191.3 1018.5,141.6 1018.8,193.2 1019.0,139.2 1019.2,187.8 1019.5,129.5 1019.8,184.0 1020.0,128.4 1020.2,193.9 1020.5,139.1 1020.8,183.3 1021.0,127.7 1021.2,190.6 1021.5,138.5 1021.8,189.2 1022.0,127.8 1022.2,196.7 1022.5,130.6 1022.8,197.6 1023.0,136.4 1023.2,188.2 1023.5,136.1 1023.8,184.7 1024.0,129.3 1024.2,188.6 1024.5,135.3 1024.8,185.4 1025.0,133.4 1025.2,188.2 1025.5,123.1 1025.8,193.4 1026.0,131.9 1026.2,192.4 1026.5,119.8 1026.8,187.0 1027.0,118.7 1027.2,184.8 1027.5,128.9 1027.8,183.2 1028.0,130.2 1028.2,195.4 1028.5,114.3 1028.8,194.2 1029.0,124.3 1029.2,187.7 1029.5,127.6 1029.8,192.4 1030.0,129.6 1030.2,181.4 1030.5,126.8 1030.8,187.5 1031.0,130.2 1031.2,181.4 1031.5,124.5 1031.8,190.8 1032.0,128.7 1032.2,181.8 1032.5,130.2 1032.8,182.6 1033.0,131.1 1033.2,181.0 1033.5,123.6 1033.8,181.6 1034.0,120.5 1034.2,190.9 1034.5,133.9 1034.8,194.1 1035.0,131.1 1035.2,180.7 1035.5,136.0 1035.8,189.7 1036.0,137.3 1036.2,194.6 1036.5,124.6 1036.8,185.3 1037.0,139.2 1037.2,187.4 1037.5,138.3 1037.8,193.0 1038.0,131.4 1038.2,190.1 1038.5,137.7 1038.8,188.5 1039.0,142.0 1039.2,196.6 1039.5,137.1 1039.8,189.9 1040.0,135.5 1040.2,194.7 1040.5,138.6 1040.8,198.4 1041.0,142.3 1041.2,187.8 1041.5,136.1 1041.8,196.4 1042.0,142.0 1042.2,186.9 1042.5,141.6 1042.8,190.0 1043.0,141.6 1043.2,191.5 1043.5,127.8 1043.8,195.6 1044.0,140.7 1044.2,185.4 1044.5,139.8 1044.8,197.3 1045.0,137.6 1045.2,190.3 1045.5,137.3 1045.8,193.8 1046.0,134.5 1046.2,180.9 1046.5,121.8 1046.8,183.1 1047.0,121.0 1047.2,180.9 1047.5,133.4 1047.8,191.3 1048.0,132.7 1048.2,186.5 1048.5,131.6 1048.8,177.0 1049.0,120.5 1049.2,188.2 1049.5,132.9 1049.8,177.7 1050.0,126.0 1050.2,178.9 1050.5,128.9 1050.8,176.2 1051.0,124.1 1051.2,179.6 1051.5,134.6 1051.8,188.0 1052.0,124.3 1052.2,179.7 1052.5,123.2 1052.8,177.7 1053.0,136.2 1053.2,187.9 1053.5,127.2 1053.8,193.6 1054.0,133.3 1054.2,180.1 1054.5,140.8 1054.8,186.9 1055.0,140.2 1055.2,182.0 1055.5,142.9 1055.8,187.0 1056.0,132.7 1056.2,184.8 1056.5,142.8 1056.8,183.8 1057.0,132.9 1057.2,185.6 1057.5,142.2 1057.8,184.7 1058.0,131.9 1058.2,186.6 1058.5,134.0 1058.8,188.5 1059.0,135.0 1059.2,187.4 1059.5,141.1 1059.8,184.4 1060.0,134.4 1060.2,188.7 1060.5,135.7 1060.8,197.5 1061.0,139.0 1061.2,194.9 1061.5,125.2 1061.8,186.4 1062.0,125.3 1062.2,192.5 1062.5,132.3 1062.8,183.9 1063.0,124.9 1063.2,190.4 1063.5,135.0 1063.8,182.8 1064.0,135.0 1064.2,181.9 1064.5,133.1 1064.8,187.7 1065.0,130.7 1065.2,183.0 1065.5,123.7 1065.8,185.1 1066.0,126.5 1066.2,181.7 1066.5,137.1 1066.8,182.6 1067.0,129.3 1067.2,182.5 1067.5,128.8 1067.8,195.3 1068.0,136.9 1068.2,183.7 1068.5,139.7 1068.8,196.2 1069.0,141.5 1069.2,185.3 1069.5,145.4 1069.8,186.6 1070.0,146.7 1070.2,193.5 1070.5,146.0 1070.8,193.0 1071.0,147.5 1071.2,189.1 1071.5,148.8 1071.8,191.1 1072.0,151.3 1072.2,190.9 1072.5,146.0 1072.8,192.6 1073.0,155.8 1073.2,193.3 1073.5,156.9 1073.8,195.8 1074.0,147.9 1074.2,200.0 1074.5,155.6 1074.8,194.5 1075.0,156.2 1075.2,200.4 1075.5,152.5 1075.8,206.3 1076.0,160.6 1076.2,198.1 1076.5,162.3 1076.8,202.6 1077.0,161.6 1077.2,200.8 1077.5,157.9 1077.8,200.4 1078.0,166.6 1078.2,203.4 1078.5,157.6 1078.8,201.4 1079.0,168.4 1079.2,207.0 1079.5,167.3 1079.8,205.8 1080.0,163.1 1080.2,204.3 1080.5,164.8 1080.8,204.5 1081.0,168.2 1081.2,214.8 1081.5,169.8 1081.8,210.4 1082.0,171.5 1082.2,206.9 1082.5,168.2 1082.8,213.9 1083.0,176.4 1083.2,208.1 1083.5,177.2 1083.8,210.5 1084.0,170.1 1084.2,209.4 1084.5,170.5 1084.8,218.4 1085.0,180.5 1085.2,214.2 1085.5,177.4 1085.8,215.3 1086.0,182.5 1086.2,212.3 1086.5,175.0 1086.8,212.6 1087.0,175.9 1087.2,212.2 1087.5,180.9 1087.8,219.7 1088.0,184.1 1088.2,213.2 1088.5,183.3 1088.8,216.6 1089.0,185.3 1089.2,214.3 1089.5,183.1 1089.8,214.7 1090.0,184.2 1090.2,215.3 1090.5,185.1 1090.8,216.8 1091.0,186.8 1091.2,217.0 1091.5,196.1 1091.8,230.1 1092.0,200.1 1092.2,234.1 1092.5,199.5 1092.8,237.8 1093.0,205.4 1093.2,244.6 1093.5,200.6 1093.8,254.1 1094.0,217.1 1094.2,268.5 1094.5,216.6 1094.8,261.0 1095.0,209.5 1095.2,266.3 1095.5,219.0 1095.8,264.4 1096.0,222.8 1096.2,279.1 1096.5,223.4 1096.8,268.1 1097.0,212.9 1097.2,269.8 1097.5,219.8 1097.8,276.4 1098.0,219.9 1098.2,274.4 1098.5,231.0 1098.8,286.2 1099.0,224.3 1099.2,285.7 1099.5,235.2 1099.8,286.1 1100.0,236.4 1100.2,295.0 1100.5,233.1 1100.8,297.4 1101.0,234.0 1101.2,284.9 1101.5,236.5 1101.8,286.2 1102.0,223.9 1102.2,285.6 1102.5,235.7 1102.8,285.2 1103.0,235.7 1103.2,286.9 1103.5,235.2 1103.8,284.6 1104.0,225.8 1104.2,284.4 1104.5,222.7 1104.8,288.4 1105.0,204.6 1105.2,284.3 1105.5,225.5 1105.8,295.5 1106.0,230.7 1106.2,283.8 1106.5,227.1 1106.8,283.5 1107.0,228.3 1107.2,288.9 1107.5,226.3 1107.8,294.5 1108.0,226.3 1108.2,293.5 1108.5,218.0 1108.8,296.3 1109.0,225.9 1109.2,286.1 1109.5,221.5 1109.8,283.4 1110.0,209.4 1110.2,282.4 1110.5,218.9 1110.8,298.7 1111.0,225.2 1111.2,287.6 1111.5,225.2 1111.8,297.7 1112.0,225.8 1112.2,293.6 1112.5,220.1 1112.8,287.8 1113.0,220.0 1113.2,290.1 1113.5,218.7 1113.8,279.7 1114.0,207.4 1114.2,293.7 1114.5,218.7 1114.8,291.6 1115.0,217.8 1115.2,281.8 1115.5,210.8 1115.8,281.8 1116.0,213.3 1116.2,284.0 1116.5,224.4 1116.8,286.7 1117.0,224.7 1117.2,283.2 1117.5,230.7 1117.8,300.1 1118.0,230.9 1118.2,287.6 1118.5,233.3 1118.8,287.5 1119.0,234.7 1119.2,294.7 1119.5,240.6 1119.8,291.2 1120.0,238.2 1120.2,309.5 1120.5,245.1 1120.8,308.8 1121.0,247.4 1121.2,305.6 1121.5,233.4 1121.8,298.9 1122.0,244.5 1122.2,312.0 1122.5,255.3 1122.8,303.3 1123.0,239.6 1123.2,310.8 1123.5,256.4 1123.8,306.9 1124.0,251.5 1124.2,316.8 1124.5,239.5 1124.8,318.7 1125.0,251.2 1125.2,314.1 1125.5,246.8 1125.8,315.1 1126.0,257.7 1126.2,329.2 1126.5,257.8 1126.8,335.0 1127.0,243.1 1127.2,320.2 1127.5,256.4 1127.8,341.4 1128.0,260.9 1128.2,329.0 1128.5,262.6 1128.8,326.3 1129.0,248.8 1129.2,330.2 1129.5,254.1 1129.8,326.8 1130.0,262.7 1130.2,332.4 1130.5,259.8 1130.8,335.2 1131.0,264.7 1131.2,333.9 1131.5,252.8 1131.8,329.5 1132.0,248.3 1132.2,341.5 1132.5,255.3 1132.8,335.7 1133.0,256.5 1133.2,332.5 1133.5,267.6 1133.8,347.6 1134.0,251.9 1134.2,339.4 1134.5,264.2 1134.8,331.2 1135.0,256.9 1135.2,333.8 1135.5,264.1 1135.8,340.6 1136.0,261.6 1136.2,336.5 1136.5,266.4 1136.8,330.9 1137.0,270.4 1137.2,338.2 1137.5,274.9 1137.8,330.2 1138.0,280.4 1138.2,326.3 1138.5,281.7 1138.8,325.1 1139.0,272.1 1139.2,334.5 1139.5,271.7 1139.8,322.6 1140.0,276.4 1140.2,324.5 1140.5,273.7 1140.8,333.0 1141.0,258.8 1141.2,317.2 1141.5,267.0 1141.8,315.2 1142.0,257.8 1142.2,311.7 1142.5,252.3 1142.8,309.5 1143.0,254.0 1143.2,307.4 1143.5,240.0 1143.8,314.1 1144.0,247.1 1144.2,305.0 1144.5,236.5 1144.8,305.5 1145.0,245.3 1145.2,307.2 1145.5,247.7 1145.8,303.9 1146.0,251.9 1146.2,311.7 1146.5,239.9 1146.8,307.3 1147.0,251.6 1147.2,309.0 1147.5,250.9 1147.8,297.6 1148.0,246.1 1148.2,310.4 1148.5,245.6 1148.8,308.3 1149.0,240.0 1149.2,300.3 1149.5,239.7 1149.8,302.5 1150.0,240.7 1150.2,293.3 1150.5,243.2 1150.8,304.6 1151.0,247.3 1151.2,295.4 1151.5,239.8 1151.8,295.4 1152.0,243.9 1152.2,284.7 1152.5,240.4 1152.8,290.0 1153.0,225.2 1153.2,283.8 1153.5,231.2 1153.8,279.2 1154.0,221.9 1154.2,275.5 1154.5,230.9 1154.8,274.9 1155.0,224.0 1155.2,270.6 1155.5,225.6 1155.8,268.7 1156.0,216.9 1156.2,278.6 1156.5,208.9 1156.8,263.9 1157.0,216.1 1157.2,270.4 1157.5,216.1 1157.8,260.1 1158.0,213.4 1158.2,266.0 1158.5,213.1 1158.8,260.6 1159.0,209.4 1159.2,262.3 1159.5,202.1 1159.8,257.4 1160.0,196.2 1160.2,253.8 1160.5,207.1 1160.8,257.8 1161.0,206.4 1161.2,251.3 1161.5,205.3 1161.8,253.0 1162.0,203.0 1162.2,248.1 1162.5,201.9 1162.8,243.1 1163.0,200.7 1163.2,239.8 1163.5,189.8 1163.8,243.7 1164.0,197.1 1164.2,243.7 1164.5,195.9 1164.8,233.7 1165.0,193.4 1165.2,231.3 1165.5,184.9 1165.8,239.7 1166.0,186.5 1166.2,230.4 1166.5,184.3 1166.8,223.6 1167.0,177.5 1167.2,225.3 1167.5,176.2 1167.8,219.2 1168.0,175.9 1168.2,214.4 1168.5,169.8 1168.8,222.7 1169.0,169.6 1169.2,210.3 1169.5,164.6 1169.8,220.6 1170.0,157.0 1170.2,208.3 1170.5,159.4 1170.8,208.1 1171.0,153.5 1171.2,205.4 1171.5,150.1 1171.8,203.1 1172.0,147.0 1172.2,209.8 1172.5,140.9 1172.8,197.8 1173.0,133.2 1173.2,211.9 1173.5,127.5 1173.8,196.5 1174.0,121.5 1174.2,197.7 1174.5,120.4 1174.8,180.6 1175.0,121.8 1175.2,175.4 1175.5,115.9 1175.8,171.0 1176.0,104.4 1176.2,177.6 1176.5,106.7 1176.8,161.6 1177.0,96.6 1177.2,164.8 1177.5,97.1 1177.8,156.3 1178.0,82.4 1178.2,145.3 1178.5,93.6 1178.8,146.7 1179.0,91.1 1179.2,141.4 1179.5,93.3 1179.8,142.8 1180.0,92.8 1180.2,137.7 1180.5,90.1 1180.8,141.4 1181.0,89.1 1181.2,135.9 1181.5,82.4 1181.8,135.6 1182.0,91.3 1182.2,131.5 1182.5,82.0 1182.8,130.8 1183.0,90.5 1183.2,127.0 1183.5,89.3 1183.8,124.2 1184.0,80.9 1184.2,131.1 1184.5,87.9 1184.8,122.8 1185.0,89.2 1185.2,121.3 1185.5,87.4 1185.8,123.2 1186.0,81.5 1186.2,129.8 1186.5,79.9 1186.8,127.5 1187.0,88.6 1187.2,128.1 1187.5,85.6 1187.8,130.7 1188.0,86.9 1188.2,134.8 1188.5,88.3 1188.8,142.7 1189.0,85.9 1189.2,130.8 1189.5,86.9 1189.8,144.6 1190.0,79.6 1190.2,135.5 1190.5,86.9 1190.8,139.0 1191.0,83.3 1191.2,136.6 1191.5,84.2 1191.8,136.3 1192.0,82.9 1192.2,134.4 1192.5,82.1 1192.8,139.8 1193.0,69.1 1193.2,132.9 1193.5,76.5 1193.8,137.0 1194.0,80.5 1194.2,126.9 1194.5,80.1 1194.8,125.3 1195.0,78.2 1195.2,124.4 1195.5,67.3 1195.8,122.9 1196.0,74.4 1196.2,121.6 1196.5,65.5 1196.8,121.8 1197.0,77.2 1197.2,123.9 1197.5,73.8 1197.8,128.0 1198.0,70.0 1198.2,129.7 1198.5,67.0 1198.8,121.7 1199.0,75.6 1199.2,127.6 1199.5,73.4 1199.8,120.1 1200.0,64.6 1200.2,124.7 1200.5,70.1 1200.8,128.8 1201.0,65.1 1201.2,124.7 1201.5,72.9 1201.8,120.8 1202.0,71.8 1202.2,128.9 1202.5,75.2 1202.8,128.5 1203.0,72.9 1203.2,135.1 1203.5,72.2 1203.8,131.0 1204.0,60.6 1204.2,126.3 1204.5,71.3 1204.8,122.5 1205.0,71.2 1205.2,122.0 1205.5,75.1 1205.8,122.7"/>
<line x1="513.3" y1="150" x2="513.3" y2="97" stroke="#000" stroke-width="1.2"/>
<line x1="514.2" y1="145" x2="514.2" y2="104" stroke="#000" stroke-width="1.2"/>
<line x1="1030.6" y1="135" x2="1030.6" y2="107" stroke="#000" stroke-width="1.2"/>
<line x1="1066" y1="128" x2="1066" y2="106" stroke="#000" stroke-width="1.2"/>
<line x1="1021.3" y1="140" x2="1021.3" y2="112" stroke="#000" stroke-width="1.2"/>
<polyline fill="none" stroke="#1f77b4" stroke-width="3.1" stroke-linejoin="round" points="131.0,190.0 132.0,192.9 132.3,198.8 133.6,225.6 134.9,253.1 135.3,259.0 136.2,268.2 137.5,280.3 138.8,293.9 138.9,295.8 140.1,290.3 141.4,285.8 142.7,278.7 143.3,278.1 144.0,280.3 145.3,288.4 146.0,290.8 146.6,290.5 147.9,288.9 149.2,288.7 149.5,288.6 150.5,287.0 151.8,286.0 153.1,285.4 154.4,284.0 155.7,283.1 156.6,282.8 157.0,280.6 158.3,276.1 159.6,268.3 160.9,264.6 162.2,257.6 162.9,254.5 163.5,253.1 164.8,252.5 166.1,250.9 167.4,249.6 168.7,247.4 169.0,247.6 170.0,247.9 171.3,245.2 172.6,242.8 173.9,242.6 175.2,240.2 176.5,239.3 177.8,237.8 178.0,236.7 179.1,234.2 180.4,234.2 181.7,233.6 183.0,231.5 183.3,231.9 184.3,226.2 185.6,216.9 186.8,211.0 186.9,210.4 188.2,197.3 189.5,184.7 190.4,175.9 190.8,175.0 192.1,167.1 193.4,160.9 194.7,155.2 195.7,149.2 196.0,148.4 197.3,147.6 198.6,147.4 199.9,146.2 201.2,143.1 202.5,141.5 203.8,141.5 204.6,140.8 205.1,142.4 206.4,146.8 207.7,151.1 208.2,151.7 209.0,151.8 210.3,149.9 211.6,149.4 212.9,150.1 214.2,150.1 215.5,149.7 216.8,149.2 218.1,148.9 218.8,148.7 219.4,147.6 220.7,150.8 222.0,154.1 223.3,156.6 224.6,157.1 225.9,161.8 227.2,162.7 227.7,163.8 228.5,163.7 229.8,163.1 231.1,160.3 232.4,161.4 233.7,159.7 235.0,158.0 236.3,157.5 237.6,155.0 238.9,155.3 240.1,155.2 240.2,154.6 241.5,158.0 242.8,161.1 244.1,164.3 245.4,168.1 245.5,167.5 246.7,167.3 248.0,168.0 249.3,169.3 250.6,167.2 251.9,167.9 253.2,166.2 254.4,168.6 254.5,168.2 255.8,171.1 257.1,172.2 258.4,173.7 259.7,177.6 261.0,179.8 261.5,179.3 262.3,181.5 263.6,187.6 264.9,191.5 265.3,195.2 266.2,192.6 267.5,193.0 268.8,193.6 270.1,192.5 271.4,193.4 272.7,195.8 274.0,194.5 275.3,194.4 276.0,193.9 276.6,193.1 277.9,188.0 279.2,182.4 279.5,180.7 280.5,188.1 281.8,197.1 283.0,204.4 283.1,207.7 284.4,233.5 285.7,262.3 286.7,284.7 287.0,285.6 288.3,287.9 289.6,292.4 290.9,296.2 292.0,298.4 292.2,298.7 293.5,302.3 294.8,305.0 296.1,306.8 296.4,308.3 297.4,305.3 298.7,297.6 300.0,293.0 300.9,288.7 301.3,287.6 302.6,285.5 303.9,284.4 305.2,282.6 306.5,280.6 307.8,277.1 308.0,277.8 309.1,274.8 310.4,271.3 311.7,266.9 313.0,263.0 314.3,259.1 315.6,254.8 316.9,249.3 316.9,250.0 318.2,236.4 319.5,222.0 320.8,209.6 322.1,199.8 322.2,196.1 323.4,184.5 324.7,174.4 325.7,167.3 326.0,165.1 327.3,161.5 328.6,157.0 329.9,153.3 331.0,151.1 331.2,150.4 332.5,148.2 333.8,147.5 335.1,146.1 336.4,143.4 337.7,142.3 338.2,141.7 339.0,141.9 340.3,145.0 341.6,145.4 342.9,146.6 344.2,147.3 345.3,148.9 345.5,151.5 346.8,150.3 348.1,152.7 349.4,153.2 350.7,155.0 352.0,156.2 352.4,155.3 353.3,156.3 354.6,157.3 355.9,158.1 357.2,158.7 358.5,159.2 359.8,160.7 361.1,162.0 361.3,161.5 362.4,164.3 363.7,169.9 364.8,173.6 365.0,174.0 366.3,176.1 367.6,175.2 368.9,176.2 370.2,176.3 371.5,177.7 372.8,178.3 374.1,181.0 375.4,180.8 375.5,180.1 376.7,183.0 378.0,181.0 379.3,183.6 380.6,184.6 381.9,185.0 383.2,185.0 384.4,185.9 384.5,185.7 385.8,187.1 387.1,184.9 388.4,186.9 389.7,187.9 391.0,187.7 392.3,187.1 393.6,188.8 394.9,188.8 395.0,190.2 396.2,191.1 397.5,190.4 398.8,189.1 400.1,191.0 401.4,190.8 402.7,192.6 404.0,193.9 405.3,193.1 405.7,194.7 406.6,199.5 407.9,206.4 409.2,212.7 409.3,214.2 410.5,223.4 411.8,237.0 413.1,247.6 414.4,260.1 414.6,261.0 415.7,263.4 417.0,270.8 418.3,276.2 419.6,282.0 420.0,281.3 420.9,279.9 422.2,278.7 423.5,275.7 424.8,273.4 426.1,271.6 427.0,273.3 427.4,269.6 428.7,266.3 430.0,263.7 431.3,261.0 432.6,259.1 433.9,255.8 435.2,252.6 436.5,248.9 437.7,246.2 437.8,245.4 439.1,243.4 440.4,245.1 441.7,241.7 443.0,241.7 444.3,239.3 445.6,238.2 446.9,236.8 447.8,234.9 448.2,233.1 449.5,223.9 450.8,214.7 452.1,204.9 453.1,197.9 453.4,195.1 454.7,185.1 456.0,173.8 457.3,165.3 458.4,158.9 458.6,157.5 459.9,157.1 461.2,155.2 462.5,153.8 463.8,155.1 465.1,152.7 465.5,153.3 466.4,152.8 467.7,152.4 469.0,151.1 470.3,153.5 471.6,152.5 472.6,152.2 472.9,155.3 474.2,155.5 475.5,156.0 476.8,156.2 478.1,156.7 479.4,157.7 479.8,157.7 480.7,156.4 482.0,155.2 483.3,150.7 484.6,151.8 485.0,149.9 485.9,152.7 487.2,155.1 488.5,155.5 489.8,159.0 491.1,161.2 492.4,162.0 493.7,164.3 495.0,167.0 495.7,166.1 496.3,167.0 497.6,166.3 498.9,164.5 500.2,162.2 501.5,162.0 502.8,162.3 502.8,162.1 504.1,162.6 505.4,163.7 506.7,166.0 508.0,167.8 508.2,167.4 509.3,165.9 510.6,164.5 511.9,162.5 513.2,157.4 513.5,159.8 514.5,161.6 515.8,165.6 517.1,167.8 518.4,171.4 518.8,173.4 519.7,170.9 521.0,176.8 522.3,177.7 523.6,178.0 524.9,179.3 526.2,183.9 527.5,184.8 527.7,186.9 528.8,187.3 530.1,188.3 531.4,190.6 532.7,191.2 534.0,193.0 535.3,194.4 536.6,195.3 536.6,195.7 537.9,192.0 539.2,186.5 540.5,183.8 541.8,180.3 543.1,176.4 543.7,173.7 544.4,177.3 545.7,183.3 547.0,188.5 547.3,190.8 548.3,189.8 549.6,190.9 550.9,191.8 552.2,193.0 553.5,193.8 554.4,193.4 554.8,199.4 556.1,213.3 557.4,226.8 558.0,231.1 558.7,241.0 560.0,259.9 561.3,275.3 561.5,278.3 562.6,279.7 563.9,282.8 565.2,284.9 566.5,288.2 567.8,288.8 569.1,290.8 570.4,291.6 570.4,292.3 571.7,290.1 573.0,288.4 574.3,285.7 575.6,285.9 576.9,282.0 577.5,282.2 578.2,278.1 579.5,274.3 580.8,270.2 582.1,262.9 583.4,258.7 584.7,253.1 586.0,248.2 586.4,246.8 587.3,245.4 588.6,245.2 589.9,244.2 591.2,243.4 592.5,242.4 593.5,243.8 593.8,242.1 595.1,242.4 596.4,241.3 597.7,239.0 598.8,239.9 599.0,236.9 600.3,229.6 601.6,221.7 602.9,211.3 604.1,203.2 604.2,202.4 605.5,194.3 606.8,181.2 607.1,177.9 608.1,175.0 609.4,168.0 610.7,162.0 612.0,155.0 612.4,152.1 613.3,152.8 614.6,151.8 615.9,150.5 617.2,150.2 618.5,149.5 619.8,150.2 621.1,149.3 621.3,149.0 622.4,149.2 623.7,149.9 625.0,152.5 626.3,154.0 627.6,155.7 628.9,156.2 630.2,157.4 630.2,157.8 631.5,158.0 632.8,159.4 634.1,161.9 635.4,161.6 636.7,163.9 637.3,165.3 638.0,164.8 639.3,165.0 640.6,163.7 641.9,164.5 643.2,164.4 644.5,165.1 645.8,165.0 646.2,164.6 647.1,165.5 648.4,163.4 649.7,161.8 651.0,160.5 652.3,160.0 653.3,158.8 653.6,161.4 654.9,163.3 656.2,165.4 657.5,168.0 658.8,170.5 660.1,174.0 661.4,178.2 662.2,179.5 662.7,179.3 664.0,180.8 665.3,180.4 666.6,183.9 667.9,184.4 669.2,187.1 670.5,187.1 671.0,187.3 671.8,187.6 673.1,186.5 674.4,187.8 675.7,186.4 677.0,186.1 678.3,185.6 679.6,184.6 680.9,184.9 681.7,184.4 682.2,186.4 683.5,186.5 684.8,188.4 686.1,189.3 687.4,191.0 688.7,192.7 688.8,194.2 690.0,193.7 691.3,195.1 692.6,194.7 693.9,195.3 695.2,194.6 696.0,197.4 696.5,206.1 697.8,223.9 699.1,245.2 699.5,250.8 700.4,255.5 701.7,265.5 703.0,272.8 704.3,282.0 704.8,286.6 705.6,284.6 706.9,281.6 708.2,282.0 709.5,278.0 710.8,277.0 712.1,275.0 713.4,273.4 713.7,272.4 714.7,273.0 716.0,277.6 717.3,276.8 718.6,278.5 719.9,278.9 720.8,282.2 721.2,282.3 722.5,279.5 723.8,277.8 725.1,273.8 726.4,270.0 727.7,266.8 728.0,267.3 729.0,262.5 730.3,258.0 731.6,252.4 732.9,248.7 734.2,245.6 735.0,241.0 735.5,238.9 736.8,230.0 738.1,226.7 739.4,219.4 740.4,215.3 740.7,209.9 742.0,189.8 743.3,170.2 744.0,161.5 744.6,157.6 745.9,149.5 747.2,142.9 748.5,135.0 749.3,131.7 749.8,131.2 751.1,131.8 752.4,134.0 753.7,134.9 755.0,137.9 756.3,137.5 756.4,136.9 757.6,138.8 758.9,139.5 760.2,140.9 761.5,141.8 762.8,141.6 763.5,142.9 764.1,144.1 765.4,145.9 766.7,149.1 768.0,152.5 768.8,152.6 769.3,149.6 770.6,141.1 771.9,132.3 772.4,129.4 773.2,129.4 774.5,133.3 775.8,136.2 777.1,139.5 778.4,140.4 779.5,142.2 779.7,142.2 781.0,147.6 782.3,151.9 783.6,153.9 784.9,158.5 786.2,162.6 787.5,166.3 787.8,166.0 788.8,167.7 790.1,168.2 791.4,168.4 792.7,170.5 794.0,171.6 795.3,171.6 796.6,173.8 796.7,175.2 797.9,173.5 799.2,176.6 800.5,178.1 801.8,178.7 803.1,180.3 804.4,181.1 805.5,183.6 805.7,181.7 807.0,182.7 808.3,181.5 809.6,183.7 810.9,184.1 812.2,182.7 812.6,183.4 813.5,186.8 814.8,189.1 816.1,191.7 816.2,190.8 817.4,193.3 818.7,194.6 820.0,192.6 821.3,193.3 822.6,193.3 823.9,192.9 825.2,193.0 826.5,193.1 827.8,192.2 828.6,195.1 829.1,205.8 830.4,231.2 831.3,251.5 831.7,257.1 833.0,283.1 834.0,303.9 834.3,302.6 835.6,305.1 836.9,309.0 837.5,308.3 838.2,308.6 839.5,302.6 840.8,297.0 841.0,296.5 842.1,295.2 843.4,295.2 844.7,296.7 846.0,296.8 847.3,296.1 848.2,296.0 848.6,293.3 849.9,287.8 851.2,278.1 851.7,275.9 852.5,273.7 853.8,269.0 855.1,265.2 856.4,261.5 857.0,261.5 857.7,261.1 859.0,258.0 860.3,254.4 861.6,253.3 862.9,251.8 864.2,249.8 864.2,249.7 865.5,253.0 866.8,253.5 868.1,257.3 869.4,260.6 869.5,261.2 870.7,256.0 872.0,250.5 873.0,246.3 873.3,238.7 874.6,208.5 875.9,177.4 876.6,160.4 877.2,156.1 878.4,144.3 878.5,142.8 879.8,141.5 881.1,139.8 882.4,136.8 883.7,134.5 883.7,134.9 885.0,133.7 886.3,134.5 887.6,136.8 888.9,137.3 890.2,138.9 891.5,138.0 892.8,140.0 894.1,140.6 894.4,141.5 895.4,139.7 896.7,140.7 898.0,141.9 899.3,142.5 900.6,142.1 901.5,142.9 901.9,142.9 903.2,148.3 904.5,148.5 905.8,150.8 907.1,152.6 908.4,155.4 908.6,156.4 909.7,155.2 911.0,155.1 912.3,156.7 913.6,155.3 914.9,154.4 915.7,153.7 916.2,154.5 917.5,155.2 918.8,157.3 920.1,157.8 921.4,159.0 922.7,160.6 922.8,160.1 924.0,163.3 925.3,167.5 926.6,167.1 927.9,168.5 929.2,172.9 930.0,173.4 930.5,175.6 931.8,175.3 933.1,176.8 934.4,176.4 935.7,176.7 937.0,179.0 938.3,180.7 938.8,179.8 939.6,180.0 940.9,182.1 942.2,183.5 943.5,184.9 944.8,186.4 946.1,189.7 947.4,188.9 948.7,189.8 949.5,190.0 950.0,191.2 951.3,188.1 952.6,189.6 953.9,187.2 955.2,184.9 956.5,185.2 957.8,183.8 957.8,185.0 959.1,189.6 959.5,193.1 960.4,192.9 961.7,193.7 963.0,192.0 964.3,192.3 965.6,194.6 966.9,193.4 968.2,191.7 968.4,193.2 969.5,204.2 970.8,218.4 972.0,230.9 972.1,235.7 973.4,273.1 973.8,285.6 974.7,292.2 976.0,300.6 976.4,304.3 977.3,301.7 978.6,294.1 979.9,290.0 980.9,285.3 981.2,284.9 982.5,280.3 983.8,275.8 984.4,273.0 985.1,272.8 986.4,271.2 987.7,270.6 989.0,271.1 990.3,269.1 991.6,269.8 992.9,269.0 993.3,267.3 994.2,265.4 995.5,259.8 996.8,256.3 998.1,251.0 998.6,250.2 999.4,246.1 1000.7,238.6 1002.0,234.7 1003.3,227.3 1004.0,221.6 1004.6,217.2 1005.9,203.6 1007.2,192.7 1007.5,187.9 1008.5,181.5 1009.8,172.2 1011.1,164.0 1012.4,154.2 1012.8,151.2 1013.7,150.5 1015.0,149.1 1016.3,148.6 1017.6,146.7 1018.9,144.7 1020.2,143.3 1021.5,141.4 1022.8,140.9 1023.5,138.2 1024.1,140.2 1025.4,142.2 1026.7,141.8 1028.0,142.4 1029.3,143.8 1030.6,143.8 1031.9,144.8 1033.2,146.9 1034.2,146.4 1034.5,149.3 1035.8,150.9 1037.1,153.1 1038.4,155.5 1039.7,158.6 1041.0,159.7 1042.3,164.7 1043.0,166.7 1043.6,167.3 1044.9,168.3 1046.2,171.0 1047.5,172.8 1048.8,174.0 1050.1,176.2 1051.4,178.6 1052.7,180.0 1053.7,180.7 1054.0,181.3 1055.3,182.6 1056.6,182.3 1057.9,185.0 1059.2,186.0 1060.5,185.5 1061.8,187.1 1063.1,191.3 1064.4,191.1 1064.4,192.1 1065.7,190.5 1067.0,191.9 1068.3,190.9 1069.6,189.7 1070.9,190.3 1072.2,191.2 1073.5,191.7 1074.8,189.9 1075.0,189.1 1076.1,188.2 1077.4,188.9 1078.7,188.6 1080.0,187.1 1081.3,186.3 1082.1,186.7 1082.6,186.9 1083.9,188.1 1085.2,187.7 1086.5,190.0 1087.8,193.1 1089.1,192.8 1089.3,195.1 1090.4,199.6 1091.7,206.3 1093.0,214.2 1094.3,221.8 1094.6,222.4 1095.6,231.5 1096.9,241.8 1098.2,254.2 1099.5,263.4 1100.0,268.1 1100.8,268.3 1102.1,270.9 1103.4,274.5 1104.7,276.3 1105.2,277.8 1106.0,278.2 1107.3,278.5 1108.6,276.8 1109.9,277.8 1111.2,278.6 1112.5,277.4 1113.8,276.9 1114.1,277.4 1115.1,280.5 1116.4,280.6 1117.7,283.3 1119.0,283.2 1119.5,285.0 1120.3,272.7 1121.6,257.3 1122.2,250.1 1122.9,248.1 1124.2,240.6 1125.5,234.8 1126.7,227.6 1126.8,226.9 1128.1,218.3 1129.4,208.4 1130.7,198.1 1131.1,195.0 1132.0,182.7 1133.3,169.2 1134.4,154.2 1134.6,154.9 1135.9,153.6 1137.2,150.5 1138.5,149.4 1139.8,148.8 1140.0,150.0 1141.1,148.8 1142.4,145.0 1143.7,143.3 1145.0,139.0 1145.5,138.5 1146.3,139.5 1147.6,142.4 1148.9,143.5 1150.2,146.5 1151.1,148.5 1151.5,148.0 1152.8,148.8 1154.1,150.3 1155.4,150.8 1156.7,152.1 1157.8,154.7 1158.0,154.6 1159.3,154.8 1160.6,157.6 1161.9,160.0 1163.2,162.0 1164.4,163.5 1164.5,163.9 1165.8,163.8 1167.1,164.5 1168.4,165.0 1169.7,166.9 1171.0,167.4 1172.3,169.0 1173.3,169.0 1173.6,168.2 1174.9,171.4 1176.2,175.2 1177.5,179.4 1177.8,181.5 1178.8,180.0 1180.1,179.8 1181.4,181.7 1182.7,182.8 1184.0,183.1 1185.3,184.1 1186.6,182.9 1186.7,182.5 1187.9,184.4 1189.2,185.3 1190.5,187.6 1191.8,191.0 1193.1,193.5 1193.3,193.1 1194.4,192.2 1195.7,191.8 1197.0,192.2 1198.3,190.4 1199.6,192.5 1200.9,192.6 1202.2,191.9 1203.5,192.0 1203.5,190.5"/>
</g>
<rect x="130.5" y="41.8" width="1074.0" height="323.59999999999997" fill="none" stroke="#000" stroke-width="1.9"/>
<rect x="274.8" y="54" width="783.6" height="41.8" rx="4" fill="#fff" stroke="#d0d0d0" stroke-width="1.6"/>
<line x1="284" y1="72.5" x2="332.5" y2="72.5" stroke="#000" stroke-width="1.3"/>
<text x="348.2" y="81.6" font-size="23.5" textLength="47.9" lengthAdjust="spacingAndGlyphs">EEG</text>
<line x1="444" y1="72.5" x2="495" y2="72.5" stroke="#1f77b4" stroke-width="2.7"/>
<text x="510.9" y="81.6" font-size="23.5" textLength="63.4" lengthAdjust="spacingAndGlyphs">Respi</text>
<rect x="623" y="63.8" width="49.5" height="17.8" fill="#cde5cc" stroke="#b0d6af" stroke-width="1.6"/>
<text x="687.6" y="81.6" font-size="23.5" textLength="124.6" lengthAdjust="spacingAndGlyphs">Inspiration</text>
<rect x="862.5" y="63.8" width="49" height="17.8" fill="#fdcccc" stroke="#f9b3b3" stroke-width="1.6"/>
<text x="927.1" y="81.6" font-size="23.5" textLength="119.3" lengthAdjust="spacingAndGlyphs">Expiration</text>
<line x1="121.8" y1="58.0" x2="130.5" y2="58.0" stroke="#000" stroke-width="1.9"/>
<text x="111.4" y="65.9" font-size="22.2" text-anchor="end" textLength="27.5" lengthAdjust="spacingAndGlyphs">40</text>
<line x1="121.8" y1="129.0" x2="130.5" y2="129.0" stroke="#000" stroke-width="1.9"/>
<text x="111.4" y="136.9" font-size="22.2" text-anchor="end" textLength="27.5" lengthAdjust="spacingAndGlyphs">20</text>
<line x1="121.8" y1="200.2" x2="130.5" y2="200.2" stroke="#000" stroke-width="1.9"/>
<text x="111.4" y="208.1" font-size="22.2" text-anchor="end" textLength="13.7" lengthAdjust="spacingAndGlyphs">0</text>
<line x1="121.8" y1="271.8" x2="130.5" y2="271.8" stroke="#000" stroke-width="1.9"/>
<text x="111.4" y="279.7" font-size="22.2" text-anchor="end" textLength="45.6" lengthAdjust="spacingAndGlyphs">−20</text>
<line x1="121.8" y1="343.6" x2="130.5" y2="343.6" stroke="#000" stroke-width="1.9"/>
<text x="111.4" y="351.5" font-size="22.2" text-anchor="end" textLength="45.6" lengthAdjust="spacingAndGlyphs">−40</text>
<line x1="1204.5" y1="85.9" x2="1213.2" y2="85.9" stroke="#000" stroke-width="1.9"/>
<text x="1222.0" y="93.8" font-size="22.2" textLength="48.1" lengthAdjust="spacingAndGlyphs">0.04</text>
<line x1="1204.5" y1="144.2" x2="1213.2" y2="144.2" stroke="#000" stroke-width="1.9"/>
<text x="1222.0" y="152.1" font-size="22.2" textLength="48.1" lengthAdjust="spacingAndGlyphs">0.02</text>
<line x1="1204.5" y1="203.1" x2="1213.2" y2="203.1" stroke="#000" stroke-width="1.9"/>
<text x="1222.0" y="211.0" font-size="22.2" textLength="48.1" lengthAdjust="spacingAndGlyphs">0.00</text>
<line x1="1204.5" y1="263.4" x2="1213.2" y2="263.4" stroke="#000" stroke-width="1.9"/>
<text x="1222.0" y="271.3" font-size="22.2" textLength="66.2" lengthAdjust="spacingAndGlyphs">−0.02</text>
<line x1="1204.5" y1="321.4" x2="1213.2" y2="321.4" stroke="#000" stroke-width="1.9"/>
<text x="1222.0" y="329.3" font-size="22.2" textLength="66.2" lengthAdjust="spacingAndGlyphs">−0.04</text>
<line x1="275.0" y1="365.4" x2="275.0" y2="374.1" stroke="#000" stroke-width="1.9"/>
<text x="275.0" y="402.3" font-size="22.2" text-anchor="middle" textLength="27.5" lengthAdjust="spacingAndGlyphs">30</text>
<line x1="442.3" y1="365.4" x2="442.3" y2="374.1" stroke="#000" stroke-width="1.9"/>
<text x="442.3" y="402.3" font-size="22.2" text-anchor="middle" textLength="27.5" lengthAdjust="spacingAndGlyphs">40</text>
<line x1="609.6" y1="365.4" x2="609.6" y2="374.1" stroke="#000" stroke-width="1.9"/>
<text x="609.6" y="402.3" font-size="22.2" text-anchor="middle" textLength="27.5" lengthAdjust="spacingAndGlyphs">50</text>
<line x1="776.9" y1="365.4" x2="776.9" y2="374.1" stroke="#000" stroke-width="1.9"/>
<text x="776.9" y="402.3" font-size="22.2" text-anchor="middle" textLength="27.5" lengthAdjust="spacingAndGlyphs">60</text>
<line x1="944.2" y1="365.4" x2="944.2" y2="374.1" stroke="#000" stroke-width="1.9"/>
<text x="944.2" y="402.3" font-size="22.2" text-anchor="middle" textLength="27.5" lengthAdjust="spacingAndGlyphs">70</text>
<line x1="1111.5" y1="365.4" x2="1111.5" y2="374.1" stroke="#000" stroke-width="1.9"/>
<text x="1111.5" y="402.3" font-size="22.2" text-anchor="middle" textLength="27.5" lengthAdjust="spacingAndGlyphs">80</text>
<text x="666.2" y="435.9" font-size="23.5" text-anchor="middle" textLength="277.9" lengthAdjust="spacingAndGlyphs">Time domain (seconds)</text>
<text x="666.3" y="26.6" font-size="28.9" text-anchor="middle" textLength="677.8" lengthAdjust="spacingAndGlyphs">EEG and Respiratory signals (Temporal domain)</text>
<text x="129.6" y="26.6" font-size="35.5" textLength="38.1" lengthAdjust="spacingAndGlyphs">A)</text>
<clipPath id="clipB"><rect x="130.5" y="495.8" width="1074.0" height="324.99999999999994"/></clipPath>
<g clip-path="url(#clipB)">
<rect x="130.5" y="495.8" width="53.7" height="324.99999999999994" fill="#cde5cc"/>
<rect x="184.2" y="495.8" width="80.6" height="324.99999999999994" fill="#fdcccc"/>
<rect x="264.8" y="495.8" width="53.7" height="324.99999999999994" fill="#cde5cc"/>
<rect x="318.4" y="495.8" width="80.6" height="324.99999999999994" fill="#fdcccc"/>
<rect x="399.0" y="495.8" width="53.7" height="324.99999999999994" fill="#cde5cc"/>
<rect x="452.7" y="495.8" width="80.6" height="324.99999999999994" fill="#fdcccc"/>
<rect x="533.2" y="495.8" width="53.7" height="324.99999999999994" fill="#cde5cc"/>
<rect x="587.0" y="495.8" width="80.5" height="324.99999999999994" fill="#fdcccc"/>
<rect x="667.5" y="495.8" width="53.7" height="324.99999999999994" fill="#cde5cc"/>
<rect x="721.2" y="495.8" width="80.5" height="324.99999999999994" fill="#fdcccc"/>
<rect x="801.8" y="495.8" width="53.7" height="324.99999999999994" fill="#cde5cc"/>
<rect x="855.5" y="495.8" width="80.5" height="324.99999999999994" fill="#fdcccc"/>
<rect x="936.0" y="495.8" width="53.7" height="324.99999999999994" fill="#cde5cc"/>
<rect x="989.7" y="495.8" width="80.5" height="324.99999999999994" fill="#fdcccc"/>
<rect x="1070.2" y="495.8" width="53.7" height="324.99999999999994" fill="#cde5cc"/>
<rect x="1124.0" y="495.8" width="80.5" height="324.99999999999994" fill="#fdcccc"/>
<line x1="184.2" y1="495.8" x2="184.2" y2="820.8" stroke="#caa088" stroke-width="1.5"/>
<line x1="184.2" y1="495.8" x2="184.2" y2="820.8" stroke="#caa088" stroke-width="1.5"/>
<line x1="264.8" y1="495.8" x2="264.8" y2="820.8" stroke="#caa088" stroke-width="1.5"/>
<line x1="264.8" y1="495.8" x2="264.8" y2="820.8" stroke="#caa088" stroke-width="1.5"/>
<line x1="318.4" y1="495.8" x2="318.4" y2="820.8" stroke="#caa088" stroke-width="1.5"/>
<line x1="318.4" y1="495.8" x2="318.4" y2="820.8" stroke="#caa088" stroke-width="1.5"/>
<line x1="399.0" y1="495.8" x2="399.0" y2="820.8" stroke="#caa088" stroke-width="1.5"/>
<line x1="399.0" y1="495.8" x2="399.0" y2="820.8" stroke="#caa088" stroke-width="1.5"/>
<line x1="452.7" y1="495.8" x2="452.7" y2="820.8" stroke="#caa088" stroke-width="1.5"/>
<line x1="452.7" y1="495.8" x2="452.7" y2="820.8" stroke="#caa088" stroke-width="1.5"/>
<line x1="533.2" y1="495.8" x2="533.2" y2="820.8" stroke="#caa088" stroke-width="1.5"/>
<line x1="533.2" y1="495.8" x2="533.2" y2="820.8" stroke="#caa088" stroke-width="1.5"/>
<line x1="587.0" y1="495.8" x2="587.0" y2="820.8" stroke="#caa088" stroke-width="1.5"/>
<line x1="587.0" y1="495.8" x2="587.0" y2="820.8" stroke="#caa088" stroke-width="1.5"/>
<line x1="667.5" y1="495.8" x2="667.5" y2="820.8" stroke="#caa088" stroke-width="1.5"/>
<line x1="667.5" y1="495.8" x2="667.5" y2="820.8" stroke="#caa088" stroke-width="1.5"/>
<line x1="721.2" y1="495.8" x2="721.2" y2="820.8" stroke="#caa088" stroke-width="1.5"/>
<line x1="721.2" y1="495.8" x2="721.2" y2="820.8" stroke="#caa088" stroke-width="1.5"/>
<line x1="801.8" y1="495.8" x2="801.8" y2="820.8" stroke="#caa088" stroke-width="1.5"/>
<line x1="801.8" y1="495.8" x2="801.8" y2="820.8" stroke="#caa088" stroke-width="1.5"/>
<line x1="855.5" y1="495.8" x2="855.5" y2="820.8" stroke="#caa088" stroke-width="1.5"/>
<line x1="855.5" y1="495.8" x2="855.5" y2="820.8" stroke="#caa088" stroke-width="1.5"/>
<line x1="936.0" y1="495.8" x2="936.0" y2="820.8" stroke="#caa088" stroke-width="1.5"/>
<line x1="936.0" y1="495.8" x2="936.0" y2="820.8" stroke="#caa088" stroke-width="1.5"/>
<line x1="989.7" y1="495.8" x2="989.7" y2="820.8" stroke="#caa088" stroke-width="1.5"/>
<line x1="989.7" y1="495.8" x2="989.7" y2="820.8" stroke="#caa088" stroke-width="1.5"/>
<line x1="1070.2" y1="495.8" x2="1070.2" y2="820.8" stroke="#caa088" stroke-width="1.5"/>
<line x1="1070.2" y1="495.8" x2="1070.2" y2="820.8" stroke="#caa088" stroke-width="1.5"/>
<line x1="1124.0" y1="495.8" x2="1124.0" y2="820.8" stroke="#caa088" stroke-width="1.5"/>
<line x1="1124.0" y1="495.8" x2="1124.0" y2="820.8" stroke="#caa088" stroke-width="1.5"/>
<line x1="264.8" y1="820.8" x2="264.8" y2="495.8" stroke="#000" stroke-width="3" stroke-dasharray="13 6"/>
<line x1="399.0" y1="820.8" x2="399.0" y2="495.8" stroke="#000" stroke-width="3" stroke-dasharray="13 6"/>
<line x1="533.2" y1="820.8" x2="533.2" y2="495.8" stroke="#000" stroke-width="3" stroke-dasharray="13 6"/>
<line x1="667.5" y1="820.8" x2="667.5" y2="495.8" stroke="#000" stroke-width="3" stroke-dasharray="13 6"/>
<line x1="801.8" y1="820.8" x2="801.8" y2="495.8" stroke="#000" stroke-width="3" stroke-dasharray="13 6"/>
<line x1="936.0" y1="820.8" x2="936.0" y2="495.8" stroke="#000" stroke-width="3" stroke-dasharray="13 6"/>
<line x1="1070.2" y1="820.8" x2="1070.2" y2="495.8" stroke="#000" stroke-width="3" stroke-dasharray="13 6"/>
<line x1="1203.2" y1="820.8" x2="1203.2" y2="495.8" stroke="#000" stroke-width="3" stroke-dasharray="13 6"/>
<polyline fill="none" stroke="#000" stroke-width="1.2" stroke-linejoin="round" points="129.5,654.9 129.8,705.5 130.0,652.0 130.2,706.7 130.5,649.3 130.8,703.6 131.0,649.2 131.2,702.7 131.5,649.4 131.8,717.0 132.0,642.0 132.2,710.0 132.5,646.0 132.8,697.9 133.0,639.1 133.2,715.1 133.5,628.5 133.8,703.7 134.0,648.5 134.2,693.9 134.5,634.4 134.8,693.6 135.0,635.2 135.2,701.7 135.5,640.4 135.8,696.6 136.0,636.4 136.2,707.5 136.5,642.0 136.8,688.6 137.0,627.4 137.2,701.3 137.5,638.4 137.8,683.2 138.0,618.2 138.2,683.7 138.5,629.9 138.8,681.9 139.0,632.8 139.2,681.5 139.5,632.3 139.8,677.3 140.0,611.3 140.2,694.3 140.5,622.1 140.8,677.0 141.0,618.9 141.2,674.4 141.5,625.0 141.8,692.0 142.0,615.4 142.2,680.9 142.5,622.1 142.8,681.1 143.0,622.2 143.2,671.1 143.5,623.6 143.8,678.5 144.0,628.1 144.2,686.5 144.5,627.4 144.8,672.4 145.0,609.0 145.2,670.8 145.5,613.7 145.8,668.6 146.0,614.3 146.2,681.8 146.5,606.8 146.8,672.4 147.0,620.5 147.2,666.1 147.5,601.4 147.8,664.2 148.0,619.3 148.2,669.6 148.5,619.9 148.8,664.5 149.0,605.2 149.2,661.4 149.5,604.6 149.8,666.9 150.0,616.3 150.2,673.0 150.5,613.4 150.8,663.1 151.0,603.7 151.2,659.0 151.5,616.8 151.8,658.2 152.0,616.3 152.2,656.7 152.5,598.4 152.8,657.6 153.0,612.6 153.2,656.3 153.5,613.5 153.8,654.9 154.0,611.8 154.2,658.6 154.5,612.2 154.8,655.6 155.0,595.7 155.2,653.5 155.5,596.4 155.8,655.8 156.0,611.9 156.2,654.2 156.5,595.9 156.8,655.2 157.0,612.2 157.2,653.5 157.5,598.3 157.8,660.5 158.0,604.8 158.2,652.5 158.5,613.0 158.8,659.2 159.0,600.8 159.2,657.5 159.5,605.6 159.8,667.7 160.0,600.6 160.2,656.7 160.5,611.8 160.8,659.4 161.0,604.7 161.2,665.7 161.5,601.5 161.8,651.9 162.0,602.0 162.2,657.7 162.5,606.0 162.8,647.7 163.0,601.6 163.2,668.1 163.5,612.6 163.8,645.5 164.0,608.3 164.2,644.2 164.5,611.5 164.8,644.3 165.0,607.5 165.2,643.4 165.5,611.5 165.8,650.0 166.0,600.4 166.2,650.4 166.5,600.3 166.8,638.1 167.0,602.2 167.2,650.0 167.5,591.3 167.8,643.7 168.0,589.4 168.2,638.0 168.5,581.9 168.8,641.0 169.0,577.3 169.2,650.5 169.5,587.8 169.8,630.6 170.0,582.3 170.2,634.6 170.5,579.0 170.8,625.5 171.0,583.8 171.2,634.9 171.5,582.9 171.8,632.7 172.0,580.1 172.2,645.1 172.5,573.5 172.8,628.5 173.0,577.4 173.2,638.6 173.5,572.4 173.8,631.7 174.0,580.9 174.2,644.1 174.5,580.8 174.8,636.3 175.0,565.1 175.2,632.6 175.5,575.3 175.8,630.8 176.0,582.0 176.2,638.7 176.5,589.6 176.8,634.9 177.0,584.0 177.2,634.1 177.5,591.7 177.8,632.8 178.0,587.2 178.2,633.1 178.5,585.4 178.8,639.7 179.0,594.3 179.2,636.9 179.5,595.5 179.8,650.6 180.0,590.5 180.2,641.1 180.5,590.7 180.8,639.5 181.0,583.2 181.2,641.8 181.5,592.8 181.8,642.4 182.0,592.8 182.2,643.6 182.5,589.4 182.8,650.6 183.0,600.1 183.2,654.9 183.5,600.7 183.8,647.1 184.0,595.9 184.2,656.0 184.5,596.5 184.8,648.7 185.0,604.8 185.2,648.1 185.5,608.5 185.8,647.9 186.0,613.3 186.2,650.7 186.5,599.3 186.8,660.6 187.0,605.9 187.2,650.0 187.5,607.9 187.8,650.4 188.0,613.8 188.2,654.9 188.5,616.0 188.8,651.3 189.0,607.2 189.2,657.0 189.5,602.6 189.8,652.3 190.0,616.0 190.2,655.3 190.5,616.6 190.8,652.6 191.0,611.5 191.2,659.9 191.5,609.3 191.8,656.8 192.0,617.9 192.2,654.3 192.5,616.9 192.8,656.2 193.0,603.8 193.2,648.6 193.5,612.7 193.8,657.7 194.0,609.2 194.2,645.7 194.5,606.5 194.8,646.5 195.0,602.2 195.2,649.4 195.5,582.9 195.8,639.0 196.0,599.3 196.2,640.2 196.5,601.6 196.8,641.9 197.0,586.6 197.2,642.9 197.5,597.4 197.8,633.0 198.0,593.3 198.2,630.5 198.5,578.6 198.8,629.4 199.0,581.1 199.2,625.4 199.5,590.0 199.8,634.6 200.0,583.8 200.2,625.3 200.5,584.0 200.8,632.7 201.0,584.8 201.2,624.7 201.5,580.7 201.8,624.6 202.0,583.2 202.2,618.1 202.5,584.9 202.8,626.7 203.0,585.8 203.2,621.0 203.5,570.9 203.8,621.9 204.0,575.9 204.2,628.1 204.5,574.7 204.8,622.2 205.0,581.4 205.2,623.4 205.5,583.4 205.8,624.2 206.0,581.1 206.2,634.9 206.5,571.3 206.8,622.0 207.0,573.5 207.2,632.8 207.5,571.4 207.8,637.9 208.0,585.0 208.2,622.6 208.5,577.3 208.8,624.3 209.0,580.4 209.2,620.9 209.5,571.0 209.8,625.4 210.0,579.3 210.2,625.6 210.5,583.1 210.8,620.3 211.0,575.1 211.2,619.2 211.5,574.8 211.8,621.5 212.0,577.8 212.2,619.2 212.5,566.1 212.8,622.1 213.0,580.9 213.2,622.2 213.5,572.4 213.8,625.3 214.0,572.3 214.2,619.8 214.5,568.9 214.8,617.3 215.0,568.7 215.2,620.2 215.5,578.6 215.8,618.3 216.0,582.6 216.2,635.2 216.5,578.3 216.8,628.5 217.0,583.7 217.2,620.6 217.5,586.6 217.8,624.2 218.0,581.1 218.2,630.5 218.5,590.2 218.8,629.8 219.0,595.4 219.2,634.9 219.5,598.7 219.8,635.9 220.0,585.2 220.2,645.0 220.5,603.2 220.8,647.1 221.0,591.8 221.2,645.9 221.5,606.7 221.8,656.4 222.0,611.8 222.2,655.5 222.5,605.5 222.8,661.5 223.0,609.8 223.2,653.7 223.5,619.1 223.8,653.1 224.0,620.7 224.2,657.8 224.5,617.4 224.8,657.1 225.0,612.6 225.2,669.5 225.5,607.5 225.8,664.7 226.0,605.4 226.2,661.2 226.5,613.2 226.8,672.2 227.0,605.2 227.2,664.4 227.5,617.6 227.8,664.3 228.0,617.1 228.2,668.9 228.5,616.7 228.8,682.1 229.0,606.9 229.2,675.5 229.5,598.7 229.8,664.6 230.0,601.6 230.2,668.9 230.5,609.2 230.8,666.8 231.0,614.8 231.2,667.6 231.5,600.9 231.8,693.8 232.0,604.9 232.2,669.9 232.5,613.0 232.8,675.7 233.0,621.9 233.2,688.9 233.5,621.2 233.8,682.6 234.0,622.7 234.2,676.2 234.5,624.8 234.8,688.9 235.0,627.0 235.2,687.0 235.5,616.3 235.8,679.1 236.0,618.4 236.2,683.3 236.5,630.6 236.8,696.8 237.0,633.1 237.2,692.8 237.5,638.8 237.8,686.8 238.0,637.3 238.2,703.3 238.5,645.0 238.8,695.8 239.0,629.7 239.2,696.1 239.5,648.9 239.8,696.4 240.0,649.5 240.2,692.9 240.5,641.3 240.8,700.3 241.0,644.6 241.2,695.0 241.5,657.6 241.8,696.9 242.0,650.7 242.2,701.7 242.5,658.8 242.8,698.9 243.0,660.3 243.2,706.3 243.5,652.5 243.8,706.5 244.0,655.7 244.2,709.5 244.5,654.9 244.8,708.2 245.0,660.7 245.2,718.0 245.5,653.8 245.8,706.4 246.0,665.7 246.2,721.1 246.5,662.1 246.8,714.8 247.0,660.4 247.2,713.7 247.5,659.4 247.8,709.7 248.0,667.7 248.2,710.4 248.5,658.4 248.8,709.7 249.0,674.2 249.2,713.7 249.5,672.3 249.8,726.6 250.0,675.5 250.2,715.4 250.5,672.4 250.8,710.9 251.0,669.9 251.2,712.5 251.5,670.3 251.8,718.1 252.0,666.3 252.2,710.0 252.5,671.4 252.8,711.3 253.0,675.1 253.2,709.4 253.5,681.0 253.8,717.6 254.0,679.0 254.2,708.7 254.5,679.8 254.8,706.0 255.0,678.6 255.2,714.8 255.5,678.7 255.8,703.9 256.0,679.3 256.2,709.8 256.5,678.4 256.8,699.9 257.0,677.7 257.2,707.0 257.5,673.9 257.8,701.3 258.0,676.0 258.2,706.7 258.5,670.7 258.8,702.8 259.0,671.7 259.2,707.7 259.5,680.6 259.8,707.3 260.0,674.2 260.2,712.5 260.5,682.6 260.8,721.0 261.0,684.7 261.2,722.1 261.5,685.1 261.8,720.5 262.0,690.0 262.2,723.6 262.5,692.4 262.8,743.5 263.0,682.1 263.2,736.2 263.5,696.5 263.8,737.4 264.0,698.1 264.2,756.7 264.5,702.5 264.8,765.8 265.0,692.7 265.2,767.3 265.5,706.5 265.8,772.3 266.0,706.6 266.2,752.4 266.5,704.6 266.8,773.2 267.0,706.5 267.2,762.2 267.5,700.6 267.8,774.7 268.0,694.6 268.2,756.0 268.5,706.8 268.8,758.8 269.0,713.0 269.2,757.5 269.5,698.7 269.8,776.5 270.0,708.4 270.2,764.0 270.5,712.0 270.8,773.2 271.0,696.1 271.2,767.0 271.5,711.8 271.8,777.2 272.0,716.2 272.2,774.1 272.5,706.1 272.8,771.8 273.0,714.8 273.2,763.8 273.5,700.9 273.8,755.9 274.0,697.5 274.2,756.7 274.5,703.9 274.8,752.1 275.0,700.0 275.2,759.7 275.5,695.6 275.8,767.1 276.0,708.6 276.2,749.9 276.5,711.2 276.8,752.6 277.0,704.7 277.2,748.2 277.5,697.5 277.8,762.6 278.0,698.3 278.2,746.8 278.5,709.6 278.8,754.9 279.0,707.8 279.2,760.2 279.5,704.1 279.8,759.9 280.0,694.0 280.2,743.9 280.5,707.2 280.8,746.5 281.0,692.2 281.2,742.6 281.5,691.2 281.8,747.4 282.0,701.1 282.2,741.1 282.5,695.0 282.8,745.9 283.0,697.2 283.2,747.3 283.5,695.4 283.8,748.7 284.0,695.2 284.2,739.6 284.5,690.4 284.8,753.4 285.0,688.4 285.2,748.5 285.5,680.2 285.8,749.7 286.0,683.7 286.2,741.4 286.5,681.0 286.8,733.2 287.0,687.9 287.2,739.8 287.5,674.7 287.8,744.1 288.0,676.2 288.2,744.1 288.5,685.3 288.8,730.3 289.0,684.8 289.2,740.9 289.5,681.1 289.8,728.9 290.0,669.8 290.2,729.4 290.5,681.5 290.8,745.6 291.0,685.4 291.2,731.5 291.5,670.4 291.8,733.9 292.0,675.0 292.2,745.5 292.5,690.5 292.8,744.2 293.0,675.7 293.2,734.8 293.5,690.6 293.8,735.3 294.0,690.1 294.2,758.3 294.5,682.0 294.8,735.8 295.0,692.9 295.2,736.6 295.5,690.1 295.8,736.7 296.0,688.1 296.2,737.1 296.5,676.6 296.8,735.9 297.0,688.5 297.2,741.3 297.5,687.6 297.8,735.9 298.0,677.3 298.2,750.4 298.5,683.2 298.8,734.4 299.0,694.4 299.2,735.6 299.5,691.7 299.8,737.7 300.0,675.8 300.2,732.6 300.5,680.6 300.8,744.0 301.0,683.6 301.2,744.0 301.5,690.5 301.8,733.2 302.0,689.1 302.2,737.6 302.5,680.3 302.8,731.0 303.0,684.9 303.2,729.7 303.5,688.3 303.8,747.5 304.0,674.0 304.2,742.1 304.5,674.5 304.8,745.4 305.0,676.8 305.2,733.5 305.5,667.7 305.8,731.0 306.0,686.6 306.2,735.7 306.5,685.8 306.8,730.3 307.0,674.8 307.2,730.2 307.5,677.4 307.8,730.3 308.0,667.2 308.2,740.1 308.5,680.2 308.8,749.2 309.0,672.4 309.2,727.3 309.5,679.3 309.8,742.1 310.0,666.1 310.2,730.0 310.5,676.1 310.8,730.2 311.0,676.9 311.2,729.2 311.5,669.6 311.8,726.4 312.0,662.5 312.2,722.9 312.5,672.7 312.8,726.6 313.0,671.1 313.2,717.7 313.5,664.6 313.8,727.4 314.0,664.6 314.2,723.0 314.5,655.2 314.8,736.5 315.0,667.6 315.2,730.2 315.5,660.4 315.8,724.9 316.0,663.4 316.2,734.6 316.5,661.7 316.8,714.5 317.0,663.4 317.2,723.9 317.5,661.5 317.8,748.3 318.0,658.9 318.2,727.9 318.5,636.7 318.8,712.9 319.0,656.1 319.2,709.1 319.5,637.2 319.8,703.0 320.0,651.3 320.2,707.8 320.5,640.0 320.8,696.1 321.0,640.8 321.2,705.7 321.5,639.9 321.8,698.0 322.0,645.0 322.2,701.6 322.5,634.6 322.8,698.6 323.0,631.9 323.2,694.1 323.5,635.6 323.8,677.9 324.0,630.1 324.2,676.3 324.5,621.9 324.8,690.3 325.0,629.3 325.2,684.3 325.5,632.2 325.8,672.1 326.0,619.5 326.2,665.7 326.5,624.7 326.8,676.4 327.0,620.8 327.2,661.2 327.5,615.3 327.8,668.3 328.0,624.9 328.2,667.7 328.5,616.0 328.8,665.5 329.0,613.3 329.2,666.2 329.5,617.5 329.8,663.7 330.0,610.9 330.2,663.2 330.5,615.4 330.8,665.7 331.0,607.9 331.2,659.9 331.5,601.0 331.8,653.4 332.0,613.1 332.2,651.6 332.5,611.6 332.8,663.4 333.0,611.3 333.2,655.1 333.5,602.0 333.8,650.3 334.0,603.7 334.2,646.9 334.5,592.8 334.8,647.8 335.0,595.7 335.2,647.7 335.5,601.7 335.8,645.9 336.0,593.0 336.2,653.1 336.5,605.5 336.8,652.9 337.0,592.6 337.2,644.5 337.5,571.3 337.8,654.6 338.0,599.4 338.2,639.8 338.5,590.7 338.8,652.7 339.0,586.9 339.2,634.7 339.5,579.5 339.8,633.1 340.0,593.7 340.2,644.2 340.5,590.7 340.8,630.1 341.0,591.0 341.2,637.2 341.5,588.8 341.8,640.1 342.0,579.4 342.2,642.5 342.5,585.2 342.8,640.3 343.0,572.8 343.2,627.4 343.5,578.1 343.8,621.3 344.0,574.3 344.2,623.6 344.5,576.8 344.8,618.1 345.0,564.9 345.2,623.3 345.5,570.1 345.8,629.0 346.0,576.0 346.2,623.7 346.5,571.1 346.8,624.8 347.0,574.5 347.2,614.3 347.5,575.4 347.8,624.3 348.0,555.1 348.2,613.5 348.5,574.8 348.8,617.3 349.0,575.4 349.2,620.1 349.5,571.2 349.8,607.3 350.0,572.8 350.2,613.6 350.5,570.4 350.8,605.3 351.0,571.1 351.2,613.3 351.5,564.2 351.8,602.7 352.0,569.9 352.2,600.1 352.5,569.2 352.8,599.8 353.0,561.4 353.2,602.3 353.5,563.5 353.8,599.4 354.0,560.1 354.2,606.3 354.5,561.2 354.8,597.3 355.0,561.0 355.2,597.4 355.5,567.6 355.8,598.1 356.0,559.4 356.2,600.7 356.5,561.2 356.8,599.6 357.0,565.8 357.2,608.8 357.5,567.5 357.8,605.0 358.0,552.7 358.2,603.4 358.5,567.1 358.8,602.4 359.0,567.7 359.2,600.4 359.5,566.9 359.8,606.2 360.0,565.9 360.2,603.3 360.5,567.6 360.8,618.0 361.0,566.9 361.2,602.2 361.5,567.0 361.8,605.6 362.0,560.0 362.2,612.0 362.5,555.2 362.8,603.9 363.0,548.2 363.2,603.5 363.5,565.8 363.8,603.3 364.0,569.8 364.2,604.1 364.5,558.9 364.8,604.0 365.0,565.9 365.2,608.6 365.5,560.4 365.8,607.6 366.0,565.2 366.2,605.0 366.5,573.1 366.8,618.2 367.0,565.0 367.2,610.7 367.5,575.0 367.8,620.5 368.0,562.3 368.2,611.6 368.5,567.3 368.8,612.1 369.0,575.0 369.2,619.7 369.5,573.8 369.8,610.0 370.0,567.9 370.2,624.0 370.5,577.9 370.8,627.3 371.0,582.9 371.2,623.4 371.5,570.7 371.8,621.4 372.0,582.0 372.2,614.3 372.5,572.4 372.8,628.4 373.0,571.5 373.2,626.5 373.5,573.8 373.8,628.2 374.0,573.7 374.2,618.9 374.5,579.4 374.8,619.3 375.0,568.7 375.2,621.5 375.5,579.2 375.8,620.4 376.0,579.1 376.2,624.9 376.5,585.0 376.8,621.2 377.0,579.2 377.2,623.8 377.5,578.9 377.8,621.4 378.0,582.3 378.2,638.6 378.5,582.6 378.8,625.5 379.0,575.1 379.2,623.8 379.5,568.4 379.8,636.6 380.0,566.8 380.2,626.8 380.5,566.7 380.8,637.7 381.0,582.4 381.2,637.2 381.5,579.7 381.8,632.5 382.0,578.1 382.2,633.9 382.5,573.7 382.8,628.6 383.0,568.9 383.2,634.3 383.5,585.9 383.8,628.1 384.0,586.4 384.2,631.2 384.5,587.7 384.8,641.0 385.0,579.5 385.2,642.9 385.5,579.9 385.8,638.0 386.0,589.9 386.2,629.5 386.5,578.4 386.8,631.3 387.0,582.2 387.2,649.5 387.5,594.2 387.8,645.2 388.0,587.1 388.2,634.1 388.5,596.2 388.8,641.9 389.0,598.5 389.2,639.6 389.5,599.3 389.8,639.5 390.0,601.1 390.2,641.0 390.5,600.9 390.8,660.6 391.0,606.0 391.2,649.4 391.5,606.8 391.8,650.4 392.0,601.3 392.2,660.5 392.5,605.7 392.8,650.2 393.0,598.5 393.2,656.3 393.5,609.6 393.8,652.4 394.0,609.0 394.2,657.3 394.5,615.0 394.8,666.3 395.0,615.6 395.2,673.4 395.5,608.2 395.8,663.9 396.0,618.9 396.2,659.4 396.5,611.1 396.8,658.2 397.0,620.1 397.2,663.8 397.5,611.2 397.8,660.3 398.0,607.7 398.2,671.8 398.5,622.1 398.8,663.0 399.0,615.7 399.2,660.8 399.5,623.0 399.8,660.3 400.0,615.9 400.2,659.9 400.5,620.2 400.8,670.0 401.0,613.9 401.2,669.4 401.5,620.0 401.8,663.9 402.0,627.7 402.2,670.4 402.5,632.8 402.8,668.6 403.0,635.6 403.2,681.5 403.5,624.5 403.8,673.7 404.0,634.3 404.2,674.3 404.5,640.7 404.8,673.9 405.0,644.2 405.2,680.3 405.5,648.6 405.8,697.2 406.0,647.3 406.2,682.2 406.5,641.3 406.8,684.6 407.0,645.1 407.2,696.6 407.5,645.1 407.8,691.5 408.0,659.3 408.2,696.1 408.5,662.7 408.8,693.9 409.0,655.7 409.2,704.3 409.5,655.3 409.8,700.3 410.0,667.9 410.2,713.8 410.5,669.9 410.8,701.8 411.0,668.6 411.2,704.7 411.5,673.6 411.8,710.4 412.0,664.7 412.2,705.9 412.5,665.8 412.8,716.9 413.0,663.6 413.2,712.8 413.5,666.5 413.8,707.6 414.0,672.3 414.2,708.0 414.5,663.9 414.8,708.7 415.0,673.5 415.2,711.7 415.5,672.7 415.8,711.2 416.0,665.6 416.2,713.4 416.5,680.1 416.8,714.5 417.0,677.5 417.2,719.4 417.5,673.5 417.8,725.0 418.0,669.4 418.2,723.3 418.5,671.8 418.8,718.4 419.0,675.2 419.2,733.1 419.5,671.4 419.8,723.1 420.0,667.6 420.2,733.4 420.5,686.1 420.8,735.9 421.0,684.1 421.2,728.1 421.5,681.0 421.8,722.7 422.0,684.8 422.2,736.6 422.5,681.2 422.8,733.7 423.0,687.3 423.2,726.5 423.5,677.8 423.8,729.1 424.0,686.6 424.2,723.6 424.5,688.3 424.8,727.0 425.0,685.0 425.2,727.7 425.5,688.4 425.8,737.8 426.0,676.9 426.2,734.0 426.5,689.3 426.8,731.4 427.0,689.5 427.2,724.5 427.5,686.9 427.8,722.9 428.0,683.5 428.2,737.2 428.5,684.6 428.8,727.4 429.0,687.8 429.2,722.2 429.5,690.6 429.8,733.5 430.0,687.8 430.2,723.0 430.5,688.7 430.8,723.2 431.0,693.2 431.2,722.6 431.5,694.0 431.8,732.7 432.0,695.4 432.2,726.1 432.5,695.5 432.8,735.6 433.0,688.0 433.2,725.1 433.5,693.0 433.8,726.5 434.0,690.2 434.2,726.7 434.5,699.6 434.8,731.4 435.0,701.3 435.2,733.5 435.5,702.3 435.8,737.4 436.0,697.9 436.2,733.4 436.5,698.8 436.8,731.7 437.0,698.4 437.2,732.6 437.5,696.3 437.8,742.1 438.0,703.4 438.2,745.0 438.5,701.4 438.8,735.1 439.0,699.3 439.2,735.7 439.5,706.4 439.8,742.6 440.0,709.5 440.2,750.8 440.5,704.3 440.8,741.4 441.0,710.6 441.2,745.6 441.5,710.8 441.8,755.6 442.0,712.0 442.2,758.8 442.5,709.1 442.8,748.0 443.0,712.5 443.2,748.9 443.5,707.6 443.8,755.8 444.0,706.8 444.2,754.8 444.5,705.4 444.8,750.1 445.0,701.7 445.2,738.7 445.5,698.3 445.8,743.3 446.0,681.6 446.2,747.7 446.5,691.0 446.8,734.9 447.0,682.9 447.2,728.5 447.5,669.3 447.8,742.8 448.0,661.4 448.2,728.3 448.5,676.7 448.8,721.2 449.0,665.8 449.2,722.1 449.5,664.6 449.8,722.3 450.0,670.3 450.2,724.3 450.5,664.4 450.8,724.4 451.0,660.0 451.2,718.9 451.5,659.4 451.8,718.8 452.0,675.5 452.2,734.2 452.5,670.7 452.8,717.9 453.0,667.9 453.2,727.8 453.5,662.7 453.8,720.6 454.0,675.9 454.2,718.0 454.5,646.5 454.8,715.7 455.0,650.5 455.2,714.1 455.5,676.9 455.8,712.8 456.0,666.5 456.2,726.6 456.5,673.1 456.8,712.1 457.0,670.3 457.2,711.0 457.5,657.8 457.8,723.4 458.0,672.9 458.2,726.0 458.5,660.1 458.8,721.0 459.0,670.8 459.2,708.9 459.5,669.0 459.8,716.1 460.0,660.0 460.2,721.2 460.5,666.7 460.8,719.9 461.0,666.0 461.2,711.0 461.5,653.7 461.8,713.4 462.0,658.6 462.2,708.4 462.5,650.1 462.8,716.7 463.0,657.1 463.2,705.4 463.5,653.6 463.8,697.9 464.0,651.0 464.2,705.2 464.5,653.5 464.8,703.1 465.0,644.5 465.2,694.5 465.5,649.6 465.8,688.7 466.0,649.4 466.2,686.1 466.5,639.8 466.8,697.8 467.0,643.9 467.2,684.9 467.5,635.2 467.8,684.3 468.0,640.7 468.2,678.9 468.5,632.1 468.8,677.9 469.0,632.9 469.2,690.9 469.5,636.1 469.8,679.8 470.0,632.4 470.2,679.4 470.5,636.1 470.8,672.7 471.0,633.7 471.2,670.2 471.5,621.5 471.8,681.2 472.0,626.4 472.2,666.6 472.5,626.8 472.8,670.6 473.0,620.0 473.2,669.3 473.5,624.8 473.8,672.9 474.0,622.1 474.2,662.3 474.5,627.6 474.8,661.5 475.0,626.7 475.2,660.4 475.5,626.5 475.8,664.6 476.0,618.5 476.2,663.0 476.5,620.6 476.8,665.9 477.0,624.8 477.2,665.2 477.5,610.7 477.8,656.6 478.0,623.3 478.2,670.0 478.5,621.8 478.8,656.3 479.0,610.7 479.2,668.5 479.5,620.3 479.8,654.8 480.0,613.2 480.2,661.3 480.5,618.9 480.8,652.1 481.0,618.4 481.2,656.6 481.5,619.3 481.8,662.9 482.0,615.8 482.2,664.4 482.5,613.4 482.8,659.4 483.0,615.8 483.2,661.7 483.5,607.3 483.8,646.0 484.0,606.2 484.2,644.7 484.5,610.4 484.8,653.1 485.0,607.5 485.2,651.3 485.5,611.7 485.8,645.4 486.0,600.0 486.2,655.7 486.5,608.9 486.8,644.8 487.0,610.4 487.2,648.8 487.5,599.5 487.8,642.6 488.0,602.2 488.2,647.0 488.5,608.6 488.8,643.1 489.0,607.8 489.2,639.6 489.5,608.2 489.8,638.6 490.0,598.2 490.2,651.1 490.5,606.0 490.8,646.3 491.0,601.8 491.2,636.2 491.5,601.1 491.8,639.4 492.0,590.1 492.2,641.1 492.5,602.5 492.8,646.2 493.0,599.3 493.2,636.6 493.5,596.6 493.8,636.9 494.0,600.3 494.2,635.3 494.5,587.2 494.8,640.5 495.0,595.6 495.2,629.2 495.5,595.6 495.8,637.2 496.0,594.1 496.2,635.9 496.5,595.3 496.8,631.3 497.0,591.0 497.2,622.5 497.5,590.3 497.8,630.4 498.0,594.2 498.2,618.8 498.5,584.7 498.8,618.5 499.0,587.0 499.2,621.3 499.5,582.8 499.8,618.6 500.0,590.3 500.2,614.3 500.5,591.4 500.8,614.5 501.0,585.9 501.2,616.4 501.5,592.9 501.8,626.4 502.0,597.1 502.2,630.9 502.5,596.0 502.8,624.1 503.0,596.2 503.2,625.9 503.5,593.1 503.8,627.1 504.0,597.3 504.2,634.8 504.5,606.4 504.8,631.5 505.0,608.1 505.2,634.5 505.5,609.9 505.8,640.6 506.0,608.2 506.2,640.9 506.5,608.1 506.8,643.1 507.0,614.3 507.2,642.7 507.5,612.7 507.8,642.7 508.0,614.6 508.2,643.8 508.5,606.3 508.8,645.4 509.0,610.0 509.2,656.5 509.5,608.6 509.8,649.2 510.0,602.6 510.2,647.8 510.5,611.7 510.8,647.5 511.0,614.2 511.2,659.6 511.5,601.5 511.8,660.6 512.0,601.5 512.2,662.3 512.5,608.1 512.8,652.6 513.0,611.7 513.2,653.1 513.5,613.7 513.8,659.6 514.0,604.2 514.2,661.6 514.5,617.9 514.8,665.6 515.0,608.1 515.2,661.8 515.5,623.1 515.8,665.5 516.0,617.3 516.2,668.0 516.5,616.5 516.8,671.2 517.0,621.5 517.2,686.8 517.5,619.6 517.8,676.1 518.0,627.8 518.2,692.1 518.5,641.5 518.8,686.2 519.0,641.8 519.2,691.8 519.5,643.8 519.8,684.9 520.0,642.7 520.2,690.3 520.5,644.9 520.8,687.9 521.0,643.3 521.2,690.6 521.5,651.2 521.8,698.8 522.0,651.3 522.2,692.5 522.5,652.4 522.8,690.3 523.0,640.7 523.2,694.6 523.5,653.4 523.8,704.7 524.0,648.6 524.2,701.8 524.5,644.1 524.8,700.1 525.0,655.1 525.2,695.3 525.5,658.0 525.8,697.2 526.0,657.0 526.2,715.7 526.5,646.2 526.8,708.6 527.0,661.5 527.2,710.5 527.5,646.4 527.8,712.3 528.0,660.4 528.2,706.3 528.5,657.1 528.8,719.1 529.0,664.9 529.2,708.8 529.5,662.3 529.8,733.9 530.0,655.8 530.2,713.7 530.5,659.6 530.8,703.7 531.0,662.7 531.2,703.9 531.5,656.3 531.8,704.0 532.0,662.6 532.2,705.9 532.5,658.6 532.8,718.9 533.0,662.8 533.2,705.5 533.5,662.1 533.8,708.4 534.0,658.5 534.2,711.9 534.5,648.5 534.8,704.9 535.0,663.3 535.2,707.8 535.5,666.9 535.8,712.1 536.0,660.6 536.2,714.8 536.5,664.4 536.8,712.4 537.0,662.5 537.2,709.9 537.5,666.7 537.8,725.9 538.0,662.2 538.2,712.8 538.5,668.5 538.8,724.0 539.0,661.7 539.2,712.7 539.5,678.2 539.8,724.6 540.0,676.8 540.2,726.4 540.5,680.4 540.8,725.4 541.0,679.5 541.2,724.3 541.5,683.3 541.8,715.5 542.0,682.6 542.2,722.1 542.5,683.4 542.8,716.8 543.0,682.0 543.2,717.4 543.5,675.2 543.8,720.2 544.0,673.5 544.2,719.2 544.5,683.3 544.8,724.6 545.0,675.9 545.2,716.3 545.5,680.8 545.8,720.8 546.0,677.3 546.2,722.2 546.5,683.5 546.8,717.3 547.0,676.8 547.2,718.0 547.5,677.1 547.8,730.6 548.0,683.2 548.2,722.8 548.5,681.5 548.8,727.8 549.0,675.7 549.2,729.2 549.5,681.7 549.8,718.4 550.0,679.6 550.2,724.3 550.5,674.4 550.8,717.5 551.0,678.7 551.2,717.6 551.5,667.3 551.8,732.9 552.0,664.8 552.2,728.9 552.5,665.5 552.8,715.5 553.0,678.5 553.2,726.9 553.5,671.4 553.8,720.1 554.0,677.0 554.2,714.0 554.5,664.9 554.8,716.5 555.0,676.5 555.2,713.2 555.5,671.1 555.8,714.5 556.0,676.3 556.2,720.4 556.5,674.2 556.8,714.1 557.0,665.6 557.2,712.0 557.5,668.0 557.8,721.4 558.0,675.7 558.2,718.6 558.5,677.0 558.8,714.8 559.0,674.0 559.2,719.0 559.5,673.3 559.8,714.5 560.0,666.4 560.2,713.8 560.5,678.6 560.8,711.7 561.0,669.5 561.2,725.6 561.5,680.4 561.8,723.2 562.0,674.5 562.2,717.7 562.5,679.7 562.8,718.5 563.0,682.8 563.2,720.1 563.5,682.9 563.8,716.5 564.0,669.7 564.2,721.4 564.5,670.9 564.8,714.0 565.0,667.3 565.2,714.4 565.5,661.8 565.8,714.5 566.0,664.0 566.2,715.6 566.5,672.5 566.8,716.4 567.0,667.0 567.2,712.1 567.5,669.2 567.8,721.2 568.0,649.7 568.2,723.1 568.5,648.0 568.8,713.8 569.0,656.7 569.2,717.6 569.5,662.3 569.8,723.4 570.0,650.5 570.2,727.6 570.5,656.4 570.8,716.7 571.0,640.4 571.2,730.6 571.5,662.0 571.8,713.7 572.0,662.0 572.2,708.1 572.5,661.3 572.8,707.0 573.0,658.7 573.2,706.4 573.5,656.4 573.8,708.5 574.0,646.5 574.2,703.9 574.5,657.3 574.8,708.3 575.0,653.5 575.2,712.5 575.5,644.7 575.8,698.4 576.0,660.1 576.2,709.4 576.5,660.3 576.8,695.7 577.0,650.3 577.2,704.6 577.5,658.2 577.8,707.4 578.0,652.1 578.2,692.6 578.5,655.6 578.8,692.3 579.0,659.6 579.2,691.9 579.5,658.2 579.8,700.1 580.0,657.4 580.2,700.7 580.5,659.5 580.8,694.7 581.0,649.2 581.2,706.2 581.5,650.7 581.8,697.8 582.0,647.6 582.2,694.2 582.5,659.7 582.8,696.5 583.0,652.8 583.2,703.8 583.5,657.6 583.8,696.0 584.0,654.2 584.2,708.4 584.5,661.9 584.8,709.4 585.0,659.4 585.2,706.8 585.5,659.5 585.8,705.0 586.0,658.3 586.2,694.4 586.5,654.4 586.8,698.2 587.0,655.8 587.2,698.7 587.5,649.6 587.8,687.8 588.0,652.4 588.2,698.0 588.5,643.3 588.8,685.6 589.0,647.9 589.2,684.6 589.5,642.6 589.8,681.5 590.0,635.4 590.2,684.3 590.5,642.5 590.8,678.0 591.0,636.1 591.2,676.2 591.5,635.1 591.8,679.6 592.0,630.8 592.2,674.5 592.5,631.7 592.8,676.6 593.0,627.0 593.2,671.6 593.5,629.2 593.8,669.5 594.0,617.5 594.2,672.3 594.5,622.0 594.8,684.2 595.0,624.6 595.2,667.2 595.5,617.6 595.8,674.0 596.0,602.3 596.2,676.8 596.5,615.1 596.8,672.4 597.0,589.6 597.2,658.6 597.5,608.6 597.8,671.8 598.0,602.0 598.2,656.7 598.5,609.3 598.8,670.9 599.0,607.6 599.2,660.9 599.5,600.5 599.8,649.4 600.0,600.2 600.2,647.3 600.5,603.1 600.8,646.2 601.0,588.6 601.2,647.3 601.5,601.4 601.8,647.6 602.0,583.0 602.2,658.1 602.5,592.3 602.8,643.5 603.0,597.9 603.2,657.2 603.5,595.8 603.8,640.5 604.0,598.8 604.2,649.8 604.5,597.4 604.8,647.8 605.0,578.6 605.2,638.3 605.5,593.7 605.8,636.2 606.0,591.7 606.2,649.1 606.5,589.8 606.8,647.6 607.0,587.8 607.2,630.4 607.5,585.5 607.8,636.1 608.0,581.8 608.2,640.2 608.5,574.3 608.8,623.9 609.0,569.5 609.2,637.0 609.5,559.4 609.8,614.5 610.0,572.5 610.2,618.6 610.5,569.0 610.8,617.7 611.0,553.9 611.2,608.1 611.5,562.5 611.8,617.0 612.0,559.8 612.2,603.0 612.5,554.5 612.8,604.4 613.0,548.6 613.2,612.8 613.5,561.0 613.8,601.0 614.0,554.0 614.2,601.8 614.5,561.7 614.8,604.7 615.0,556.2 615.2,603.5 615.5,563.4 615.8,608.1 616.0,561.6 616.2,601.6 616.5,556.4 616.8,609.9 617.0,557.3 617.2,614.6 617.5,552.1 617.8,603.2 618.0,551.6 618.2,604.0 618.5,565.4 618.8,600.2 619.0,558.8 619.2,609.1 619.5,558.5 619.8,607.8 620.0,553.5 620.2,599.4 620.5,558.9 620.8,596.9 621.0,554.8 621.2,598.3 621.5,563.8 621.8,602.1 622.0,562.4 622.2,600.0 622.5,563.1 622.8,615.0 623.0,565.4 623.2,605.1 623.5,570.5 623.8,610.1 624.0,570.4 624.2,617.4 624.5,574.7 624.8,611.7 625.0,574.5 625.2,612.0 625.5,571.8 625.8,609.7 626.0,573.0 626.2,611.0 626.5,578.7 626.8,612.0 627.0,572.2 627.2,617.9 627.5,579.9 627.8,615.1 628.0,566.9 628.2,623.4 628.5,579.6 628.8,625.8 629.0,587.4 629.2,633.0 629.5,584.3 629.8,623.2 630.0,590.2 630.2,631.8 630.5,581.2 630.8,629.7 631.0,580.3 631.2,627.9 631.5,587.1 631.8,622.4 632.0,583.2 632.2,627.4 632.5,584.7 632.8,620.3 633.0,583.6 633.2,631.0 633.5,576.2 633.8,617.9 634.0,583.0 634.2,616.1 634.5,574.8 634.8,615.5 635.0,570.7 635.2,613.4 635.5,569.4 635.8,627.0 636.0,575.5 636.2,610.6 636.5,570.7 636.8,609.3 637.0,570.6 637.2,617.1 637.5,573.1 637.8,607.0 638.0,567.8 638.2,609.7 638.5,556.3 638.8,607.7 639.0,565.0 639.2,609.3 639.5,568.3 639.8,618.0 640.0,574.2 640.2,612.0 640.5,575.3 640.8,614.8 641.0,575.6 641.2,612.5 641.5,578.4 641.8,626.8 642.0,581.1 642.2,617.6 642.5,583.5 642.8,628.6 643.0,583.5 643.2,627.3 643.5,584.6 643.8,639.1 644.0,590.1 644.2,629.0 644.5,586.2 644.8,637.9 645.0,582.8 645.2,636.1 645.5,592.3 645.8,639.1 646.0,600.2 646.2,637.8 646.5,592.9 646.8,640.7 647.0,605.4 647.2,654.1 647.5,606.5 647.8,658.6 648.0,599.5 648.2,649.9 648.5,610.9 648.8,659.3 649.0,602.2 649.2,649.8 649.5,599.4 649.8,657.6 650.0,607.4 650.2,653.7 650.5,620.2 650.8,660.0 651.0,619.9 651.2,658.2 651.5,624.8 651.8,660.1 652.0,626.1 652.2,663.2 652.5,628.5 652.8,669.4 653.0,631.9 653.2,669.2 653.5,633.4 653.8,671.1 654.0,628.4 654.2,679.3 654.5,636.5 654.8,690.6 655.0,626.8 655.2,691.1 655.5,639.7 655.8,688.5 656.0,629.8 656.2,695.6 656.5,645.7 656.8,695.1 657.0,645.3 657.2,685.8 657.5,649.2 657.8,701.2 658.0,647.9 658.2,703.9 658.5,636.8 658.8,703.8 659.0,639.2 659.2,694.9 659.5,644.3 659.8,700.2 660.0,644.6 660.2,695.0 660.5,644.2 660.8,691.5 661.0,645.9 661.2,697.6 661.5,640.2 661.8,698.8 662.0,653.4 662.2,693.7 662.5,650.8 662.8,695.5 663.0,641.2 663.2,694.7 663.5,637.7 663.8,698.3 664.0,648.7 664.2,699.1 664.5,654.3 664.8,705.1 665.0,653.4 665.2,704.8 665.5,655.4 665.8,718.5 666.0,644.9 666.2,702.3 666.5,646.7 666.8,712.8 667.0,658.8 667.2,707.7 667.5,657.5 667.8,706.3 668.0,652.1 668.2,719.0 668.5,640.0 668.8,710.9 669.0,645.3 669.2,714.0 669.5,667.8 669.8,729.5 670.0,651.3 670.2,725.7 670.5,671.0 670.8,733.4 671.0,670.6 671.2,722.9 671.5,660.5 671.8,717.2 672.0,676.6 672.2,724.8 672.5,676.7 672.8,717.3 673.0,678.3 673.2,726.7 673.5,668.8 673.8,717.8 674.0,678.9 674.2,720.4 674.5,681.5 674.8,727.9 675.0,682.3 675.2,729.7 675.5,684.7 675.8,719.4 676.0,671.9 676.2,716.4 676.5,676.6 676.8,720.9 677.0,683.2 677.2,721.2 677.5,676.0 677.8,714.2 678.0,681.2 678.2,725.8 678.5,676.4 678.8,722.8 679.0,683.8 679.2,715.0 679.5,685.8 679.8,723.1 680.0,681.7 680.2,719.1 680.5,687.5 680.8,721.6 681.0,684.7 681.2,717.0 681.5,686.1 681.8,713.1 682.0,679.3 682.2,720.7 682.5,689.3 682.8,714.8 683.0,689.2 683.2,720.1 683.5,687.1 683.8,714.5 684.0,690.6 684.2,716.0 684.5,690.9 684.8,715.4 685.0,686.7 685.2,724.0 685.5,691.2 685.8,716.3 686.0,685.9 686.2,716.6 686.5,682.9 686.8,728.6 687.0,682.4 687.2,718.2 687.5,690.8 687.8,724.6 688.0,692.0 688.2,717.9 688.5,689.7 688.8,718.3 689.0,691.6 689.2,718.5 689.5,691.2 689.8,719.0 690.0,686.8 690.2,727.6 690.5,687.9 690.8,731.3 691.0,690.2 691.2,720.2 691.5,687.6 691.8,728.8 692.0,687.3 692.2,724.5 692.5,686.9 692.8,724.0 693.0,676.0 693.2,719.3 693.5,677.2 693.8,723.3 694.0,685.5 694.2,719.6 694.5,686.9 694.8,723.3 695.0,685.0 695.2,725.8 695.5,682.2 695.8,730.6 696.0,681.5 696.2,720.7 696.5,681.4 696.8,730.1 697.0,669.0 697.2,721.1 697.5,676.6 697.8,721.4 698.0,681.3 698.2,724.0 698.5,681.3 698.8,724.1 699.0,673.6 699.2,719.7 699.5,673.4 699.8,724.6 700.0,671.5 700.2,715.2 700.5,671.1 700.8,714.4 701.0,679.9 701.2,711.7 701.5,679.6 701.8,712.6 702.0,678.8 702.2,711.0 702.5,674.9 702.8,719.8 703.0,679.6 703.2,712.7 703.5,683.8 703.8,721.4 704.0,681.9 704.2,711.0 704.5,681.1 704.8,713.2 705.0,681.2 705.2,715.1 705.5,684.6 705.8,724.0 706.0,681.1 706.2,725.3 706.5,693.4 706.8,725.2 707.0,695.3 707.2,725.2 707.5,694.5 707.8,730.3 708.0,697.1 708.2,725.7 708.5,698.5 708.8,733.7 709.0,702.1 709.2,742.4 709.5,697.2 709.8,742.9 710.0,698.4 710.2,738.5 710.5,704.3 710.8,736.7 711.0,704.6 711.2,742.4 711.5,700.6 711.8,742.1 712.0,711.0 712.2,740.4 712.5,707.3 712.8,747.5 713.0,706.5 713.2,749.5 713.5,704.6 713.8,752.2 714.0,714.4 714.2,754.1 714.5,713.8 714.8,752.8 715.0,718.9 715.2,749.3 715.5,716.7 715.8,761.4 716.0,724.3 716.2,756.6 716.5,724.9 716.8,752.5 717.0,724.1 717.2,762.7 717.5,727.1 717.8,754.9 718.0,728.8 718.2,757.1 718.5,729.7 718.8,762.8 719.0,728.5 719.2,759.4 719.5,728.2 719.8,761.6 720.0,731.7 720.2,764.7 720.5,732.1 720.8,773.1 721.0,731.0 721.2,775.5 721.5,730.3 721.8,783.0 722.0,723.3 722.2,775.5 722.5,737.8 722.8,785.3 723.0,729.7 723.2,777.2 723.5,724.0 723.8,770.7 724.0,727.1 724.2,780.8 724.5,730.9 724.8,766.2 725.0,722.6 725.2,761.8 725.5,726.5 725.8,772.3 726.0,716.6 726.2,758.7 726.5,719.2 726.8,762.0 727.0,710.6 727.2,751.1 727.5,718.2 727.8,750.2 728.0,707.2 728.2,742.0 728.5,714.5 728.8,748.8 729.0,711.0 729.2,737.7 729.5,711.1 729.8,746.2 730.0,700.9 730.2,738.8 730.5,702.5 730.8,733.9 731.0,702.0 731.2,732.0 731.5,703.0 731.8,738.9 732.0,699.8 732.2,731.7 732.5,695.7 732.8,738.5 733.0,696.9 733.2,729.6 733.5,694.6 733.8,731.5 734.0,686.9 734.2,725.0 734.5,690.7 734.8,732.5 735.0,677.5 735.2,733.6 735.5,681.8 735.8,725.0 736.0,680.6 736.2,718.2 736.5,664.2 736.8,729.7 737.0,671.4 737.2,712.4 737.5,658.7 737.8,718.6 738.0,654.9 738.2,722.3 738.5,667.5 738.8,720.5 739.0,654.8 739.2,704.5 739.5,660.9 739.8,707.5 740.0,652.5 740.2,699.0 740.5,655.6 740.8,709.0 741.0,656.0 741.2,701.6 741.5,652.9 741.8,704.9 742.0,649.5 742.2,686.2 742.5,645.7 742.8,696.2 743.0,640.2 743.2,679.8 743.5,646.0 743.8,684.5 744.0,642.5 744.2,674.6 744.5,636.9 744.8,670.5 745.0,638.6 745.2,667.9 745.5,637.5 745.8,670.1 746.0,631.6 746.2,660.9 746.5,634.8 746.8,662.7 747.0,629.6 747.2,661.8 747.5,631.5 747.8,657.7 748.0,620.4 748.2,663.4 748.5,626.4 748.8,657.0 749.0,620.4 749.2,667.3 749.5,624.1 749.8,656.5 750.0,624.4 750.2,665.3 750.5,623.9 750.8,654.7 751.0,618.8 751.2,655.5 751.5,617.1 751.8,652.3 752.0,616.4 752.2,653.4 752.5,613.3 752.8,664.3 753.0,615.6 753.2,664.0 753.5,602.2 753.8,666.3 754.0,606.8 754.2,656.0 754.5,608.2 754.8,644.8 755.0,602.5 755.2,643.2 755.5,601.3 755.8,639.3 756.0,598.8 756.2,637.1 756.5,597.9 756.8,646.0 757.0,583.6 757.2,632.3 757.5,596.7 757.8,643.1 758.0,588.8 758.2,638.2 758.5,589.7 758.8,633.5 759.0,583.4 759.2,628.1 759.5,580.7 759.8,619.9 760.0,580.7 760.2,628.9 760.5,585.1 760.8,624.3 761.0,571.9 761.2,615.0 761.5,568.1 761.8,611.8 762.0,576.5 762.2,610.9 762.5,569.0 762.8,608.2 763.0,571.8 763.2,611.5 763.5,565.7 763.8,610.3 764.0,575.4 764.2,609.8 764.5,574.0 764.8,602.4 765.0,566.6 765.2,611.3 765.5,569.3 765.8,610.5 766.0,562.0 766.2,603.8 766.5,559.6 766.8,600.4 767.0,567.7 767.2,600.4 767.5,562.0 767.8,603.7 768.0,567.2 768.2,598.7 768.5,566.7 768.8,594.8 769.0,558.2 769.2,598.6 769.5,561.3 769.8,597.3 770.0,566.7 770.2,589.8 770.5,562.5 770.8,591.2 771.0,562.1 771.2,595.4 771.5,555.5 771.8,587.5 772.0,553.1 772.2,595.2 772.5,554.3 772.8,584.3 773.0,551.5 773.2,584.3 773.5,558.5 773.8,584.7 774.0,554.7 774.2,581.6 774.5,558.0 774.8,581.4 775.0,558.6 775.2,585.9 775.5,557.7 775.8,581.3 776.0,558.8 776.2,585.4 776.5,557.1 776.8,585.9 777.0,550.6 777.2,583.8 777.5,549.6 777.8,590.4 778.0,551.1 778.2,581.1 778.5,555.9 778.8,590.0 779.0,546.6 779.2,583.9 779.5,543.3 779.8,581.6 780.0,554.5 780.2,589.8 780.5,556.6 780.8,582.7 781.0,556.8 781.2,580.7 781.5,551.4 781.8,586.6 782.0,555.4 782.2,592.6 782.5,558.2 782.8,584.8 783.0,559.9 783.2,589.1 783.5,561.4 783.8,587.5 784.0,561.6 784.2,596.4 784.5,563.8 784.8,598.6 785.0,562.3 785.2,593.6 785.5,558.7 785.8,599.7 786.0,565.5 786.2,609.8 786.5,568.0 786.8,601.4 787.0,567.4 787.2,603.2 787.5,566.5 787.8,616.2 788.0,564.0 788.2,613.6 788.5,571.6 788.8,608.1 789.0,576.6 789.2,621.0 789.5,577.8 789.8,625.2 790.0,579.0 790.2,622.1 790.5,573.6 790.8,614.4 791.0,578.1 791.2,616.2 791.5,582.0 791.8,619.7 792.0,587.0 792.2,630.6 792.5,588.3 792.8,631.7 793.0,586.0 793.2,626.0 793.5,593.3 793.8,632.7 794.0,583.1 794.2,637.1 794.5,587.4 794.8,638.6 795.0,590.4 795.2,647.7 795.5,600.7 795.8,644.9 796.0,598.4 796.2,650.1 796.5,605.0 796.8,643.0 797.0,609.2 797.2,650.5 797.5,613.7 797.8,660.6 798.0,605.5 798.2,663.9 798.5,613.4 798.8,660.6 799.0,619.5 799.2,670.0 799.5,620.6 799.8,665.3 800.0,621.6 800.2,669.1 800.5,624.5 800.8,667.0 801.0,625.9 801.2,665.0 801.5,619.9 801.8,679.8 802.0,631.6 802.2,669.9 802.5,624.7 802.8,683.0 803.0,622.1 803.2,673.8 803.5,615.6 803.8,674.0 804.0,627.0 804.2,673.1 804.5,619.8 804.8,689.6 805.0,632.3 805.2,680.5 805.5,623.9 805.8,682.3 806.0,613.3 806.2,690.3 806.5,631.9 806.8,674.0 807.0,632.9 807.2,683.0 807.5,630.3 807.8,692.4 808.0,630.4 808.2,682.2 808.5,626.2 808.8,684.6 809.0,618.0 809.2,682.4 809.5,635.6 809.8,692.1 810.0,639.9 810.2,687.1 810.5,641.6 810.8,692.7 811.0,630.6 811.2,694.3 811.5,638.7 811.8,688.2 812.0,643.8 812.2,686.8 812.5,648.7 812.8,692.2 813.0,641.3 813.2,690.4 813.5,648.0 813.8,691.2 814.0,636.9 814.2,706.2 814.5,649.4 814.8,691.4 815.0,647.9 815.2,694.9 815.5,656.7 815.8,704.1 816.0,650.3 816.2,692.1 816.5,648.6 816.8,705.4 817.0,650.3 817.2,698.3 817.5,659.8 817.8,692.8 818.0,658.7 818.2,695.8 818.5,654.2 818.8,693.1 819.0,660.8 819.2,700.9 819.5,650.2 819.8,697.5 820.0,660.1 820.2,707.1 820.5,663.9 820.8,700.6 821.0,658.7 821.2,705.8 821.5,666.8 821.8,705.9 822.0,661.6 822.2,715.6 822.5,663.6 822.8,704.3 823.0,668.7 823.2,710.0 823.5,670.0 823.8,705.6 824.0,661.5 824.2,711.3 824.5,662.5 824.8,709.6 825.0,673.9 825.2,723.8 825.5,676.6 825.8,713.0 826.0,671.5 826.2,728.2 826.5,677.9 826.8,721.8 827.0,667.5 827.2,721.2 827.5,682.0 827.8,716.8 828.0,683.6 828.2,728.4 828.5,673.1 828.8,716.9 829.0,680.1 829.2,727.8 829.5,683.4 829.8,728.5 830.0,679.1 830.2,725.9 830.5,680.6 830.8,725.3 831.0,684.5 831.2,717.7 831.5,678.1 831.8,722.4 832.0,684.3 832.2,713.9 832.5,683.2 832.8,713.5 833.0,682.8 833.2,714.7 833.5,674.8 833.8,713.4 834.0,684.4 834.2,721.3 834.5,673.1 834.8,721.6 835.0,673.2 835.2,714.3 835.5,680.3 835.8,710.9 836.0,677.0 836.2,712.6 836.5,683.5 836.8,714.2 837.0,683.0 837.2,717.4 837.5,680.0 837.8,713.9 838.0,682.5 838.2,721.7 838.5,687.0 838.8,722.2 839.0,682.6 839.2,718.8 839.5,685.1 839.8,722.8 840.0,688.4 840.2,720.9 840.5,684.7 840.8,717.2 841.0,681.7 841.2,728.6 841.5,683.8 841.8,727.0 842.0,688.3 842.2,726.3 842.5,688.4 842.8,720.0 843.0,685.1 843.2,718.1 843.5,680.0 843.8,723.6 844.0,685.7 844.2,723.8 844.5,691.2 844.8,720.8 845.0,686.2 845.2,725.2 845.5,680.2 845.8,727.0 846.0,686.6 846.2,727.3 846.5,683.8 846.8,724.5 847.0,685.7 847.2,725.1 847.5,685.6 847.8,719.5 848.0,679.1 848.2,726.8 848.5,679.3 848.8,718.1 849.0,683.8 849.2,729.5 849.5,677.8 849.8,722.0 850.0,671.7 850.2,714.9 850.5,667.9 850.8,717.6 851.0,663.0 851.2,724.2 851.5,676.4 851.8,712.0 852.0,670.6 852.2,713.8 852.5,663.6 852.8,712.3 853.0,670.4 853.2,710.3 853.5,668.7 853.8,708.7 854.0,652.5 854.2,716.9 854.5,660.1 854.8,705.5 855.0,658.4 855.2,701.9 855.5,644.0 855.8,701.7 856.0,649.4 856.2,698.7 856.5,646.5 856.8,709.8 857.0,652.2 857.2,691.6 857.5,650.9 857.8,708.0 858.0,639.2 858.2,687.8 858.5,641.8 858.8,686.3 859.0,631.1 859.2,692.1 859.5,638.4 859.8,684.6 860.0,633.4 860.2,692.8 860.5,629.6 860.8,681.6 861.0,630.8 861.2,679.4 861.5,611.8 861.8,686.9 862.0,634.8 862.2,681.0 862.5,633.5 862.8,672.2 863.0,632.1 863.2,677.2 863.5,631.6 863.8,686.9 864.0,628.5 864.2,678.2 864.5,631.3 864.8,674.8 865.0,633.7 865.2,681.8 865.5,625.8 865.8,690.7 866.0,628.6 866.2,690.9 866.5,635.6 866.8,683.6 867.0,625.2 867.2,683.3 867.5,632.6 867.8,680.8 868.0,634.8 868.2,682.7 868.5,624.8 868.8,698.8 869.0,633.3 869.2,686.2 869.5,641.2 869.8,684.1 870.0,639.0 870.2,686.8 870.5,624.0 870.8,698.3 871.0,642.4 871.2,686.0 871.5,628.2 871.8,694.4 872.0,635.6 872.2,694.2 872.5,631.1 872.8,692.4 873.0,630.2 873.2,689.2 873.5,625.3 873.8,685.0 874.0,634.2 874.2,684.0 874.5,634.8 874.8,697.7 875.0,637.0 875.2,688.3 875.5,634.9 875.8,690.9 876.0,625.4 876.2,681.9 876.5,633.9 876.8,682.2 877.0,637.2 877.2,677.2 877.5,625.7 877.8,685.5 878.0,630.5 878.2,672.9 878.5,628.5 878.8,672.2 879.0,632.7 879.2,674.1 879.5,630.1 879.8,668.1 880.0,628.6 880.2,676.7 880.5,620.9 880.8,666.6 881.0,616.3 881.2,670.8 881.5,625.0 881.8,664.8 882.0,622.1 882.2,660.6 882.5,612.0 882.8,655.2 883.0,621.5 883.2,668.0 883.5,620.2 883.8,666.4 884.0,617.5 884.2,653.0 884.5,609.7 884.8,661.5 885.0,615.7 885.2,648.0 885.5,609.7 885.8,644.9 886.0,605.8 886.2,657.3 886.5,607.0 886.8,650.9 887.0,596.3 887.2,642.2 887.5,606.5 887.8,651.6 888.0,601.1 888.2,649.5 888.5,605.4 888.8,637.6 889.0,595.7 889.2,635.1 889.5,591.2 889.8,631.6 890.0,597.1 890.2,631.2 890.5,600.9 890.8,638.8 891.0,595.1 891.2,629.1 891.5,592.3 891.8,633.7 892.0,597.5 892.2,627.2 892.5,592.0 892.8,631.9 893.0,586.6 893.2,626.5 893.5,579.7 893.8,638.8 894.0,586.5 894.2,637.9 894.5,579.2 894.8,623.4 895.0,582.4 895.2,625.2 895.5,589.2 895.8,624.3 896.0,574.2 896.2,621.1 896.5,586.0 896.8,622.1 897.0,573.1 897.2,621.6 897.5,582.4 897.8,619.8 898.0,582.8 898.2,618.4 898.5,567.4 898.8,617.1 899.0,580.6 899.2,623.0 899.5,569.5 899.8,623.2 900.0,582.2 900.2,634.0 900.5,578.1 900.8,627.3 901.0,578.2 901.2,620.4 901.5,577.4 901.8,636.4 902.0,583.4 902.2,638.8 902.5,580.7 902.8,627.3 903.0,573.1 903.2,638.0 903.5,578.5 903.8,627.6 904.0,583.4 904.2,634.4 904.5,584.8 904.8,635.3 905.0,590.6 905.2,629.7 905.5,591.2 905.8,630.5 906.0,577.2 906.2,643.1 906.5,592.2 906.8,633.0 907.0,588.8 907.2,646.1 907.5,596.3 907.8,638.0 908.0,596.1 908.2,640.8 908.5,582.8 908.8,640.0 909.0,596.9 909.2,643.7 909.5,592.0 909.8,654.3 910.0,584.0 910.2,654.4 910.5,600.1 910.8,640.4 911.0,598.8 911.2,653.6 911.5,599.4 911.8,650.5 912.0,604.9 912.2,656.5 912.5,602.8 912.8,642.5 913.0,603.9 913.2,658.2 913.5,603.4 913.8,648.8 914.0,608.0 914.2,657.9 914.5,607.8 914.8,652.4 915.0,609.6 915.2,658.9 915.5,601.2 915.8,649.2 916.0,604.8 916.2,646.5 916.5,583.4 916.8,651.5 917.0,605.2 917.2,647.4 917.5,613.6 917.8,652.9 918.0,614.5 918.2,651.2 918.5,611.2 918.8,651.0 919.0,607.7 919.2,650.6 919.5,617.8 919.8,658.0 920.0,613.5 920.2,653.7 920.5,612.7 920.8,652.4 921.0,612.3 921.2,666.0 921.5,620.6 921.8,652.8 922.0,618.7 922.2,654.2 922.5,616.8 922.8,658.4 923.0,620.3 923.2,666.5 923.5,615.2 923.8,665.9 924.0,619.3 924.2,660.5 924.5,618.5 924.8,661.0 925.0,616.3 925.2,665.1 925.5,628.1 925.8,660.4 926.0,616.8 926.2,664.3 926.5,625.6 926.8,666.0 927.0,632.4 927.2,680.4 927.5,630.0 927.8,674.2 928.0,634.9 928.2,679.2 928.5,639.5 928.8,676.3 929.0,641.9 929.2,678.0 929.5,643.7 929.8,684.6 930.0,644.8 930.2,688.8 930.5,646.6 930.8,685.7 931.0,646.5 931.2,696.1 931.5,649.8 931.8,697.3 932.0,648.1 932.2,689.4 932.5,653.5 932.8,695.1 933.0,645.8 933.2,705.3 933.5,653.5 933.8,697.5 934.0,645.9 934.2,703.8 934.5,652.4 934.8,707.1 935.0,660.1 935.2,702.2 935.5,661.2 935.8,728.3 936.0,651.3 936.2,722.5 936.5,665.4 936.8,712.0 937.0,664.9 937.2,713.9 937.5,674.9 937.8,723.5 938.0,674.9 938.2,717.6 938.5,680.6 938.8,724.4 939.0,684.0 939.2,738.6 939.5,668.7 939.8,735.4 940.0,688.8 940.2,741.8 940.5,676.8 940.8,731.6 941.0,676.5 941.2,751.5 941.5,688.2 941.8,744.0 942.0,693.5 942.2,739.2 942.5,687.6 942.8,745.2 943.0,701.0 943.2,742.6 943.5,706.6 943.8,743.5 944.0,694.5 944.2,745.4 944.5,701.4 944.8,750.0 945.0,705.1 945.2,750.5 945.5,701.5 945.8,753.6 946.0,699.2 946.2,753.9 946.5,707.0 946.8,744.3 947.0,704.0 947.2,755.2 947.5,705.2 947.8,744.7 948.0,688.4 948.2,746.1 948.5,688.9 948.8,749.4 949.0,694.3 949.2,740.5 949.5,694.8 949.8,732.0 950.0,696.1 950.2,728.7 950.5,694.9 950.8,738.6 951.0,693.2 951.2,727.2 951.5,684.0 951.8,729.6 952.0,687.9 952.2,736.0 952.5,681.9 952.8,732.0 953.0,667.4 953.2,736.9 953.5,683.2 953.8,730.3 954.0,662.5 954.2,734.1 954.5,668.3 954.8,736.7 955.0,678.4 955.2,739.6 955.5,668.7 955.8,720.7 956.0,663.2 956.2,720.7 956.5,669.2 956.8,724.2 957.0,672.1 957.2,726.3 957.5,673.7 957.8,734.1 958.0,666.6 958.2,715.1 958.5,656.5 958.8,722.6 959.0,661.9 959.2,729.5 959.5,664.8 959.8,718.6 960.0,668.5 960.2,722.8 960.5,666.6 960.8,724.9 961.0,666.5 961.2,710.3 961.5,660.2 961.8,719.1 962.0,654.7 962.2,709.9 962.5,659.9 962.8,707.4 963.0,656.3 963.2,721.6 963.5,664.7 963.8,708.1 964.0,652.6 964.2,712.1 964.5,665.3 964.8,709.5 965.0,650.9 965.2,709.6 965.5,651.4 965.8,715.0 966.0,665.1 966.2,710.2 966.5,658.6 966.8,699.8 967.0,656.6 967.2,701.4 967.5,659.7 967.8,700.7 968.0,663.3 968.2,699.9 968.5,660.3 968.8,700.4 969.0,661.4 969.2,703.8 969.5,657.9 969.8,703.1 970.0,666.4 970.2,702.7 970.5,667.2 970.8,705.3 971.0,651.6 971.2,709.2 971.5,667.5 971.8,719.5 972.0,667.1 972.2,705.3 972.5,661.6 972.8,706.8 973.0,657.6 973.2,715.0 973.5,658.7 973.8,723.1 974.0,666.7 974.2,723.4 974.5,666.1 974.8,716.8 975.0,659.2 975.2,706.0 975.5,666.1 975.8,717.8 976.0,665.8 976.2,719.2 976.5,665.1 976.8,705.9 977.0,658.8 977.2,710.8 977.5,663.2 977.8,709.6 978.0,659.7 978.2,699.8 978.5,649.0 978.8,698.4 979.0,658.3 979.2,710.1 979.5,651.7 979.8,697.5 980.0,661.7 980.2,694.6 980.5,648.6 980.8,706.1 981.0,649.0 981.2,691.9 981.5,655.6 981.8,701.3 982.0,657.3 982.2,699.0 982.5,644.7 982.8,692.7 983.0,651.3 983.2,697.5 983.5,643.3 983.8,686.6 984.0,636.2 984.2,700.0 984.5,645.4 984.8,684.3 985.0,629.7 985.2,693.1 985.5,640.7 985.8,684.5 986.0,629.2 986.2,694.9 986.5,627.0 986.8,692.9 987.0,630.1 987.2,681.7 987.5,632.7 987.8,691.1 988.0,637.1 988.2,683.2 988.5,635.7 988.8,678.4 989.0,636.5 989.2,682.1 989.5,633.5 989.8,679.6 990.0,634.8 990.2,684.2 990.5,623.7 990.8,688.6 991.0,618.7 991.2,684.8 991.5,630.9 991.8,680.3 992.0,623.6 992.2,674.9 992.5,627.5 992.8,675.2 993.0,626.6 993.2,683.4 993.5,626.8 993.8,673.6 994.0,604.0 994.2,673.5 994.5,618.7 994.8,673.7 995.0,618.7 995.2,682.9 995.5,616.6 995.8,688.4 996.0,598.2 996.2,685.2 996.5,601.1 996.8,676.9 997.0,613.5 997.2,661.9 997.5,611.2 997.8,673.4 998.0,604.5 998.2,660.3 998.5,604.9 998.8,672.2 999.0,604.3 999.2,668.5 999.5,608.9 999.8,660.7 1000.0,598.0 1000.2,650.0 1000.5,600.1 1000.8,648.1 1001.0,592.7 1001.2,646.2 1001.5,604.0 1001.8,653.5 1002.0,602.3 1002.2,643.1 1002.5,593.3 1002.8,641.5 1003.0,598.8 1003.2,647.6 1003.5,587.9 1003.8,654.8 1004.0,598.4 1004.2,643.3 1004.5,587.5 1004.8,655.5 1005.0,581.7 1005.2,649.9 1005.5,592.1 1005.8,643.5 1006.0,589.8 1006.2,647.4 1006.5,581.3 1006.8,644.2 1007.0,585.2 1007.2,633.7 1007.5,581.1 1007.8,642.5 1008.0,593.0 1008.2,648.8 1008.5,581.4 1008.8,649.4 1009.0,595.8 1009.2,634.0 1009.5,579.4 1009.8,642.6 1010.0,595.2 1010.2,635.2 1010.5,597.6 1010.8,644.0 1011.0,599.4 1011.2,637.5 1011.5,590.0 1011.8,640.6 1012.0,592.2 1012.2,634.9 1012.5,599.0 1012.8,634.5 1013.0,591.9 1013.2,644.4 1013.5,601.0 1013.8,647.2 1014.0,602.3 1014.2,639.1 1014.5,595.8 1014.8,646.0 1015.0,598.7 1015.2,643.3 1015.5,602.5 1015.8,637.3 1016.0,603.8 1016.2,640.6 1016.5,603.2 1016.8,635.1 1017.0,601.4 1017.2,638.4 1017.5,589.2 1017.8,644.3 1018.0,600.5 1018.2,632.1 1018.5,601.5 1018.8,630.1 1019.0,591.5 1019.2,633.8 1019.5,590.7 1019.8,642.7 1020.0,594.4 1020.2,640.9 1020.5,598.9 1020.8,632.2 1021.0,601.0 1021.2,640.7 1021.5,591.9 1021.8,631.6 1022.0,598.4 1022.2,640.8 1022.5,596.9 1022.8,639.7 1023.0,593.2 1023.2,634.5 1023.5,596.5 1023.8,634.0 1024.0,588.7 1024.2,644.6 1024.5,593.9 1024.8,637.7 1025.0,602.2 1025.2,636.4 1025.5,597.2 1025.8,632.2 1026.0,603.6 1026.2,639.0 1026.5,604.0 1026.8,640.0 1027.0,604.8 1027.2,644.2 1027.5,604.0 1027.8,635.5 1028.0,600.9 1028.2,633.9 1028.5,608.2 1028.8,645.9 1029.0,607.5 1029.2,635.5 1029.5,609.2 1029.8,641.0 1030.0,604.1 1030.2,636.1 1030.5,607.3 1030.8,646.3 1031.0,604.8 1031.2,646.2 1031.5,610.2 1031.8,654.2 1032.0,606.5 1032.2,648.5 1032.5,613.2 1032.8,641.2 1033.0,615.2 1033.2,645.4 1033.5,609.4 1033.8,646.5 1034.0,613.8 1034.2,648.0 1034.5,614.0 1034.8,637.9 1035.0,611.5 1035.2,641.0 1035.5,604.0 1035.8,639.2 1036.0,610.1 1036.2,637.2 1036.5,608.8 1036.8,645.2 1037.0,607.3 1037.2,644.4 1037.5,605.9 1037.8,638.4 1038.0,600.3 1038.2,632.8 1038.5,601.1 1038.8,645.1 1039.0,602.3 1039.2,637.2 1039.5,599.2 1039.8,633.8 1040.0,592.1 1040.2,632.3 1040.5,586.5 1040.8,631.5 1041.0,596.7 1041.2,632.8 1041.5,594.6 1041.8,631.5 1042.0,593.4 1042.2,633.6 1042.5,593.5 1042.8,635.1 1043.0,591.2 1043.2,633.6 1043.5,598.4 1043.8,633.9 1044.0,591.6 1044.2,635.5 1044.5,594.5 1044.8,630.3 1045.0,587.4 1045.2,630.9 1045.5,592.3 1045.8,638.6 1046.0,599.3 1046.2,630.8 1046.5,600.3 1046.8,630.3 1047.0,599.2 1047.2,631.3 1047.5,603.4 1047.8,632.0 1048.0,600.4 1048.2,630.4 1048.5,596.0 1048.8,633.8 1049.0,602.3 1049.2,631.3 1049.5,588.6 1049.8,630.9 1050.0,605.8 1050.2,631.1 1050.5,606.8 1050.8,631.5 1051.0,605.0 1051.2,639.0 1051.5,608.1 1051.8,637.3 1052.0,604.1 1052.2,639.5 1052.5,594.1 1052.8,644.5 1053.0,606.8 1053.2,638.1 1053.5,609.3 1053.8,648.3 1054.0,606.3 1054.2,641.1 1054.5,614.5 1054.8,642.7 1055.0,616.9 1055.2,648.1 1055.5,619.9 1055.8,649.1 1056.0,609.9 1056.2,657.7 1056.5,613.0 1056.8,648.8 1057.0,624.0 1057.2,659.5 1057.5,624.9 1057.8,651.8 1058.0,623.1 1058.2,653.8 1058.5,620.6 1058.8,665.2 1059.0,626.2 1059.2,658.4 1059.5,619.8 1059.8,657.4 1060.0,630.8 1060.2,668.4 1060.5,630.7 1060.8,664.1 1061.0,626.1 1061.2,661.9 1061.5,633.2 1061.8,669.7 1062.0,629.3 1062.2,674.6 1062.5,630.8 1062.8,665.5 1063.0,620.8 1063.2,668.0 1063.5,634.5 1063.8,671.6 1064.0,626.3 1064.2,667.4 1064.5,626.1 1064.8,677.9 1065.0,629.9 1065.2,670.1 1065.5,627.4 1065.8,670.6 1066.0,631.2 1066.2,680.3 1066.5,634.8 1066.8,670.8 1067.0,632.7 1067.2,674.2 1067.5,637.0 1067.8,675.2 1068.0,637.4 1068.2,675.7 1068.5,632.8 1068.8,688.5 1069.0,631.6 1069.2,698.3 1069.5,638.9 1069.8,679.6 1070.0,629.6 1070.2,684.0 1070.5,631.5 1070.8,690.3 1071.0,632.8 1071.2,696.1 1071.5,634.7 1071.8,692.7 1072.0,655.3 1072.2,708.1 1072.5,656.6 1072.8,704.0 1073.0,660.2 1073.2,701.4 1073.5,649.4 1073.8,705.7 1074.0,649.4 1074.2,707.0 1074.5,654.6 1074.8,712.0 1075.0,665.3 1075.2,725.0 1075.5,666.7 1075.8,712.2 1076.0,668.1 1076.2,722.1 1076.5,673.0 1076.8,720.2 1077.0,674.3 1077.2,731.8 1077.5,665.6 1077.8,728.1 1078.0,677.4 1078.2,715.9 1078.5,675.3 1078.8,733.5 1079.0,673.3 1079.2,733.9 1079.5,667.7 1079.8,725.4 1080.0,678.5 1080.2,719.2 1080.5,672.8 1080.8,731.6 1081.0,681.2 1081.2,726.2 1081.5,683.0 1081.8,726.5 1082.0,675.2 1082.2,721.7 1082.5,686.7 1082.8,737.3 1083.0,679.6 1083.2,733.2 1083.5,674.3 1083.8,725.6 1084.0,689.5 1084.2,734.1 1084.5,673.9 1084.8,726.2 1085.0,677.1 1085.2,727.4 1085.5,691.8 1085.8,745.0 1086.0,684.6 1086.2,731.9 1086.5,687.6 1086.8,731.9 1087.0,693.0 1087.2,732.6 1087.5,684.3 1087.8,741.6 1088.0,697.3 1088.2,736.3 1088.5,683.2 1088.8,751.5 1089.0,688.1 1089.2,740.7 1089.5,694.5 1089.8,737.6 1090.0,698.5 1090.2,749.2 1090.5,688.8 1090.8,752.3 1091.0,688.5 1091.2,735.7 1091.5,695.1 1091.8,732.9 1092.0,676.8 1092.2,734.8 1092.5,686.8 1092.8,735.3 1093.0,686.9 1093.2,730.4 1093.5,683.0 1093.8,730.4 1094.0,673.6 1094.2,741.6 1094.5,668.2 1094.8,744.6 1095.0,666.6 1095.2,735.3 1095.5,683.9 1095.8,729.4 1096.0,682.0 1096.2,726.8 1096.5,673.9 1096.8,742.0 1097.0,678.1 1097.2,730.5 1097.5,678.0 1097.8,727.5 1098.0,665.2 1098.2,729.0 1098.5,683.3 1098.8,737.7 1099.0,674.3 1099.2,743.2 1099.5,680.5 1099.8,737.4 1100.0,694.6 1100.2,742.4 1100.5,682.2 1100.8,745.0 1101.0,688.6 1101.2,735.2 1101.5,688.9 1101.8,737.5 1102.0,689.0 1102.2,738.1 1102.5,686.0 1102.8,746.5 1103.0,685.5 1103.2,744.6 1103.5,701.0 1103.8,747.4 1104.0,690.8 1104.2,751.8 1104.5,677.2 1104.8,742.4 1105.0,703.7 1105.2,750.8 1105.5,697.8 1105.8,749.3 1106.0,710.1 1106.2,747.1 1106.5,711.1 1106.8,759.2 1107.0,713.5 1107.2,751.1 1107.5,700.1 1107.8,759.9 1108.0,715.7 1108.2,751.0 1108.5,717.5 1108.8,757.2 1109.0,720.9 1109.2,758.9 1109.5,720.2 1109.8,755.6 1110.0,717.7 1110.2,760.5 1110.5,715.3 1110.8,772.2 1111.0,729.0 1111.2,760.4 1111.5,715.1 1111.8,773.0 1112.0,730.4 1112.2,764.1 1112.5,731.3 1112.8,763.8 1113.0,731.3 1113.2,779.4 1113.5,725.6 1113.8,767.5 1114.0,729.0 1114.2,768.3 1114.5,731.8 1114.8,775.4 1115.0,734.5 1115.2,795.8 1115.5,730.7 1115.8,772.9 1116.0,725.6 1116.2,797.5 1116.5,731.1 1116.8,775.9 1117.0,737.0 1117.2,781.1 1117.5,728.7 1117.8,782.4 1118.0,731.8 1118.2,791.7 1118.5,739.1 1118.8,776.9 1119.0,734.5 1119.2,785.5 1119.5,726.9 1119.8,791.5 1120.0,737.9 1120.2,783.7 1120.5,739.8 1120.8,789.7 1121.0,731.5 1121.2,803.3 1121.5,740.0 1121.8,795.6 1122.0,737.4 1122.2,790.1 1122.5,748.0 1122.8,801.0 1123.0,751.2 1123.2,795.1 1123.5,740.0 1123.8,805.2 1124.0,754.7 1124.2,808.7 1124.5,740.8 1124.8,795.3 1125.0,752.3 1125.2,804.5 1125.5,743.0 1125.8,804.6 1126.0,758.5 1126.2,814.1 1126.5,749.2 1126.8,801.5 1127.0,744.4 1127.2,798.4 1127.5,740.5 1127.8,804.8 1128.0,749.7 1128.2,802.9 1128.5,751.6 1128.8,796.0 1129.0,748.8 1129.2,788.8 1129.5,740.5 1129.8,790.1 1130.0,744.7 1130.2,787.4 1130.5,738.3 1130.8,783.3 1131.0,730.2 1131.2,788.2 1131.5,730.0 1131.8,789.8 1132.0,731.8 1132.2,776.3 1132.5,719.7 1132.8,785.4 1133.0,726.3 1133.2,773.7 1133.5,713.6 1133.8,776.2 1134.0,725.4 1134.2,786.7 1134.5,710.3 1134.8,770.0 1135.0,727.3 1135.2,768.7 1135.5,718.9 1135.8,782.6 1136.0,719.3 1136.2,770.2 1136.5,711.6 1136.8,768.4 1137.0,716.3 1137.2,763.1 1137.5,715.1 1137.8,760.9 1138.0,720.6 1138.2,771.0 1138.5,710.5 1138.8,757.0 1139.0,712.6 1139.2,767.4 1139.5,709.8 1139.8,756.0 1140.0,716.7 1140.2,754.0 1140.5,708.2 1140.8,767.7 1141.0,715.8 1141.2,751.3 1141.5,701.5 1141.8,750.8 1142.0,709.8 1142.2,763.7 1142.5,701.1 1142.8,754.7 1143.0,715.1 1143.2,756.2 1143.5,706.5 1143.8,747.8 1144.0,702.8 1144.2,770.9 1144.5,714.1 1144.8,747.0 1145.0,700.0 1145.2,755.1 1145.5,710.7 1145.8,746.3 1146.0,700.9 1146.2,757.2 1146.5,709.8 1146.8,745.7 1147.0,710.8 1147.2,745.6 1147.5,700.5 1147.8,748.9 1148.0,707.7 1148.2,742.2 1148.5,706.3 1148.8,750.6 1149.0,701.7 1149.2,741.5 1149.5,704.3 1149.8,747.3 1150.0,698.8 1150.2,748.6 1150.5,689.8 1150.8,744.0 1151.0,683.5 1151.2,737.7 1151.5,695.5 1151.8,747.1 1152.0,696.4 1152.2,732.1 1152.5,690.2 1152.8,744.3 1153.0,685.1 1153.2,732.6 1153.5,682.1 1153.8,739.5 1154.0,673.7 1154.2,738.7 1154.5,673.7 1154.8,726.0 1155.0,678.2 1155.2,732.6 1155.5,666.4 1155.8,723.3 1156.0,676.0 1156.2,726.4 1156.5,673.9 1156.8,718.6 1157.0,672.5 1157.2,716.8 1157.5,667.5 1157.8,729.2 1158.0,652.4 1158.2,714.5 1158.5,657.3 1158.8,721.5 1159.0,668.0 1159.2,718.7 1159.5,656.0 1159.8,709.2 1160.0,649.6 1160.2,706.6 1160.5,664.6 1160.8,707.8 1161.0,662.2 1161.2,712.0 1161.5,654.7 1161.8,708.4 1162.0,657.1 1162.2,714.8 1162.5,657.3 1162.8,700.1 1163.0,654.6 1163.2,701.9 1163.5,651.4 1163.8,694.1 1164.0,650.3 1164.2,694.8 1164.5,634.5 1164.8,690.5 1165.0,637.2 1165.2,684.8 1165.5,639.9 1165.8,691.7 1166.0,623.5 1166.2,673.7 1166.5,625.1 1166.8,672.4 1167.0,626.2 1167.2,667.7 1167.5,617.0 1167.8,667.3 1168.0,607.3 1168.2,657.7 1168.5,601.0 1168.8,648.1 1169.0,594.2 1169.2,642.7 1169.5,603.8 1169.8,637.6 1170.0,587.7 1170.2,633.7 1170.5,597.4 1170.8,627.9 1171.0,590.5 1171.2,626.0 1171.5,579.6 1171.8,621.4 1172.0,584.3 1172.2,615.3 1172.5,581.7 1172.8,622.6 1173.0,573.2 1173.2,619.7 1173.5,565.8 1173.8,609.4 1174.0,565.4 1174.2,605.2 1174.5,558.0 1174.8,605.4 1175.0,563.1 1175.2,601.0 1175.5,561.2 1175.8,599.9 1176.0,557.4 1176.2,605.3 1176.5,547.2 1176.8,611.7 1177.0,556.1 1177.2,601.6 1177.5,550.9 1177.8,595.4 1178.0,556.3 1178.2,610.3 1178.5,549.0 1178.8,601.5 1179.0,555.6 1179.2,607.6 1179.5,547.0 1179.8,595.5 1180.0,537.6 1180.2,604.3 1180.5,553.9 1180.8,605.0 1181.0,553.7 1181.2,595.0 1181.5,553.2 1181.8,592.5 1182.0,546.9 1182.2,599.6 1182.5,539.1 1182.8,590.9 1183.0,549.7 1183.2,594.7 1183.5,532.1 1183.8,593.5 1184.0,537.7 1184.2,584.2 1184.5,536.5 1184.8,589.2 1185.0,538.6 1185.2,581.0 1185.5,535.3 1185.8,579.8 1186.0,531.3 1186.2,593.6 1186.5,527.6 1186.8,578.4 1187.0,533.1 1187.2,583.5 1187.5,533.5 1187.8,583.2 1188.0,529.7 1188.2,582.7 1188.5,537.0 1188.8,575.9 1189.0,532.3 1189.2,586.2 1189.5,535.1 1189.8,592.8 1190.0,524.7 1190.2,594.6 1190.5,534.7 1190.8,581.2 1191.0,522.5 1191.2,582.8 1191.5,527.3 1191.8,585.3 1192.0,520.3 1192.2,582.9 1192.5,526.3 1192.8,580.9 1193.0,528.6 1193.2,581.6 1193.5,523.0 1193.8,580.8 1194.0,516.3 1194.2,579.8 1194.5,530.6 1194.8,584.0 1195.0,534.3 1195.2,602.7 1195.5,532.5 1195.8,583.2 1196.0,523.7 1196.2,596.0 1196.5,528.9 1196.8,583.2 1197.0,534.6 1197.2,585.5 1197.5,534.6 1197.8,584.0 1198.0,529.5 1198.2,581.9 1198.5,515.6 1198.8,610.7 1199.0,512.3 1199.2,583.8 1199.5,521.2 1199.8,602.0 1200.0,531.5 1200.2,579.9 1200.5,515.3 1200.8,581.5 1201.0,526.3 1201.2,581.5 1201.5,520.0 1201.8,600.8 1202.0,529.4 1202.2,592.4 1202.5,529.1 1202.8,580.1 1203.0,510.4 1203.2,584.1 1203.5,520.4 1203.8,599.5 1204.0,520.2 1204.2,577.7 1204.5,528.3 1204.8,598.1 1205.0,520.1 1205.2,588.4 1205.5,528.6 1205.8,579.6"/>
<polyline fill="none" stroke="#1f77b4" stroke-width="3.1" stroke-linejoin="round" points="131.0,641.1 132.3,647.6 132.7,648.5 133.6,673.4 134.9,708.0 135.3,718.8 136.2,728.8 137.5,740.5 138.8,755.8 138.9,755.0 140.1,749.3 141.4,743.2 142.4,737.6 142.7,737.0 144.0,741.5 145.3,742.7 146.6,744.0 147.8,747.0 147.9,746.2 149.2,746.0 150.5,743.3 151.8,743.6 153.1,740.5 153.1,742.9 154.4,735.6 155.7,729.9 157.0,721.5 158.3,713.7 158.4,713.8 159.6,712.8 160.9,712.5 162.2,709.2 163.5,707.6 163.8,705.3 164.8,704.2 166.1,702.6 167.4,702.1 168.7,698.8 170.0,697.3 171.3,697.2 172.6,693.3 172.6,694.0 173.9,692.4 175.2,692.8 176.5,693.3 177.8,693.1 178.0,690.8 179.1,678.9 180.4,668.5 181.5,658.4 181.7,654.4 183.0,642.2 184.3,629.0 185.1,619.2 185.6,616.9 186.9,614.3 188.2,610.0 189.5,603.5 190.4,601.2 190.8,600.4 192.1,599.0 193.4,597.4 194.7,598.2 196.0,595.9 197.3,594.4 197.5,594.0 198.6,597.7 199.9,600.4 201.2,604.4 202.5,607.1 202.8,608.9 203.8,607.1 205.1,606.3 206.4,602.9 207.7,602.0 209.0,600.1 210.0,601.3 210.3,600.0 211.6,603.1 212.9,604.3 214.2,607.5 215.5,609.5 216.8,613.4 217.0,613.1 218.1,614.7 219.4,612.0 220.7,612.9 222.0,611.3 223.3,611.2 224.6,609.3 225.9,609.4 227.2,608.6 227.7,607.8 228.5,611.1 229.8,612.8 231.1,617.3 232.4,620.7 233.1,622.8 233.7,621.6 235.0,622.8 236.3,621.1 237.6,621.1 238.9,620.4 240.2,620.6 240.2,621.2 241.5,625.9 242.8,623.8 244.1,629.4 245.4,631.9 246.7,635.0 247.3,635.1 248.0,637.0 249.3,641.2 250.6,642.9 251.9,646.1 252.6,647.6 253.2,648.3 254.5,650.1 255.8,648.5 257.1,650.9 258.4,648.6 259.7,651.7 259.7,650.9 261.0,645.5 262.3,638.2 262.4,637.6 263.6,644.8 264.9,652.6 265.0,651.2 266.2,669.2 267.5,685.1 268.6,701.8 268.8,702.4 270.1,716.2 271.4,729.0 272.1,736.6 272.7,738.7 274.0,743.2 275.3,746.0 276.6,752.6 277.5,753.3 277.9,755.1 279.2,756.5 280.5,762.5 281.8,766.6 282.8,769.4 283.1,767.1 284.4,759.3 285.7,750.5 286.4,746.6 287.0,746.6 288.3,746.6 289.6,745.3 290.9,745.6 292.2,746.1 293.5,745.5 293.5,745.3 294.8,742.1 296.1,740.3 297.4,737.6 298.7,736.0 300.0,732.1 300.6,731.7 301.3,727.6 302.6,726.1 303.9,719.2 305.2,716.2 306.5,711.8 307.8,707.5 308.9,704.2 309.1,702.4 310.4,692.5 311.7,682.3 313.0,672.6 314.3,662.2 315.6,652.3 316.0,648.0 316.9,640.0 318.2,632.8 319.5,621.3 319.5,618.7 320.8,616.5 322.1,610.6 323.1,606.3 323.4,605.9 324.7,604.3 326.0,601.5 327.3,600.3 328.6,597.8 329.9,595.7 331.2,594.2 332.0,592.8 332.5,594.9 333.8,596.5 335.1,598.0 336.4,601.4 337.7,605.5 339.0,608.1 339.1,606.2 340.3,608.0 341.6,607.7 342.9,608.5 344.2,608.0 345.5,608.5 346.8,610.3 348.1,611.3 349.4,612.1 349.8,611.2 350.7,612.6 352.0,614.3 353.3,615.4 354.6,614.5 355.1,616.5 355.9,622.1 356.9,628.4 357.2,627.3 358.5,629.8 359.8,627.2 361.1,631.6 362.4,630.7 363.7,632.1 365.0,632.1 365.7,632.4 366.3,633.5 367.6,634.8 368.9,634.8 370.2,637.4 371.5,637.3 372.8,638.7 372.9,638.1 374.1,638.6 375.4,639.7 376.7,639.1 378.0,641.3 379.3,640.2 380.6,642.2 381.7,641.3 381.9,642.2 383.2,642.5 384.5,645.0 385.8,646.1 387.1,645.1 388.4,646.6 389.7,647.2 390.6,648.2 391.0,648.6 392.3,649.5 393.6,648.4 394.9,647.1 396.2,649.6 397.5,649.0 397.7,649.2 398.8,655.3 400.1,661.4 401.3,665.5 401.4,667.3 402.7,677.5 404.0,688.8 405.3,698.9 406.6,711.1 406.6,709.4 407.9,716.8 409.2,724.4 410.5,729.7 411.8,737.7 411.9,738.3 413.1,737.9 414.4,738.0 415.7,734.0 417.0,735.9 417.3,735.2 418.3,733.9 419.6,730.8 420.9,727.0 422.2,724.5 423.5,721.5 424.4,721.6 424.8,719.3 426.1,718.1 427.4,715.5 428.7,711.9 430.0,711.3 431.3,709.3 432.6,708.6 433.3,706.1 433.9,705.0 435.2,704.6 436.5,705.0 437.8,704.0 439.1,703.2 440.4,702.5 441.7,700.5 442.1,701.7 443.0,699.0 444.3,693.6 445.6,691.6 445.7,693.0 446.9,677.8 448.2,663.1 449.3,650.9 449.5,649.8 450.8,641.9 452.1,634.6 452.8,629.3 453.4,624.8 454.7,617.8 456.0,609.4 456.4,607.8 457.3,608.3 458.6,606.4 459.9,606.1 461.2,606.2 462.5,604.9 463.8,604.2 465.1,602.2 465.2,602.6 466.4,603.5 467.7,605.1 469.0,607.6 470.3,608.5 471.6,609.2 472.4,608.1 472.9,609.0 474.2,605.2 475.3,600.5 475.5,602.0 476.8,605.0 478.1,609.0 479.4,610.0 480.7,613.9 482.0,619.4 482.4,618.4 483.3,617.9 484.6,617.2 485.9,616.8 487.2,616.8 488.5,614.6 489.5,614.7 489.8,614.4 491.1,613.8 492.4,615.9 493.7,615.7 495.0,614.7 496.3,615.1 497.6,614.6 498.4,614.2 498.9,616.7 500.2,620.7 501.5,620.2 502.8,625.1 504.1,630.3 505.4,632.9 505.5,630.9 506.7,632.9 508.0,636.7 509.3,636.6 510.6,639.4 511.9,640.7 512.6,642.8 513.2,643.2 514.5,645.9 515.8,644.7 517.1,645.5 518.4,647.9 519.7,649.7 519.8,649.3 521.0,647.6 522.3,640.5 523.6,636.3 524.9,632.9 525.0,633.2 526.2,636.7 527.5,642.3 528.6,645.0 528.8,645.3 530.1,647.1 531.4,648.3 532.7,648.8 534.0,649.5 534.9,650.3 535.3,656.1 536.6,677.1 537.5,691.8 537.9,698.4 539.2,723.0 540.2,741.4 540.5,742.9 541.8,745.5 543.1,745.1 544.4,747.2 545.7,745.8 546.4,746.8 547.0,747.8 548.3,750.8 549.6,753.3 550.9,754.2 551.7,754.9 552.2,753.2 553.5,748.7 554.8,745.8 556.1,741.9 557.1,738.5 557.4,736.7 558.7,733.0 560.0,728.3 561.3,723.1 562.6,720.3 563.9,714.7 564.2,714.2 565.2,710.0 566.5,707.2 567.8,703.4 569.1,699.6 569.5,699.6 570.4,699.3 571.7,698.5 573.0,698.9 574.3,699.5 575.6,699.5 576.6,701.1 576.9,696.1 578.2,692.7 579.5,686.5 580.8,680.2 581.9,674.0 582.1,672.3 583.4,660.6 584.7,652.0 586.0,640.4 587.3,629.7 587.3,631.6 588.6,622.8 589.9,617.1 591.2,611.1 592.5,603.9 592.6,603.9 593.8,603.5 595.1,603.2 596.4,601.7 597.7,601.4 599.0,603.2 600.3,602.4 601.5,601.6 601.6,601.3 602.9,604.7 604.2,604.8 605.5,605.9 606.8,609.3 608.1,609.1 608.6,610.3 609.4,611.5 610.7,611.8 612.0,614.3 613.3,615.6 614.6,617.1 615.7,617.6 615.9,619.1 617.2,617.7 618.5,617.4 619.8,618.0 621.1,617.3 622.4,615.7 622.8,618.8 623.7,615.6 625.0,614.4 626.3,615.4 627.6,613.6 628.9,614.2 630.0,613.3 630.2,613.8 631.5,615.7 632.8,619.1 634.1,620.7 635.4,625.4 636.7,627.7 637.0,628.3 638.0,630.0 639.3,631.9 640.6,634.1 641.9,636.4 643.2,637.6 644.1,638.6 644.5,638.4 645.8,642.8 647.1,643.5 647.1,642.9 648.4,641.3 649.7,642.6 651.0,640.5 652.3,641.3 653.6,640.2 654.9,641.0 656.0,639.2 656.2,638.9 657.5,639.3 658.8,641.9 660.1,645.1 661.4,645.2 662.7,645.9 663.1,647.7 664.0,646.7 665.3,649.0 666.6,647.9 667.9,648.9 668.4,651.0 669.2,658.2 670.5,675.0 671.8,688.8 672.0,692.6 673.1,701.6 674.4,715.0 675.7,729.6 677.0,740.8 677.3,744.5 678.3,742.2 679.6,742.0 680.9,739.3 682.2,736.6 683.5,735.8 684.8,733.1 686.1,732.7 686.2,731.0 687.4,734.0 688.7,733.9 690.0,730.4 691.3,732.4 692.6,731.3 693.3,731.3 693.9,730.3 695.2,731.3 696.5,727.2 697.8,728.9 699.1,724.8 700.4,725.6 700.4,724.7 701.7,721.5 703.0,718.2 704.3,715.8 705.6,713.4 706.9,711.5 707.5,707.3 708.2,707.3 709.5,703.4 710.8,699.4 712.1,696.4 712.8,694.6 713.4,694.8 714.7,697.1 716.0,699.7 716.4,699.7 717.3,687.1 718.6,666.7 719.9,648.4 720.0,647.1 721.2,631.8 722.5,615.2 723.5,602.3 723.8,601.0 725.1,595.8 726.4,591.0 727.7,586.8 728.8,581.4 729.0,584.3 730.3,583.8 731.6,586.7 732.9,589.8 734.2,592.2 735.5,593.2 736.0,593.5 736.8,592.0 738.1,593.2 739.4,592.3 740.7,591.0 742.0,591.6 743.0,592.5 743.3,592.9 744.6,596.2 745.9,600.0 747.2,603.2 748.4,606.2 748.5,605.2 749.8,599.5 751.1,592.9 752.4,586.7 753.7,580.5 753.7,582.5 755.0,584.6 756.3,587.7 757.6,590.0 758.9,593.1 760.2,595.2 760.8,596.7 761.5,599.6 762.8,603.5 764.1,603.4 765.4,607.4 766.7,610.5 768.0,613.2 769.3,616.8 769.7,617.8 770.6,618.0 771.9,620.2 773.2,619.6 774.5,623.2 775.8,623.7 777.1,623.8 778.4,624.3 778.6,624.5 779.7,626.7 781.0,629.7 782.3,630.9 783.6,632.4 784.9,632.3 785.7,634.2 786.2,635.0 787.5,635.2 788.8,635.5 790.1,635.6 791.4,635.8 792.7,636.5 794.0,637.2 795.3,637.4 796.4,638.7 796.6,637.7 797.9,643.2 799.2,645.2 800.0,646.6 800.5,647.6 801.8,647.5 803.1,645.9 804.4,647.2 805.7,648.7 807.0,648.1 808.3,649.4 809.6,647.8 810.6,648.5 810.9,648.8 812.2,652.3 813.5,654.8 813.6,655.0 814.8,690.0 816.1,724.5 817.1,753.0 817.4,755.6 818.7,762.9 820.0,769.0 820.7,771.8 821.3,768.8 822.6,764.4 823.9,760.4 824.2,758.6 825.2,756.4 826.5,757.0 827.8,755.7 829.1,752.6 830.4,753.8 831.3,752.8 831.7,751.6 833.0,745.0 834.3,739.6 834.9,736.6 835.6,732.8 836.9,727.7 838.2,724.5 839.5,721.3 840.2,717.8 840.8,717.1 842.1,715.8 843.4,713.6 844.7,712.0 846.0,710.4 847.3,708.8 847.3,707.8 848.6,699.4 849.9,686.2 851.2,677.0 852.5,664.6 852.6,665.3 853.8,642.1 855.1,618.1 856.2,598.7 856.4,597.1 857.7,593.4 859.0,590.8 860.3,587.3 861.5,585.1 861.6,585.6 862.9,588.3 864.2,588.6 865.5,590.8 866.8,590.9 868.1,592.0 868.6,592.9 869.4,592.9 870.7,593.8 872.0,596.0 873.3,594.6 874.6,595.6 875.7,595.3 875.9,594.5 877.2,596.4 878.5,600.0 879.8,601.1 881.1,603.6 882.4,604.5 882.8,604.5 883.7,606.2 885.0,606.1 886.3,605.2 887.6,607.1 888.9,608.1 890.2,607.1 891.5,607.6 891.7,607.1 892.8,608.6 894.1,610.9 895.4,613.1 896.7,613.6 898.0,615.1 898.8,615.7 899.3,618.0 900.6,622.2 901.9,625.4 903.2,628.4 904.2,633.2 904.5,633.1 905.8,632.5 907.1,634.8 908.4,634.1 909.7,634.7 911.0,634.5 912.3,636.4 913.1,636.8 913.6,635.4 914.9,637.5 916.2,636.8 917.5,638.5 918.8,640.1 920.1,642.5 921.4,643.0 922.7,644.3 923.7,644.4 924.0,645.2 925.3,643.4 926.6,644.7 927.9,643.0 929.2,644.0 930.5,644.7 931.8,643.9 932.6,643.8 933.1,644.3 934.4,643.7 935.7,647.1 936.2,649.1 937.0,648.3 938.3,647.8 939.6,648.9 940.9,649.4 942.2,647.9 943.5,648.9 944.8,648.7 945.0,649.0 946.1,665.6 947.4,682.8 948.6,700.9 948.7,704.5 950.0,740.3 950.4,753.3 951.3,756.1 952.6,761.7 953.9,765.2 953.9,765.5 955.2,760.9 956.5,754.6 957.8,748.2 959.1,743.1 960.4,737.4 961.0,734.6 961.7,736.0 963.0,736.0 964.3,733.4 965.6,735.5 966.9,733.6 968.2,731.2 969.5,730.7 970.0,730.9 970.8,732.3 972.1,729.1 973.4,728.4 974.7,729.4 976.0,727.0 977.0,726.8 977.3,723.1 978.6,715.9 979.9,706.3 981.2,697.7 982.3,689.8 982.5,689.5 983.8,675.1 985.1,666.2 985.3,665.4 986.4,655.0 987.7,640.7 989.0,630.9 990.0,621.5 990.3,620.8 991.6,615.5 992.9,613.0 994.2,608.3 995.5,602.8 996.0,601.5 996.8,601.1 998.1,600.7 999.4,599.4 1000.7,598.1 1002.0,595.5 1003.3,594.7 1004.6,592.7 1004.9,593.2 1005.9,592.8 1007.2,594.0 1008.5,595.6 1009.8,594.8 1011.1,596.6 1012.4,597.5 1013.7,596.1 1013.8,598.5 1015.0,602.7 1016.3,606.4 1017.3,610.9 1017.6,610.9 1018.9,613.7 1020.2,615.8 1021.5,616.9 1022.8,619.2 1024.1,620.8 1024.4,620.3 1025.4,621.6 1026.7,625.0 1028.0,624.5 1029.3,627.3 1030.6,630.2 1031.9,631.4 1033.2,633.4 1033.3,631.2 1034.5,634.2 1035.8,635.5 1037.1,636.1 1038.4,637.8 1039.7,638.8 1040.4,640.9 1041.0,639.6 1042.3,640.3 1043.6,643.5 1044.9,642.8 1046.2,644.6 1047.5,646.9 1047.5,646.2 1048.8,645.3 1050.1,646.5 1051.4,643.7 1052.7,645.1 1054.0,643.8 1055.3,643.6 1056.6,644.1 1057.9,643.5 1058.2,643.1 1059.2,645.2 1060.5,643.6 1061.8,646.3 1063.1,645.7 1064.4,646.2 1065.3,646.9 1065.7,647.8 1067.0,646.1 1068.3,649.9 1069.6,650.7 1070.9,648.4 1072.2,649.0 1072.4,649.8 1073.5,657.1 1074.8,666.1 1075.9,673.3 1076.1,675.2 1077.4,689.9 1078.7,700.4 1079.5,708.0 1080.0,712.3 1081.3,719.1 1082.6,723.9 1083.9,731.3 1084.8,735.4 1085.2,734.4 1086.5,736.2 1087.8,737.7 1089.1,736.9 1090.4,737.9 1091.7,739.5 1093.0,742.4 1093.7,742.0 1094.3,740.8 1095.6,740.6 1096.9,741.3 1098.2,739.6 1099.5,740.1 1100.8,738.8 1102.1,739.4 1102.6,739.9 1103.4,739.0 1104.7,741.8 1106.0,743.2 1107.3,743.4 1107.9,742.7 1108.6,738.8 1109.9,731.2 1111.2,718.4 1112.5,707.8 1112.7,707.6 1113.8,702.4 1115.1,697.2 1116.4,693.5 1117.7,689.5 1119.0,683.8 1119.0,683.5 1120.3,671.8 1121.0,664.1 1121.6,656.5 1122.9,643.0 1123.8,629.8 1124.2,625.7 1125.5,611.9 1125.9,607.0 1126.8,607.9 1128.1,604.1 1129.4,605.8 1130.7,604.1 1132.0,604.0 1132.8,604.0 1133.3,602.4 1134.6,598.5 1135.9,597.4 1137.2,594.4 1138.5,593.2 1139.6,588.7 1139.8,591.5 1141.1,591.9 1142.4,594.3 1143.7,595.3 1145.0,599.9 1146.3,603.4 1146.5,602.9 1147.6,603.8 1148.9,605.7 1150.2,606.8 1151.5,606.3 1152.4,608.3 1152.8,609.2 1154.1,613.5 1155.4,613.4 1155.7,613.2 1156.7,615.4 1158.0,614.9 1159.3,615.6 1160.6,617.2 1161.9,618.0 1163.2,618.3 1164.5,619.5 1164.9,619.7 1165.8,619.0 1167.1,620.3 1168.4,620.7 1169.4,619.4 1169.7,621.4 1171.0,624.5 1172.3,627.8 1173.6,631.6 1174.0,634.8 1174.9,632.9 1176.2,633.5 1177.5,636.4 1178.8,636.3 1180.1,635.8 1180.9,636.6 1181.4,637.8 1182.7,637.9 1184.0,639.9 1185.3,640.8 1186.6,642.4 1187.9,642.0 1189.2,644.1 1190.5,645.5 1191.8,645.0 1192.4,645.5 1193.1,647.8 1194.4,646.5 1195.7,645.7 1197.0,647.6 1198.3,646.6 1199.6,645.3 1200.9,646.4 1202.2,647.0 1203.5,647.8 1203.5,645.7"/>
</g>
<rect x="130.5" y="495.8" width="1074.0" height="324.99999999999994" fill="none" stroke="#000" stroke-width="1.9"/>
<rect x="167.4" y="508.6" width="998.6" height="41" rx="4" fill="#fff" stroke="#d0d0d0" stroke-width="1.6"/>
<line x1="176" y1="528" x2="225" y2="528" stroke="#000" stroke-width="1.3"/>
<text x="240.8" y="537.0" font-size="23.5" textLength="154.4" lengthAdjust="spacingAndGlyphs">EEG rescaled</text>
<line x1="444.5" y1="528" x2="494.5" y2="528" stroke="#1f77b4" stroke-width="2.7"/>
<text x="511.1" y="537.0" font-size="23.5" textLength="170.0" lengthAdjust="spacingAndGlyphs">Respi rescaled</text>
<rect x="731" y="519" width="49" height="17.8" fill="#cde5cc" stroke="#b0d6af" stroke-width="1.6"/>
<text x="795.3" y="537.0" font-size="23.5" textLength="124.6" lengthAdjust="spacingAndGlyphs">Inspiration</text>
<rect x="970.3" y="519" width="49" height="17.8" fill="#fdcccc" stroke="#f9b3b3" stroke-width="1.6"/>
<text x="1034.6" y="537.0" font-size="23.5" textLength="119.3" lengthAdjust="spacingAndGlyphs">Expiration</text>
<line x1="121.8" y1="510.6" x2="130.5" y2="510.6" stroke="#000" stroke-width="1.9"/>
<text x="111.4" y="518.5" font-size="22.2" text-anchor="end" textLength="27.5" lengthAdjust="spacingAndGlyphs">40</text>
<line x1="121.8" y1="583.9" x2="130.5" y2="583.9" stroke="#000" stroke-width="1.9"/>
<text x="111.4" y="591.8" font-size="22.2" text-anchor="end" textLength="27.5" lengthAdjust="spacingAndGlyphs">20</text>
<line x1="121.8" y1="657.6" x2="130.5" y2="657.6" stroke="#000" stroke-width="1.9"/>
<text x="111.4" y="665.5" font-size="22.2" text-anchor="end" textLength="13.7" lengthAdjust="spacingAndGlyphs">0</text>
<line x1="121.8" y1="732.2" x2="130.5" y2="732.2" stroke="#000" stroke-width="1.9"/>
<text x="111.4" y="740.1" font-size="22.2" text-anchor="end" textLength="45.6" lengthAdjust="spacingAndGlyphs">−20</text>
<line x1="121.8" y1="805.6" x2="130.5" y2="805.6" stroke="#000" stroke-width="1.9"/>
<text x="111.4" y="813.5" font-size="22.2" text-anchor="end" textLength="45.6" lengthAdjust="spacingAndGlyphs">−40</text>
<line x1="1204.5" y1="539.8" x2="1213.2" y2="539.8" stroke="#000" stroke-width="1.9"/>
<text x="1222.0" y="547.7" font-size="22.2" textLength="48.1" lengthAdjust="spacingAndGlyphs">0.04</text>
<line x1="1204.5" y1="599.3" x2="1213.2" y2="599.3" stroke="#000" stroke-width="1.9"/>
<text x="1222.0" y="607.2" font-size="22.2" textLength="48.1" lengthAdjust="spacingAndGlyphs">0.02</text>
<line x1="1204.5" y1="658.5" x2="1213.2" y2="658.5" stroke="#000" stroke-width="1.9"/>
<text x="1222.0" y="666.4" font-size="22.2" textLength="48.1" lengthAdjust="spacingAndGlyphs">0.00</text>
<line x1="1204.5" y1="717.3" x2="1213.2" y2="717.3" stroke="#000" stroke-width="1.9"/>
<text x="1222.0" y="725.2" font-size="22.2" textLength="66.2" lengthAdjust="spacingAndGlyphs">−0.02</text>
<line x1="1204.5" y1="777.0" x2="1213.2" y2="777.0" stroke="#000" stroke-width="1.9"/>
<text x="1222.0" y="784.9" font-size="22.2" textLength="66.2" lengthAdjust="spacingAndGlyphs">−0.04</text>
<line x1="130.5" y1="820.8" x2="130.5" y2="829.5" stroke="#000" stroke-width="1.9"/>
<text x="130.5" y="856.2" font-size="22.2" text-anchor="middle" textLength="13.7" lengthAdjust="spacingAndGlyphs">1</text>
<line x1="264.8" y1="820.8" x2="264.8" y2="829.5" stroke="#000" stroke-width="1.9"/>
<text x="264.8" y="856.2" font-size="22.2" text-anchor="middle" textLength="13.7" lengthAdjust="spacingAndGlyphs">2</text>
<line x1="399.0" y1="820.8" x2="399.0" y2="829.5" stroke="#000" stroke-width="1.9"/>
<text x="399.0" y="856.2" font-size="22.2" text-anchor="middle" textLength="13.7" lengthAdjust="spacingAndGlyphs">3</text>
<line x1="533.2" y1="820.8" x2="533.2" y2="829.5" stroke="#000" stroke-width="1.9"/>
<text x="533.2" y="856.2" font-size="22.2" text-anchor="middle" textLength="13.7" lengthAdjust="spacingAndGlyphs">4</text>
<line x1="667.5" y1="820.8" x2="667.5" y2="829.5" stroke="#000" stroke-width="1.9"/>
<text x="667.5" y="856.2" font-size="22.2" text-anchor="middle" textLength="13.7" lengthAdjust="spacingAndGlyphs">5</text>
<line x1="801.8" y1="820.8" x2="801.8" y2="829.5" stroke="#000" stroke-width="1.9"/>
<text x="801.8" y="856.2" font-size="22.2" text-anchor="middle" textLength="13.7" lengthAdjust="spacingAndGlyphs">6</text>
<line x1="936.0" y1="820.8" x2="936.0" y2="829.5" stroke="#000" stroke-width="1.9"/>
<text x="936.0" y="856.2" font-size="22.2" text-anchor="middle" textLength="13.7" lengthAdjust="spacingAndGlyphs">7</text>
<line x1="1070.2" y1="820.8" x2="1070.2" y2="829.5" stroke="#000" stroke-width="1.9"/>
<text x="1070.2" y="856.2" font-size="22.2" text-anchor="middle" textLength="13.7" lengthAdjust="spacingAndGlyphs">8</text>
<text x="666.2" y="890.1" font-size="23.5" text-anchor="middle" textLength="314.5" lengthAdjust="spacingAndGlyphs">Respiratory phase domain</text>
<text x="666.3" y="481.8" font-size="28.9" text-anchor="middle" textLength="804.3" lengthAdjust="spacingAndGlyphs">EEG and Respiratory signals (Respiratory phase domain)</text>
<text x="129.6" y="481.8" font-size="35.5" textLength="38.2" lengthAdjust="spacingAndGlyphs">B)</text>
<text x="19.6" y="205.8" font-size="23.5" text-anchor="middle" textLength="175.8" lengthAdjust="spacingAndGlyphs" transform="rotate(-90 19.6 205.8)">EEG Amplitude</text>
<text x="50.4" y="208.5" font-size="23.5" text-anchor="middle" textLength="49.4" lengthAdjust="spacingAndGlyphs" transform="rotate(-90 50.4 208.5)">(µV)</text>
<text x="19.6" y="659.9" font-size="23.5" text-anchor="middle" textLength="175.8" lengthAdjust="spacingAndGlyphs" transform="rotate(-90 19.6 659.9)">EEG Amplitude</text>
<text x="50.4" y="664.0" font-size="23.5" text-anchor="middle" textLength="49.4" lengthAdjust="spacingAndGlyphs" transform="rotate(-90 50.4 664.0)">(µV)</text>
<text x="19.6" y="1115.4" font-size="23.5" text-anchor="middle" textLength="175.8" lengthAdjust="spacingAndGlyphs" transform="rotate(-90 19.6 1115.4)">EEG Amplitude</text>
<text x="50.4" y="1118.5" font-size="23.5" text-anchor="middle" textLength="49.4" lengthAdjust="spacingAndGlyphs" transform="rotate(-90 50.4 1118.5)">(µV)</text>
<text x="1318.3" y="205.6" font-size="23.5" text-anchor="middle" textLength="183.1" lengthAdjust="spacingAndGlyphs" transform="rotate(-90 1318.3 205.6)">Resp amplitude</text>
<text x="1348.3" y="208.2" font-size="23.5" text-anchor="middle" textLength="51.6" lengthAdjust="spacingAndGlyphs" transform="rotate(-90 1348.3 208.2)">(AU)</text>
<text x="1318.3" y="659.9" font-size="23.5" text-anchor="middle" textLength="183.1" lengthAdjust="spacingAndGlyphs" transform="rotate(-90 1318.3 659.9)">Resp amplitude</text>
<text x="1348.3" y="664.0" font-size="23.5" text-anchor="middle" textLength="51.6" lengthAdjust="spacingAndGlyphs" transform="rotate(-90 1348.3 664.0)">(AU)</text>
<clipPath id="clipC"><rect x="130.5" y="951.2" width="1074.0" height="325.20000000000005"/></clipPath>
<g clip-path="url(#clipC)">
<rect x="130.5" y="951.2" width="428.8" height="325.2" fill="#cde5cc"/>
<rect x="559.3" y="951.2" width="645.2" height="325.2" fill="#fdcccc"/>
<line x1="559.3" y1="951.2" x2="559.3" y2="1276.4" stroke="#caa088" stroke-width="1.5"/>
<line x1="130.5" y1="986.2" x2="1204.5" y2="986.2" stroke="#000" stroke-width="3" stroke-dasharray="3.1 6.34"/>
<line x1="130.5" y1="1240.2" x2="1204.5" y2="1240.2" stroke="#000" stroke-width="3" stroke-dasharray="3.1 6.34"/>
<polyline fill="none" stroke="#1f77b4" stroke-width="1.7" stroke-linejoin="round" points="130.5,1115.9 132.5,1116.6 134.5,1117.6 136.5,1118.6 138.5,1119.5 140.0,1120.0 140.5,1120.3 142.5,1121.9 144.5,1123.7 146.5,1125.4 148.5,1126.8 150.5,1128.2 152.5,1129.9 154.5,1131.8 156.5,1133.2 158.5,1134.5 160.0,1136.0 160.5,1136.4 162.5,1138.7 164.5,1141.0 166.5,1143.3 168.5,1145.7 170.5,1147.9 172.5,1150.1 174.5,1152.5 176.5,1154.8 178.5,1156.7 180.5,1159.2 182.5,1161.4 184.5,1163.7 186.5,1165.8 188.5,1168.3 190.0,1170.0 190.5,1170.3 192.5,1171.7 194.5,1173.2 196.5,1174.6 198.5,1176.0 200.5,1177.7 202.5,1178.9 204.5,1180.7 206.5,1182.1 208.5,1183.1 210.5,1184.9 212.5,1186.2 214.5,1187.8 215.9,1188.8 216.5,1188.8 218.5,1190.1 220.5,1191.1 222.5,1192.2 224.5,1192.9 226.5,1194.2 228.5,1194.9 229.9,1195.8 230.5,1196.3 232.5,1198.6 234.5,1200.5 236.5,1202.8 238.5,1204.6 240.5,1206.6 241.8,1207.9 242.5,1208.1 244.5,1209.3 246.5,1210.6 248.5,1211.5 250.5,1212.7 252.5,1213.7 254.5,1214.9 256.5,1215.9 258.5,1217.1 259.8,1217.8 260.5,1218.0 262.5,1218.3 264.5,1219.1 266.5,1219.3 268.5,1219.8 270.5,1220.3 272.5,1221.1 274.5,1221.4 276.5,1221.8 278.5,1222.3 279.8,1222.9 280.5,1222.5 282.5,1221.9 284.5,1221.7 286.5,1220.9 288.5,1220.6 290.5,1220.1 292.5,1219.6 294.5,1219.1 295.8,1219.0 296.5,1218.8 298.5,1218.8 300.5,1218.9 302.5,1219.3 304.5,1219.4 306.5,1219.6 308.5,1219.6 309.7,1219.7 310.5,1219.5 312.5,1219.2 314.5,1218.9 316.5,1218.4 318.5,1218.1 320.5,1217.9 322.5,1217.3 324.5,1216.6 326.5,1216.7 328.5,1216.1 329.7,1215.7 330.5,1216.0 332.5,1216.1 334.5,1216.2 336.5,1216.4 338.5,1216.5 340.5,1216.9 342.5,1217.2 344.5,1217.2 346.5,1217.5 348.5,1218.0 349.7,1217.6 350.5,1217.7 352.5,1217.2 354.5,1216.7 356.5,1216.3 358.5,1216.0 360.5,1215.7 362.5,1215.2 364.5,1214.8 366.5,1214.5 368.5,1214.1 369.7,1213.9 370.5,1213.5 372.5,1212.7 374.5,1212.0 376.5,1211.0 378.5,1210.0 380.5,1209.2 382.5,1208.1 383.6,1207.7 384.5,1207.7 386.5,1207.2 388.5,1206.8 390.5,1206.1 392.5,1205.4 394.5,1205.4 396.5,1204.7 398.5,1203.9 399.6,1204.0 400.5,1204.1 402.5,1204.4 404.5,1205.3 406.0,1205.7 406.5,1205.7 408.5,1203.8 410.5,1202.4 412.5,1200.9 414.0,1199.7 414.5,1199.6 416.5,1199.7 418.5,1199.8 420.5,1199.6 422.5,1199.3 424.5,1199.2 426.5,1199.3 428.5,1199.1 430.5,1199.0 432.5,1198.8 434.5,1199.2 436.5,1199.0 437.9,1198.7 438.5,1198.7 440.5,1197.9 442.5,1196.5 444.5,1196.0 446.5,1195.2 448.5,1194.5 450.0,1193.8 450.5,1193.6 452.5,1192.8 454.5,1192.4 456.5,1191.7 458.5,1190.5 460.5,1189.7 462.5,1189.5 464.5,1188.2 465.9,1187.7 466.5,1187.5 468.5,1186.8 470.5,1186.0 472.5,1185.0 474.5,1184.0 476.5,1183.3 478.5,1182.4 479.9,1182.1 480.5,1181.6 482.5,1180.6 484.5,1179.8 486.5,1179.4 488.5,1178.3 490.5,1177.2 492.5,1176.6 494.5,1175.9 496.5,1175.3 498.5,1174.2 499.8,1173.9 500.5,1173.8 502.5,1173.2 504.5,1172.8 506.5,1172.7 508.5,1172.3 509.8,1171.9 510.5,1171.3 512.5,1169.8 514.5,1168.1 516.5,1166.5 518.5,1164.8 519.8,1163.9 520.5,1163.0 522.5,1160.8 524.5,1157.8 526.5,1155.5 528.5,1152.9 530.5,1150.1 532.5,1147.7 533.8,1145.6 534.5,1145.0 536.5,1142.4 538.5,1139.3 540.5,1136.8 542.5,1134.5 544.5,1131.6 545.8,1129.7 546.5,1129.0 548.5,1126.5 550.5,1124.2 552.5,1121.7 554.5,1119.2 556.5,1116.6 558.5,1114.3 558.8,1114.1 560.5,1110.5 562.5,1106.6 564.5,1102.4 566.5,1098.2 568.5,1094.3 569.7,1092.1 570.5,1091.2 572.5,1089.1 574.5,1087.0 576.5,1085.2 578.5,1083.1 579.7,1081.9 580.5,1081.5 582.5,1080.4 584.5,1079.2 586.5,1078.1 588.5,1076.9 590.5,1075.7 592.5,1074.4 594.5,1073.1 596.5,1071.9 598.5,1070.8 599.7,1070.0 600.5,1069.8 602.5,1069.1 604.5,1068.0 606.5,1067.0 608.5,1066.7 610.5,1065.7 612.5,1065.0 614.5,1063.9 616.5,1063.5 618.5,1062.6 619.7,1062.0 620.5,1062.0 622.5,1062.1 624.5,1062.1 626.5,1062.1 628.5,1062.0 630.5,1062.4 632.5,1062.3 634.5,1062.3 636.5,1062.3 638.5,1062.0 639.7,1062.5 640.5,1062.3 642.5,1062.0 644.5,1061.8 646.5,1061.4 648.5,1061.5 650.5,1061.0 652.5,1060.7 654.5,1060.5 656.5,1060.4 658.5,1060.2 659.6,1059.9 660.5,1059.7 662.5,1059.8 664.5,1059.2 666.5,1059.3 668.5,1058.9 670.5,1058.5 672.5,1058.3 674.5,1058.2 676.0,1058.0 676.5,1057.8 678.5,1057.8 680.5,1057.9 682.5,1057.3 684.5,1057.0 686.5,1056.9 688.5,1056.7 690.5,1056.6 692.5,1056.5 694.5,1056.2 695.9,1056.4 696.5,1056.2 698.5,1057.4 700.5,1058.9 702.5,1059.8 704.5,1060.7 706.5,1061.7 707.9,1062.6 708.5,1062.5 710.5,1062.6 712.5,1062.7 714.5,1063.1 716.5,1063.2 718.5,1063.4 720.5,1063.7 722.5,1064.0 724.5,1064.2 726.5,1064.6 728.5,1064.5 729.9,1064.9 730.5,1065.2 732.5,1065.0 734.5,1065.2 736.5,1065.3 738.5,1065.4 740.5,1065.4 742.5,1065.1 744.5,1065.3 746.5,1065.4 748.5,1065.3 750.5,1065.5 752.5,1065.5 754.5,1065.5 756.5,1065.8 758.5,1065.8 759.8,1065.8 760.5,1065.8 762.5,1066.1 764.5,1066.3 766.5,1066.5 768.5,1066.8 770.5,1066.9 772.5,1067.2 774.5,1067.4 776.5,1067.6 778.5,1067.7 779.8,1067.8 780.5,1068.2 782.5,1068.7 784.5,1069.3 786.5,1069.5 788.5,1070.1 789.8,1071.0 790.5,1071.0 792.5,1071.5 794.5,1071.6 796.5,1071.8 798.5,1072.1 800.5,1072.1 802.5,1072.7 804.5,1072.8 806.5,1073.2 808.5,1073.4 810.5,1073.7 812.5,1074.1 814.5,1074.1 816.5,1074.4 818.5,1074.6 819.8,1074.8 820.5,1075.3 822.5,1075.3 824.5,1075.8 826.5,1076.1 828.5,1076.4 830.5,1076.7 832.5,1076.7 834.5,1077.2 836.5,1077.7 838.5,1077.7 840.5,1078.1 841.7,1078.2 842.5,1078.3 844.5,1078.1 846.5,1078.5 848.5,1078.1 850.5,1077.9 852.5,1078.4 854.5,1078.3 856.5,1078.2 858.5,1078.1 860.5,1078.0 862.5,1078.0 864.5,1078.1 866.5,1078.1 868.5,1078.1 869.7,1077.9 870.5,1078.2 872.5,1079.1 874.5,1080.2 876.5,1081.1 878.5,1081.7 879.7,1082.2 880.5,1082.5 882.5,1082.4 884.5,1082.4 886.5,1082.1 888.5,1082.2 890.5,1082.2 892.5,1082.3 894.5,1082.0 896.5,1082.5 898.5,1082.3 899.7,1082.4 900.5,1082.3 902.5,1082.7 904.5,1083.3 906.5,1083.2 908.5,1083.8 910.5,1084.1 912.5,1084.3 914.5,1084.8 916.5,1085.0 918.5,1085.5 919.6,1085.6 920.5,1085.4 922.5,1085.4 924.5,1084.9 926.5,1084.7 927.8,1084.1 928.5,1084.6 930.5,1086.0 932.5,1087.1 934.5,1088.1 936.5,1089.4 938.5,1090.3 940.5,1091.6 942.5,1092.6 943.3,1093.3 944.5,1093.1 946.5,1093.1 948.5,1093.2 950.5,1093.5 952.5,1093.0 954.4,1093.1 954.5,1093.4 956.5,1093.9 958.5,1095.0 960.5,1095.5 962.5,1096.2 963.3,1096.6 964.5,1096.8 966.5,1096.7 968.5,1096.8 970.5,1096.8 972.5,1096.6 974.5,1096.8 976.5,1097.2 978.5,1097.2 980.5,1097.2 982.5,1097.3 984.5,1097.2 986.5,1097.4 988.5,1097.3 990.5,1097.6 992.1,1097.5 992.5,1097.6 994.5,1098.0 996.5,1098.2 998.5,1098.7 1000.5,1099.0 1002.5,1099.2 1004.5,1099.7 1006.5,1099.6 1008.5,1099.9 1010.5,1100.5 1012.5,1100.9 1014.5,1101.3 1016.5,1101.4 1018.5,1101.8 1020.5,1101.8 1020.9,1102.1 1022.5,1102.4 1024.5,1102.4 1026.5,1102.8 1028.5,1103.3 1030.5,1103.7 1032.5,1103.5 1034.5,1104.3 1036.5,1104.7 1038.5,1104.9 1040.5,1105.3 1042.5,1105.7 1044.5,1105.8 1046.5,1106.4 1048.5,1106.6 1050.5,1106.8 1052.5,1107.3 1054.2,1107.8 1054.5,1107.4 1056.5,1107.4 1058.5,1107.5 1060.5,1108.1 1062.5,1107.8 1064.5,1107.9 1066.5,1107.9 1068.5,1107.9 1070.5,1107.8 1072.5,1108.2 1074.5,1108.3 1076.5,1108.0 1078.5,1108.2 1080.5,1108.4 1082.5,1108.5 1084.5,1108.6 1086.5,1108.8 1087.5,1108.9 1088.5,1109.1 1090.5,1109.6 1092.5,1109.7 1094.5,1110.3 1096.5,1111.1 1098.5,1111.4 1098.6,1111.4 1100.5,1111.2 1102.5,1111.2 1104.5,1111.7 1106.5,1111.7 1108.5,1111.6 1110.5,1111.7 1112.5,1111.5 1114.5,1111.9 1116.5,1112.0 1118.5,1112.2 1120.5,1112.0 1120.8,1112.0 1122.5,1111.9 1124.5,1112.3 1126.5,1112.4 1128.5,1112.2 1130.5,1112.4 1132.5,1112.4 1134.5,1112.4 1136.5,1112.1 1138.5,1112.5 1140.5,1112.7 1142.5,1112.5 1144.5,1112.7 1146.5,1112.4 1148.5,1113.1 1150.5,1113.1 1152.5,1113.1 1154.1,1113.1 1154.5,1113.0 1156.5,1113.2 1158.5,1113.3 1160.5,1113.4 1162.5,1113.5 1164.5,1113.6 1166.5,1113.9 1168.5,1113.6 1170.5,1114.0 1172.5,1113.9 1174.5,1113.9 1176.3,1113.8 1176.5,1114.3 1178.5,1113.9 1180.5,1113.8 1182.5,1113.9 1184.5,1113.5 1186.5,1113.6 1188.5,1113.4 1190.5,1113.4 1192.5,1113.3 1194.0,1113.0 1194.5,1113.4 1196.5,1114.0 1198.5,1114.7 1200.5,1115.4 1202.5,1116.3 1203.5,1116.3"/>
<polyline fill="none" stroke="#000" stroke-width="1.9" stroke-linejoin="round" points="130.5,1130.5 131.0,1133.5 131.5,1119.8 132.0,1128.3 132.5,1132.7 133.0,1134.5 133.5,1133.0 134.0,1136.6 134.5,1133.5 135.0,1135.2 135.5,1134.8 136.0,1131.5 136.5,1136.0 137.0,1143.8 137.5,1144.3 138.0,1154.2 138.5,1156.8 139.0,1160.9 139.5,1157.4 140.0,1164.6 140.5,1156.0 141.0,1155.3 141.5,1157.3 142.0,1156.9 142.5,1149.7 143.0,1148.3 143.5,1154.2 144.0,1149.2 144.5,1155.0 145.0,1151.3 145.5,1151.5 146.0,1151.7 146.5,1154.5 147.0,1151.5 147.5,1156.1 148.0,1151.3 148.5,1152.8 149.0,1151.8 149.5,1156.5 150.0,1155.1 150.5,1151.2 151.0,1159.6 151.5,1150.8 152.0,1150.6 152.5,1151.3 153.0,1154.8 153.5,1147.5 154.0,1149.3 154.5,1146.3 155.0,1140.2 155.5,1148.1 156.0,1149.4 156.5,1145.7 157.0,1146.9 157.5,1142.5 158.0,1143.0 158.5,1147.2 159.0,1151.1 159.5,1148.0 160.0,1151.0 160.5,1153.0 161.0,1149.9 161.5,1151.3 162.0,1154.0 162.5,1144.9 163.0,1151.3 163.5,1142.4 164.0,1149.8 164.5,1148.9 165.0,1146.2 165.5,1144.8 166.0,1148.6 166.5,1147.8 167.0,1149.9 167.5,1147.0 168.0,1152.2 168.5,1147.4 169.0,1150.2 169.5,1150.3 170.0,1156.2 170.5,1146.9 171.0,1150.2 171.5,1155.3 172.0,1149.0 172.5,1146.9 173.0,1151.7 173.5,1149.6 174.0,1153.2 174.5,1147.2 175.0,1150.6 175.5,1153.0 176.0,1155.0 176.5,1148.7 177.0,1157.9 177.5,1151.0 178.0,1149.8 178.5,1152.4 179.0,1156.9 179.5,1156.1 180.0,1159.5 180.5,1160.0 181.0,1159.8 181.5,1158.4 182.0,1165.6 182.5,1152.7 183.0,1154.7 183.5,1159.1 184.0,1157.1 184.5,1153.2 185.0,1159.4 185.5,1159.8 186.0,1154.5 186.5,1165.7 187.0,1167.5 187.5,1167.6 188.0,1162.1 188.5,1164.6 189.0,1160.7 189.5,1165.4 190.0,1162.8 190.5,1166.7 191.0,1164.5 191.5,1169.3 192.0,1168.9 192.5,1170.6 193.0,1161.5 193.5,1161.1 194.0,1168.7 194.5,1165.8 195.0,1169.3 195.5,1169.4 196.0,1169.4 196.5,1172.2 197.0,1171.4 197.5,1171.6 198.0,1167.5 198.5,1176.5 199.0,1171.6 199.5,1175.3 200.0,1173.1 200.5,1176.6 201.0,1173.3 201.5,1173.9 202.0,1174.1 202.5,1171.7 203.0,1172.5 203.5,1174.3 204.0,1174.8 204.5,1172.4 205.0,1183.8 205.5,1173.2 206.0,1175.8 206.5,1185.3 207.0,1175.4 207.5,1180.5 208.0,1180.6 208.5,1178.1 209.0,1174.5 209.5,1174.5 210.0,1180.0 210.5,1182.1 211.0,1174.4 211.5,1182.7 212.0,1180.8 212.5,1186.7 213.0,1185.1 213.5,1182.6 214.0,1184.6 214.5,1186.9 215.0,1191.9 215.5,1198.3 215.9,1190.0 216.0,1189.3 216.5,1191.4 217.0,1189.3 217.5,1191.7 218.0,1191.1 218.5,1190.0 219.0,1187.6 219.5,1190.9 220.0,1193.5 220.5,1191.0 221.0,1195.9 221.5,1194.2 222.0,1190.8 222.5,1197.2 223.0,1187.9 223.5,1195.7 224.0,1198.1 224.5,1191.3 225.0,1192.0 225.5,1195.4 226.0,1197.1 226.5,1193.8 227.0,1193.1 227.5,1195.4 228.0,1193.2 228.5,1188.3 229.0,1191.7 229.5,1192.2 230.0,1187.3 230.5,1193.6 231.0,1189.8 231.5,1194.7 232.0,1187.3 232.5,1189.2 233.0,1187.4 233.5,1196.4 233.9,1196.4 234.0,1197.1 234.5,1197.4 235.0,1195.8 235.5,1196.1 236.0,1187.8 236.5,1194.8 237.0,1192.4 237.5,1193.3 238.0,1190.6 238.5,1199.2 239.0,1195.7 239.5,1190.6 240.0,1197.5 240.5,1195.8 241.0,1192.9 241.5,1195.4 242.0,1193.9 242.5,1188.9 243.0,1191.5 243.5,1198.3 244.0,1197.8 244.5,1197.7 245.0,1193.0 245.5,1195.0 246.0,1197.2 246.5,1199.4 247.0,1194.4 247.5,1193.8 248.0,1201.2 248.5,1197.8 249.0,1196.4 249.5,1195.3 249.8,1195.6 250.0,1203.0 250.5,1200.8 251.0,1196.1 251.5,1193.2 252.0,1202.7 252.5,1202.2 253.0,1200.9 253.5,1199.6 254.0,1190.4 254.5,1192.2 255.0,1198.2 255.5,1195.3 256.0,1196.9 256.5,1194.2 257.0,1193.7 257.5,1197.5 258.0,1194.2 258.5,1195.4 259.0,1196.1 259.5,1195.9 260.0,1198.8 260.5,1199.7 261.0,1190.8 261.5,1194.5 262.0,1193.4 262.5,1198.2 263.0,1192.3 263.5,1198.6 264.0,1198.4 264.5,1198.2 265.0,1193.2 265.5,1195.9 266.0,1193.1 266.5,1198.2 267.0,1200.1 267.5,1192.1 268.0,1194.5 268.5,1196.9 269.0,1195.8 269.5,1202.6 269.8,1197.3 270.0,1198.7 270.5,1194.3 271.0,1203.1 271.5,1198.7 272.0,1200.8 272.5,1198.7 273.0,1191.5 273.5,1193.3 274.0,1194.4 274.5,1200.4 275.0,1197.2 275.5,1200.4 276.0,1200.1 276.5,1200.1 277.0,1202.4 277.5,1200.1 278.0,1194.1 278.5,1197.4 279.0,1205.3 279.5,1196.3 280.0,1204.5 280.5,1205.4 281.0,1198.0 281.5,1201.1 282.0,1195.3 282.5,1202.5 283.0,1197.4 283.5,1195.6 284.0,1198.6 284.5,1198.4 285.0,1198.0 285.5,1200.5 286.0,1199.3 286.5,1197.7 287.0,1203.0 287.5,1207.8 288.0,1200.1 288.5,1197.5 289.0,1196.5 289.5,1201.8 289.8,1199.0 290.0,1200.0 290.5,1193.7 291.0,1196.9 291.5,1197.2 292.0,1204.5 292.5,1200.9 293.0,1193.9 293.5,1204.1 294.0,1206.6 294.5,1207.5 295.0,1194.3 295.5,1204.4 296.0,1207.0 296.5,1206.6 297.0,1204.2 297.5,1199.7 298.0,1204.8 298.5,1205.8 299.0,1209.3 299.5,1210.2 300.0,1207.9 300.5,1212.1 301.0,1206.4 301.5,1208.3 302.0,1211.0 302.5,1213.6 303.0,1211.3 303.5,1217.0 304.0,1214.9 304.5,1211.1 305.0,1215.1 305.5,1212.5 305.8,1212.6 306.0,1210.7 306.5,1219.2 307.0,1216.7 307.5,1207.6 308.0,1215.6 308.5,1214.3 309.0,1209.0 309.5,1211.0 310.0,1215.9 310.5,1208.6 311.0,1208.1 311.5,1209.6 312.0,1201.6 312.5,1200.2 313.0,1199.2 313.5,1203.0 314.0,1205.5 314.5,1199.2 315.0,1196.9 315.5,1201.5 316.0,1199.1 316.5,1201.7 317.0,1198.7 317.5,1197.9 318.0,1197.7 318.5,1197.5 319.0,1193.6 319.5,1192.5 319.7,1201.2 320.0,1206.4 320.5,1200.4 321.0,1191.7 321.5,1197.7 322.0,1201.9 322.5,1193.1 323.0,1197.3 323.5,1198.0 324.0,1196.8 324.5,1197.5 325.0,1204.1 325.5,1199.7 326.0,1200.9 326.5,1207.7 327.0,1199.7 327.5,1196.6 328.0,1205.5 328.5,1210.5 329.0,1205.0 329.5,1205.8 330.0,1200.9 330.5,1202.3 331.0,1210.5 331.5,1210.1 332.0,1208.1 332.5,1204.3 333.0,1202.7 333.5,1203.4 334.0,1203.3 334.5,1209.4 335.0,1205.0 335.5,1206.2 336.0,1210.4 336.5,1210.5 337.0,1208.7 337.5,1210.4 338.0,1209.0 338.5,1202.9 339.0,1209.2 339.5,1208.3 339.7,1208.6 340.0,1210.2 340.5,1206.8 341.0,1212.0 341.5,1206.7 342.0,1207.1 342.5,1207.0 343.0,1204.6 343.5,1206.6 344.0,1206.3 344.5,1205.2 345.0,1200.0 345.5,1198.7 346.0,1198.9 346.5,1200.3 347.0,1193.3 347.5,1196.0 348.0,1194.3 348.5,1195.2 349.0,1193.7 349.5,1198.7 349.7,1197.2 350.0,1198.7 350.5,1192.0 351.0,1192.4 351.5,1193.7 352.0,1199.9 352.5,1199.7 353.0,1191.8 353.5,1195.7 354.0,1200.4 354.5,1189.7 355.0,1192.1 355.5,1196.8 356.0,1194.6 356.5,1188.7 357.0,1196.7 357.5,1194.6 358.0,1193.4 358.5,1186.7 359.0,1190.0 359.5,1194.6 360.0,1191.6 360.5,1191.9 361.0,1187.7 361.5,1192.8 362.0,1186.3 362.5,1189.4 363.0,1186.7 363.5,1181.7 364.0,1189.1 364.5,1179.3 365.0,1180.3 365.5,1182.5 366.0,1176.6 366.5,1174.6 367.0,1179.4 367.5,1177.7 368.0,1177.4 368.5,1179.3 369.0,1184.4 369.5,1174.8 369.7,1184.0 370.0,1176.9 370.5,1176.2 371.0,1167.9 371.5,1172.2 372.0,1178.5 372.5,1179.8 373.0,1175.6 373.5,1179.7 374.0,1182.1 374.5,1177.6 375.0,1174.5 375.5,1177.1 376.0,1179.7 376.5,1182.1 377.0,1184.1 377.5,1178.9 378.0,1182.5 378.5,1181.9 379.0,1183.3 379.5,1187.2 379.7,1188.1 380.0,1184.2 380.5,1187.1 381.0,1190.1 381.5,1194.0 382.0,1197.7 382.5,1201.8 383.0,1204.0 383.5,1205.5 383.6,1205.8 384.0,1209.6 384.5,1217.2 385.0,1210.7 385.5,1210.6 386.0,1209.3 386.5,1207.3 387.0,1214.2 387.5,1206.2 388.0,1203.7 388.5,1202.5 389.0,1206.9 389.5,1202.7 390.0,1202.8 390.5,1202.3 391.0,1200.3 391.5,1204.7 392.0,1198.1 392.5,1210.7 393.0,1193.6 393.5,1197.6 394.0,1201.9 394.5,1202.6 395.0,1199.6 395.5,1201.2 396.0,1200.3 396.5,1199.7 397.0,1200.7 397.5,1199.1 398.0,1197.4 398.5,1196.8 399.0,1199.7 399.5,1195.7 400.0,1197.7 400.5,1204.2 401.0,1203.4 401.5,1209.3 402.0,1207.1 402.5,1212.6 403.0,1216.5 403.5,1218.8 404.0,1222.7 404.5,1229.0 405.0,1226.5 405.5,1228.4 406.0,1234.9 406.5,1227.3 407.0,1230.3 407.5,1232.5 408.0,1226.8 408.5,1226.9 409.0,1224.6 409.5,1225.5 410.0,1221.5 410.5,1219.5 411.0,1206.8 411.5,1215.1 412.0,1218.1 412.5,1214.3 413.0,1211.3 413.5,1215.7 414.0,1208.8 414.5,1209.6 415.0,1212.0 415.5,1207.0 416.0,1208.3 416.5,1206.6 417.0,1201.7 417.5,1202.9 418.0,1202.4 418.5,1200.5 419.0,1205.2 419.5,1200.5 420.0,1197.5 420.5,1194.0 421.0,1196.5 421.5,1200.9 422.0,1194.6 422.5,1199.5 423.0,1199.9 423.5,1198.1 424.0,1198.0 424.5,1204.4 425.0,1198.4 425.5,1207.3 426.0,1202.9 426.5,1211.0 427.0,1208.3 427.5,1210.7 428.0,1215.9 428.5,1210.5 429.0,1215.4 429.5,1215.6 430.0,1219.7 430.5,1221.8 431.0,1221.8 431.5,1222.9 432.0,1222.3 432.5,1224.5 433.0,1220.5 433.5,1220.6 434.0,1219.6 434.5,1213.3 435.0,1212.9 435.5,1216.2 436.0,1214.3 436.5,1217.3 437.0,1204.0 437.5,1211.5 438.0,1213.3 438.5,1208.8 439.0,1209.9 439.5,1206.3 440.0,1204.8 440.5,1206.8 441.0,1198.4 441.5,1194.2 442.0,1201.9 442.5,1199.6 443.0,1198.4 443.5,1197.8 444.0,1197.8 444.5,1194.5 445.0,1197.9 445.5,1197.7 446.0,1193.3 446.5,1196.9 447.0,1198.6 447.5,1195.5 448.0,1201.8 448.5,1197.7 449.0,1201.7 449.5,1204.2 450.0,1194.9 450.5,1194.9 451.0,1200.7 451.5,1197.6 452.0,1199.4 452.5,1202.9 453.0,1195.1 453.5,1199.1 454.0,1194.9 454.5,1193.1 455.0,1196.3 455.5,1195.1 456.0,1197.3 456.5,1194.2 457.0,1195.6 457.5,1193.9 458.0,1186.1 458.5,1190.0 459.0,1189.7 459.5,1193.1 460.0,1186.3 460.5,1189.8 461.0,1187.4 461.5,1182.2 461.9,1187.3 462.0,1189.8 462.5,1186.3 463.0,1190.3 463.5,1188.3 464.0,1187.8 464.5,1184.8 465.0,1185.7 465.5,1187.5 466.0,1185.8 466.5,1181.5 467.0,1184.7 467.5,1186.3 468.0,1188.5 468.5,1187.3 469.0,1181.0 469.5,1186.3 469.9,1178.5 470.0,1182.1 470.5,1183.7 471.0,1193.6 471.5,1193.0 472.0,1193.9 472.5,1193.0 473.0,1201.3 473.5,1198.6 474.0,1203.1 474.5,1207.4 475.0,1204.9 475.5,1209.9 475.9,1203.3 476.0,1212.0 476.5,1205.9 477.0,1214.2 477.5,1215.2 478.0,1217.2 478.5,1224.6 479.0,1210.2 479.5,1221.3 480.0,1219.8 480.5,1225.0 481.0,1224.9 481.5,1225.6 482.0,1225.0 482.5,1225.7 483.0,1230.6 483.5,1225.8 483.9,1235.4 484.0,1229.0 484.5,1227.4 485.0,1217.0 485.5,1217.4 486.0,1210.1 486.5,1208.4 487.0,1204.9 487.5,1194.1 487.9,1192.2 488.0,1193.1 488.5,1199.0 489.0,1191.8 489.5,1200.0 490.0,1199.9 490.5,1197.9 491.0,1202.7 491.5,1203.5 492.0,1211.3 492.5,1206.5 493.0,1214.8 493.5,1211.9 494.0,1217.6 494.5,1211.6 495.0,1216.7 495.5,1221.6 496.0,1220.0 496.5,1219.8 497.0,1226.9 497.5,1231.4 497.8,1230.0 498.0,1229.5 498.5,1232.3 499.0,1230.3 499.5,1235.5 500.0,1236.9 500.5,1229.8 501.0,1238.2 501.5,1237.7 501.8,1236.9 502.0,1237.3 502.5,1237.5 503.0,1236.9 503.5,1233.6 504.0,1225.3 504.5,1228.2 505.0,1216.1 505.5,1222.3 506.0,1219.4 506.5,1218.1 507.0,1209.6 507.5,1215.1 508.0,1212.3 508.5,1206.5 509.0,1198.9 509.5,1202.4 509.8,1197.2 510.0,1195.3 510.5,1199.4 511.0,1210.7 511.5,1199.4 512.0,1204.3 512.5,1207.3 513.0,1211.0 513.5,1205.9 514.0,1207.1 514.5,1214.5 515.0,1213.7 515.5,1218.2 516.0,1211.5 516.5,1216.2 517.0,1220.9 517.5,1219.5 517.8,1216.1 518.0,1219.7 518.5,1211.8 519.0,1214.3 519.5,1218.1 520.0,1217.2 520.5,1214.3 521.0,1214.0 521.5,1205.5 522.0,1207.1 522.5,1211.4 523.0,1214.3 523.5,1207.0 524.0,1201.2 524.5,1199.8 525.0,1205.7 525.5,1204.1 526.0,1195.3 526.5,1198.5 527.0,1201.3 527.5,1200.1 528.0,1192.5 528.5,1192.4 529.0,1193.3 529.5,1186.9 529.8,1184.4 530.0,1189.0 530.5,1199.0 531.0,1202.3 531.5,1204.1 532.0,1202.4 532.5,1203.5 533.0,1210.3 533.5,1217.6 533.8,1223.1 534.0,1216.4 534.5,1218.7 535.0,1211.7 535.5,1209.8 536.0,1215.9 536.5,1211.1 537.0,1210.8 537.5,1205.9 538.0,1215.2 538.5,1205.7 539.0,1210.9 539.5,1205.0 540.0,1207.8 540.5,1212.6 541.0,1208.2 541.5,1206.9 542.0,1208.6 542.5,1206.6 543.0,1208.6 543.5,1198.4 544.0,1206.9 544.5,1201.8 545.0,1197.3 545.5,1201.9 545.8,1201.2 546.0,1200.7 546.5,1206.8 547.0,1202.9 547.5,1205.0 548.0,1211.8 548.5,1220.6 549.0,1222.0 549.5,1223.5 549.8,1223.4 550.0,1224.6 550.5,1226.4 551.0,1218.6 551.5,1216.4 552.0,1217.7 552.5,1216.3 553.0,1212.5 553.5,1214.7 554.0,1208.5 554.5,1202.6 555.0,1196.4 555.5,1205.5 556.0,1198.9 556.5,1198.5 557.0,1196.8 557.5,1197.7 558.0,1194.6 558.5,1192.3 558.8,1188.7 559.0,1188.7 559.5,1194.6 560.0,1195.2 560.5,1203.3 561.0,1209.9 561.5,1212.9 562.0,1215.2 562.5,1216.1 563.0,1220.2 563.5,1225.0 563.8,1228.5 564.0,1230.9 564.5,1229.9 565.0,1229.1 565.5,1229.4 566.0,1221.8 566.5,1223.2 567.0,1224.5 567.5,1224.2 568.0,1218.3 568.5,1217.1 569.0,1222.1 569.5,1219.4 570.0,1217.5 570.5,1214.0 571.0,1210.7 571.5,1212.6 572.0,1212.7 572.5,1212.2 573.0,1212.2 573.5,1208.7 573.7,1212.0 574.0,1207.6 574.5,1211.1 575.0,1211.5 575.5,1206.8 576.0,1209.7 576.5,1213.6 577.0,1217.1 577.5,1219.0 578.0,1223.5 578.5,1220.6 579.0,1220.9 579.5,1224.3 579.7,1219.8 580.0,1221.3 580.5,1215.4 581.0,1215.8 581.5,1210.1 582.0,1207.8 582.5,1212.3 583.0,1206.5 583.5,1207.9 584.0,1197.2 584.5,1192.8 585.0,1187.6 585.5,1186.9 585.7,1180.0 586.0,1185.6 586.5,1182.8 587.0,1179.6 587.5,1177.4 588.0,1179.7 588.5,1180.7 589.0,1181.2 589.5,1175.3 590.0,1179.8 590.5,1180.3 591.0,1185.9 591.5,1179.2 592.0,1180.3 592.5,1174.3 593.0,1176.0 593.5,1173.0 594.0,1171.9 594.5,1175.6 595.0,1172.6 595.5,1177.5 596.0,1171.9 596.5,1172.8 597.0,1166.7 597.5,1166.7 597.7,1171.9 598.0,1168.9 598.5,1177.5 599.0,1172.9 599.5,1175.0 600.0,1186.5 600.5,1176.8 601.0,1182.9 601.5,1188.6 601.7,1189.7 602.0,1182.5 602.5,1190.7 603.0,1179.5 603.5,1172.1 604.0,1178.7 604.5,1171.5 605.0,1170.7 605.5,1170.4 606.0,1162.3 606.5,1160.3 607.0,1159.7 607.5,1160.2 608.0,1150.5 608.5,1156.9 609.0,1150.8 609.5,1143.2 609.7,1146.0 610.0,1149.3 610.5,1154.1 611.0,1155.5 611.5,1159.0 612.0,1157.5 612.5,1163.0 613.0,1154.4 613.5,1169.1 614.0,1168.3 614.5,1176.3 615.0,1171.7 615.5,1174.7 616.0,1179.0 616.5,1184.2 617.0,1185.2 617.5,1190.2 617.7,1188.0 618.0,1189.1 618.5,1191.2 619.0,1182.4 619.5,1176.7 620.0,1166.2 620.5,1169.4 621.0,1167.3 621.5,1159.5 622.0,1159.8 622.5,1145.5 623.0,1146.8 623.5,1142.4 623.7,1145.7 624.0,1144.3 624.5,1148.8 625.0,1161.8 625.5,1157.1 626.0,1168.6 626.5,1175.5 627.0,1176.0 627.5,1178.9 627.7,1183.2 628.0,1180.6 628.5,1177.7 629.0,1178.9 629.5,1175.8 630.0,1184.0 630.5,1175.8 631.0,1170.0 631.5,1169.0 632.0,1170.5 632.5,1166.7 633.0,1160.8 633.5,1155.8 634.0,1162.1 634.5,1154.0 635.0,1152.6 635.5,1154.1 636.0,1148.1 636.5,1149.5 637.0,1142.1 637.5,1141.5 637.7,1139.4 638.0,1147.5 638.5,1136.8 639.0,1142.0 639.5,1140.7 640.0,1142.2 640.5,1141.4 641.0,1143.9 641.5,1151.6 642.0,1153.4 642.5,1147.5 643.0,1146.6 643.5,1150.0 644.0,1158.0 644.5,1153.4 645.0,1147.6 645.5,1158.5 645.6,1155.4 646.0,1157.9 646.5,1157.2 647.0,1151.5 647.5,1159.2 648.0,1158.0 648.5,1153.5 649.0,1148.3 649.5,1151.9 650.0,1152.0 650.5,1159.2 651.0,1156.3 651.5,1158.0 652.0,1160.8 652.5,1160.4 653.0,1164.4 653.5,1165.4 654.0,1168.7 654.5,1156.6 655.0,1156.8 655.5,1149.8 656.0,1152.6 656.5,1145.5 657.0,1134.4 657.5,1133.9 658.0,1119.9 658.5,1124.0 659.0,1128.4 659.5,1131.9 660.0,1129.1 660.5,1134.6 661.0,1140.4 661.5,1132.7 662.0,1135.3 662.5,1135.2 663.0,1147.0 663.5,1141.4 664.0,1145.4 664.5,1145.5 665.0,1149.9 665.5,1150.9 666.0,1154.3 666.5,1151.4 667.0,1153.3 667.5,1142.1 668.0,1142.9 668.5,1139.3 669.0,1133.7 669.5,1136.6 670.0,1137.0 670.5,1124.5 671.0,1133.4 671.5,1122.0 672.0,1119.4 672.5,1110.0 673.0,1117.8 673.5,1116.2 674.0,1114.8 674.5,1116.8 675.0,1113.0 675.5,1113.8 676.0,1109.5 676.5,1106.9 677.0,1110.0 677.5,1110.5 678.0,1109.9 678.5,1109.2 679.0,1107.6 679.5,1111.4 680.0,1111.6 680.5,1109.5 681.0,1115.9 681.5,1115.4 682.0,1113.6 682.5,1117.4 683.0,1121.6 683.5,1125.8 684.0,1116.0 684.5,1122.0 685.0,1126.3 685.5,1129.5 686.0,1128.1 686.5,1124.7 687.0,1127.6 687.5,1130.3 688.0,1129.0 688.5,1126.3 689.0,1123.7 689.5,1134.6 690.0,1124.4 690.5,1121.7 691.0,1122.9 691.5,1119.0 692.0,1116.5 692.5,1115.9 693.0,1110.8 693.5,1110.2 694.0,1112.7 694.5,1113.4 695.0,1109.4 695.5,1119.6 696.0,1115.0 696.5,1112.7 697.0,1122.0 697.5,1123.4 698.0,1124.0 698.5,1121.3 699.0,1130.2 699.5,1129.6 700.0,1130.7 700.5,1131.9 701.0,1134.1 701.5,1141.8 701.9,1134.2 702.0,1136.2 702.5,1136.0 703.0,1131.9 703.5,1123.7 704.0,1122.9 704.5,1119.0 705.0,1112.5 705.5,1113.7 706.0,1114.5 706.5,1109.2 707.0,1109.0 707.5,1103.8 707.9,1097.6 708.0,1101.9 708.5,1095.7 709.0,1106.8 709.5,1102.6 710.0,1110.6 710.5,1101.8 711.0,1104.4 711.5,1107.4 712.0,1109.2 712.5,1106.1 713.0,1108.3 713.5,1115.4 714.0,1112.3 714.5,1119.1 715.0,1122.9 715.5,1113.9 715.9,1118.5 716.0,1125.2 716.5,1121.8 717.0,1112.4 717.5,1116.8 718.0,1119.7 718.5,1105.7 719.0,1112.7 719.5,1113.8 720.0,1107.2 720.5,1105.4 721.0,1108.7 721.5,1099.6 721.9,1105.7 722.0,1107.0 722.5,1098.9 723.0,1089.0 723.5,1095.0 724.0,1085.3 724.5,1082.9 725.0,1073.7 725.5,1071.9 726.0,1071.5 726.5,1058.4 726.9,1055.5 727.0,1053.5 727.5,1064.6 728.0,1067.3 728.5,1065.7 729.0,1072.4 729.5,1074.0 730.0,1083.1 730.5,1075.4 731.0,1082.9 731.5,1083.3 732.0,1093.6 732.5,1091.7 733.0,1088.9 733.5,1097.0 733.9,1097.2 734.0,1094.2 734.5,1096.8 735.0,1094.1 735.5,1087.8 736.0,1088.3 736.5,1091.8 737.0,1089.4 737.5,1083.8 738.0,1081.2 738.5,1081.4 739.0,1078.3 739.5,1072.8 740.0,1077.0 740.5,1070.4 741.0,1076.0 741.5,1071.2 741.9,1070.2 742.0,1066.7 742.5,1068.0 743.0,1065.1 743.5,1065.4 744.0,1063.0 744.5,1070.8 745.0,1062.0 745.5,1071.1 746.0,1067.6 746.5,1061.8 747.0,1068.8 747.5,1065.5 747.9,1061.2 748.0,1064.9 748.5,1063.7 749.0,1063.0 749.5,1066.1 750.0,1068.0 750.5,1066.7 751.0,1068.5 751.5,1072.0 752.0,1069.7 752.5,1069.6 753.0,1067.3 753.5,1072.2 754.0,1071.6 754.5,1073.2 755.0,1077.3 755.5,1078.3 756.0,1076.3 756.5,1075.0 757.0,1078.2 757.5,1079.5 758.0,1080.0 758.5,1075.3 759.0,1081.8 759.5,1078.1 759.8,1083.0 760.0,1082.7 760.5,1080.3 761.0,1082.3 761.5,1076.8 762.0,1076.4 762.5,1070.9 763.0,1072.0 763.5,1070.1 764.0,1069.5 764.5,1067.2 765.0,1058.5 765.5,1067.5 766.0,1065.6 766.5,1054.9 767.0,1061.2 767.5,1062.1 768.0,1059.7 768.5,1058.2 769.0,1053.7 769.5,1051.1 769.8,1058.2 770.0,1053.8 770.5,1058.7 771.0,1054.1 771.5,1058.4 772.0,1059.1 772.5,1060.0 773.0,1054.4 773.5,1067.2 774.0,1061.4 774.5,1060.3 775.0,1063.4 775.5,1057.6 776.0,1069.0 776.5,1064.2 777.0,1067.4 777.5,1068.0 777.8,1062.3 778.0,1065.8 778.5,1068.0 779.0,1058.3 779.5,1058.7 780.0,1058.2 780.5,1057.1 781.0,1046.2 781.5,1049.3 781.8,1046.4 782.0,1045.7 782.5,1046.6 783.0,1045.4 783.5,1039.2 784.0,1043.6 784.5,1039.5 785.0,1042.1 785.5,1039.1 786.0,1044.9 786.5,1042.6 787.0,1040.6 787.5,1036.3 788.0,1039.4 788.5,1033.9 789.0,1034.2 789.5,1031.0 789.8,1039.1 790.0,1034.2 790.5,1038.0 791.0,1037.8 791.5,1036.6 792.0,1031.0 792.5,1036.3 793.0,1034.5 793.5,1025.6 794.0,1030.1 794.5,1025.4 795.0,1026.7 795.5,1030.2 796.0,1026.4 796.5,1029.7 797.0,1025.7 797.5,1025.2 797.8,1027.7 798.0,1027.8 798.5,1030.2 799.0,1035.8 799.5,1039.0 800.0,1034.3 800.5,1039.2 801.0,1046.6 801.5,1053.6 801.8,1049.9 802.0,1046.0 802.5,1049.3 803.0,1045.5 803.5,1050.3 804.0,1035.7 804.5,1044.1 805.0,1041.6 805.5,1028.6 806.0,1032.1 806.5,1032.5 807.0,1032.6 807.5,1029.4 808.0,1029.4 808.5,1026.0 809.0,1020.7 809.5,1026.8 809.8,1021.1 810.0,1017.2 810.5,1021.2 811.0,1018.8 811.5,1017.4 812.0,1016.3 812.5,1013.1 813.0,1014.7 813.5,1013.0 814.0,1010.3 814.5,1018.0 815.0,1017.0 815.5,1014.9 816.0,1011.6 816.5,1012.2 817.0,1019.6 817.5,1011.2 818.0,1016.4 818.5,1014.4 819.0,1014.5 819.5,1010.9 819.8,1011.5 820.0,1011.2 820.5,1005.8 821.0,1011.9 821.5,1002.7 822.0,1004.0 822.5,1007.2 823.0,1004.3 823.5,995.4 823.8,997.9 824.0,1001.1 824.5,994.9 825.0,1011.7 825.5,1010.4 826.0,1011.4 826.5,1015.7 827.0,1012.3 827.5,1025.6 828.0,1032.2 828.5,1030.0 829.0,1039.6 829.5,1040.2 829.8,1035.7 830.0,1041.5 830.5,1031.9 831.0,1031.2 831.5,1038.4 832.0,1037.0 832.5,1033.7 833.0,1032.5 833.5,1026.6 834.0,1033.9 834.5,1029.4 835.0,1027.6 835.5,1039.0 836.0,1026.9 836.5,1024.8 837.0,1030.4 837.5,1023.6 837.7,1020.6 838.0,1027.0 838.5,1021.0 839.0,1018.3 839.5,1019.3 840.0,1020.1 840.5,1022.6 841.0,1023.3 841.5,1014.6 842.0,1022.2 842.5,1015.5 843.0,1015.6 843.5,1007.9 844.0,1021.5 844.5,1017.5 845.0,1014.4 845.5,1014.0 846.0,1017.4 846.5,1013.7 847.0,1003.3 847.5,1013.5 847.7,1012.3 848.0,1014.1 848.5,1016.0 849.0,1020.8 849.5,1017.6 850.0,1029.8 850.5,1024.7 851.0,1024.0 851.5,1028.8 852.0,1024.9 852.5,1032.2 853.0,1032.4 853.5,1033.7 854.0,1041.8 854.5,1042.2 855.0,1040.1 855.5,1043.4 855.7,1047.4 856.0,1052.4 856.5,1041.9 857.0,1039.3 857.5,1038.9 858.0,1030.6 858.5,1032.0 859.0,1032.2 859.5,1028.6 860.0,1026.0 860.5,1018.3 861.0,1020.0 861.5,1022.1 862.0,1023.8 862.5,1015.7 863.0,1008.1 863.5,1005.9 863.7,1005.8 864.0,1014.5 864.5,1004.6 865.0,1010.0 865.5,1006.9 866.0,1012.7 866.5,1014.7 867.0,1020.4 867.5,1021.7 868.0,1021.4 868.5,1021.4 869.0,1022.6 869.5,1031.1 869.7,1025.9 870.0,1023.0 870.5,1024.9 871.0,1028.2 871.5,1026.1 872.0,1024.1 872.5,1033.1 873.0,1028.4 873.5,1030.9 874.0,1032.3 874.5,1031.8 875.0,1032.7 875.5,1025.4 876.0,1034.8 876.5,1034.5 877.0,1034.6 877.5,1036.4 878.0,1044.6 878.5,1043.5 879.0,1041.1 879.5,1044.5 880.0,1038.5 880.5,1040.4 881.0,1042.8 881.5,1044.9 881.7,1045.0 882.0,1048.9 882.5,1043.2 883.0,1049.0 883.5,1043.3 884.0,1048.1 884.5,1043.9 885.0,1052.2 885.5,1047.1 886.0,1054.1 886.5,1044.3 887.0,1057.6 887.5,1052.3 888.0,1054.7 888.5,1055.1 889.0,1049.4 889.5,1053.9 889.7,1054.2 890.0,1054.8 890.5,1048.0 891.0,1049.1 891.5,1049.7 892.0,1051.3 892.5,1048.1 893.0,1039.8 893.5,1044.8 894.0,1045.3 894.5,1040.7 895.0,1035.1 895.5,1031.4 896.0,1031.1 896.5,1036.1 897.0,1025.5 897.5,1018.7 897.7,1029.2 898.0,1023.9 898.5,1025.8 899.0,1024.6 899.5,1029.5 900.0,1024.4 900.5,1023.2 901.0,1022.8 901.5,1031.2 902.0,1030.3 902.5,1024.0 903.0,1023.5 903.5,1024.7 904.0,1026.8 904.5,1022.1 905.0,1029.9 905.5,1025.6 906.0,1015.8 906.5,1020.9 907.0,1023.3 907.5,1032.3 907.6,1029.5 908.0,1026.0 908.5,1022.7 909.0,1027.6 909.5,1029.2 910.0,1028.9 910.5,1032.1 911.0,1035.3 911.5,1032.6 912.0,1031.7 912.5,1037.2 913.0,1032.8 913.5,1037.7 914.0,1044.4 914.5,1042.4 915.0,1039.0 915.5,1044.1 916.0,1044.6 916.5,1047.2 917.0,1051.4 917.5,1047.6 918.0,1046.5 918.5,1057.1 918.9,1050.1 919.0,1054.3 919.5,1050.4 920.0,1044.7 920.5,1044.4 921.0,1040.4 921.5,1036.6 922.0,1035.3 922.5,1027.1 923.0,1029.3 923.3,1021.4 923.5,1028.2 924.0,1031.1 924.5,1025.7 925.0,1036.7 925.5,1029.7 926.0,1033.4 926.5,1032.5 927.0,1036.0 927.5,1038.9 927.8,1037.7 928.0,1039.9 928.5,1026.5 929.0,1022.6 929.5,1010.4 930.0,1003.3 930.5,1008.6 931.0,1011.1 931.5,1010.8 932.0,1015.0 932.5,1017.3 933.0,1015.5 933.5,1019.7 934.0,1018.6 934.5,1019.0 935.0,1023.3 935.5,1026.4 936.0,1033.0 936.5,1032.7 937.0,1033.3 937.5,1027.6 938.0,1033.6 938.5,1040.2 938.8,1041.7 939.0,1038.2 939.5,1030.3 940.0,1023.9 940.5,1020.8 941.0,1023.0 941.5,1019.8 942.0,1020.5 942.5,1008.4 943.0,1007.8 943.3,1001.8 943.5,1003.9 944.0,1005.6 944.5,1004.1 945.0,1011.2 945.5,1003.5 946.0,1010.4 946.5,1007.7 947.0,1007.4 947.5,1013.1 948.0,1008.3 948.5,1011.9 949.0,1011.6 949.5,1014.5 950.0,1008.9 950.5,1014.4 951.0,1015.7 951.5,1012.6 952.0,1012.0 952.2,1012.2 952.5,1014.2 953.0,1009.5 953.5,1011.7 954.0,1007.3 954.5,1004.7 955.0,1003.2 955.5,1001.4 956.0,999.4 956.5,998.7 957.0,998.4 957.5,993.9 958.0,992.0 958.5,993.1 958.8,991.8 959.0,989.0 959.5,989.9 960.0,1002.0 960.5,1000.2 961.0,1005.1 961.5,1009.6 962.0,1015.8 962.1,1010.2 962.5,1014.9 963.0,1018.6 963.5,1021.7 964.0,1013.2 964.5,1012.6 965.0,1011.3 965.5,1004.8 966.0,1001.9 966.5,1004.7 967.0,1005.5 967.5,1000.6 968.0,999.7 968.5,996.8 968.8,995.4 969.0,994.6 969.5,1001.1 970.0,1001.4 970.5,999.4 971.0,1001.9 971.5,1004.1 972.0,1006.9 972.5,1010.8 973.0,1011.3 973.5,1006.8 974.0,1008.7 974.5,1008.2 975.0,1012.8 975.5,1015.0 976.0,1007.1 976.5,1014.0 976.6,1018.6 977.0,1011.4 977.5,1023.9 978.0,1025.3 978.5,1022.7 979.0,1023.8 979.5,1035.6 980.0,1031.4 980.5,1031.3 981.0,1038.4 981.5,1032.5 982.0,1032.6 982.5,1040.5 983.0,1032.2 983.5,1031.9 984.0,1025.8 984.5,1027.2 985.0,1032.4 985.5,1029.2 986.0,1030.1 986.5,1028.8 987.0,1025.2 987.5,1021.9 988.0,1015.0 988.5,1024.6 989.0,1020.2 989.5,1027.3 989.9,1017.4 990.0,1018.7 990.5,1023.5 991.0,1027.1 991.5,1037.3 992.0,1044.3 992.1,1045.1 992.5,1040.9 993.0,1036.0 993.5,1039.2 994.0,1035.4 994.5,1026.8 995.0,1021.5 995.5,1020.3 996.0,1017.1 996.5,1019.5 997.0,1010.0 997.5,1010.9 997.6,1005.7 998.0,1010.1 998.5,1021.0 999.0,1011.9 999.5,1017.2 1000.0,1016.1 1000.5,1023.2 1001.0,1022.4 1001.5,1023.1 1002.0,1029.6 1002.5,1029.4 1003.0,1030.6 1003.2,1025.3 1003.5,1026.5 1004.0,1034.7 1004.5,1026.5 1005.0,1036.2 1005.5,1036.7 1006.0,1031.1 1006.5,1029.5 1007.0,1028.7 1007.5,1035.9 1008.0,1035.5 1008.5,1031.6 1009.0,1031.2 1009.5,1036.7 1010.0,1033.5 1010.5,1036.0 1011.0,1031.6 1011.5,1038.4 1012.0,1038.0 1012.5,1036.5 1013.0,1034.6 1013.5,1038.8 1014.0,1040.7 1014.3,1041.2 1014.5,1040.0 1015.0,1036.5 1015.5,1040.5 1016.0,1041.5 1016.5,1035.1 1017.0,1032.3 1017.5,1040.6 1018.0,1035.8 1018.5,1028.3 1019.0,1036.6 1019.5,1033.8 1020.0,1030.3 1020.5,1032.3 1021.0,1027.8 1021.5,1027.8 1022.0,1024.6 1022.5,1033.2 1023.0,1027.0 1023.2,1029.1 1023.5,1029.0 1024.0,1018.4 1024.5,1026.7 1025.0,1021.5 1025.5,1028.4 1026.0,1019.5 1026.5,1025.4 1027.0,1027.3 1027.5,1021.9 1028.0,1023.6 1028.5,1023.8 1029.0,1019.1 1029.5,1016.9 1029.8,1012.5 1030.0,1023.9 1030.5,1022.8 1031.0,1023.3 1031.5,1017.1 1032.0,1028.1 1032.5,1024.8 1033.0,1028.2 1033.5,1030.5 1034.0,1034.7 1034.5,1031.6 1035.0,1032.0 1035.5,1037.8 1036.0,1038.4 1036.5,1037.1 1037.0,1047.7 1037.5,1046.1 1038.0,1038.8 1038.5,1038.4 1038.7,1040.0 1039.0,1043.5 1039.5,1044.2 1040.0,1046.2 1040.5,1038.9 1041.0,1034.0 1041.5,1034.4 1042.0,1031.8 1042.5,1026.4 1043.0,1027.8 1043.5,1018.9 1044.0,1021.6 1044.2,1023.5 1044.5,1022.4 1045.0,1026.9 1045.5,1030.7 1046.0,1031.1 1046.5,1033.3 1047.0,1035.3 1047.5,1034.5 1048.0,1040.4 1048.5,1040.0 1049.0,1038.0 1049.5,1046.3 1049.8,1044.3 1050.0,1033.6 1050.5,1048.1 1051.0,1041.4 1051.5,1037.4 1052.0,1041.1 1052.5,1038.6 1053.0,1036.8 1053.5,1040.4 1054.0,1037.1 1054.5,1031.2 1055.0,1028.6 1055.5,1025.4 1056.0,1029.6 1056.4,1027.5 1056.5,1031.5 1057.0,1032.8 1057.5,1038.7 1058.0,1045.0 1058.5,1043.2 1059.0,1045.9 1059.5,1053.2 1060.0,1053.2 1060.5,1061.0 1060.9,1064.1 1061.0,1069.2 1061.5,1061.8 1062.0,1065.1 1062.5,1058.3 1063.0,1057.7 1063.5,1054.6 1064.0,1054.2 1064.5,1050.8 1065.0,1047.5 1065.5,1045.3 1066.0,1050.6 1066.5,1046.6 1067.0,1049.6 1067.5,1047.5 1068.0,1040.6 1068.5,1051.3 1069.0,1044.9 1069.5,1042.4 1070.0,1045.0 1070.5,1048.3 1071.0,1043.4 1071.5,1054.1 1072.0,1052.6 1072.5,1057.1 1073.0,1057.4 1073.5,1058.4 1074.0,1061.1 1074.5,1061.6 1075.0,1056.7 1075.5,1067.6 1076.0,1062.2 1076.4,1064.9 1076.5,1067.1 1077.0,1062.4 1077.5,1063.0 1078.0,1058.8 1078.5,1066.9 1079.0,1066.9 1079.5,1063.3 1080.0,1062.1 1080.5,1056.0 1081.0,1066.1 1081.5,1061.5 1082.0,1062.9 1082.5,1063.3 1083.0,1063.3 1083.5,1064.9 1084.0,1066.4 1084.5,1065.0 1085.0,1060.9 1085.5,1064.2 1086.0,1064.0 1086.5,1061.3 1087.0,1063.6 1087.5,1067.3 1088.0,1065.2 1088.5,1062.8 1089.0,1061.5 1089.5,1051.8 1090.0,1056.9 1090.5,1059.5 1091.0,1052.0 1091.5,1050.3 1092.0,1047.3 1092.5,1049.0 1093.0,1046.3 1093.5,1041.6 1094.0,1043.4 1094.2,1042.5 1094.5,1045.5 1095.0,1048.7 1095.5,1048.0 1096.0,1054.8 1096.5,1056.3 1097.0,1059.2 1097.5,1061.2 1098.0,1065.8 1098.5,1066.6 1098.6,1065.6 1099.0,1072.9 1099.5,1065.8 1100.0,1070.8 1100.5,1072.7 1101.0,1071.3 1101.5,1069.9 1102.0,1070.7 1102.5,1066.7 1103.0,1072.9 1103.5,1069.2 1104.0,1072.1 1104.5,1069.9 1105.0,1075.8 1105.3,1072.0 1105.5,1073.6 1106.0,1079.2 1106.5,1072.7 1107.0,1075.9 1107.5,1070.7 1108.0,1077.6 1108.5,1078.2 1109.0,1078.6 1109.5,1083.8 1110.0,1087.5 1110.5,1086.3 1111.0,1087.0 1111.5,1089.0 1112.0,1084.9 1112.5,1085.3 1113.0,1089.8 1113.5,1095.3 1114.0,1089.0 1114.1,1086.3 1114.5,1092.8 1115.0,1097.8 1115.5,1098.8 1116.0,1100.0 1116.5,1100.2 1117.0,1104.9 1117.5,1103.3 1118.0,1110.4 1118.5,1112.7 1118.6,1111.5 1119.0,1114.7 1119.5,1115.4 1120.0,1104.5 1120.5,1105.7 1121.0,1102.6 1121.5,1099.6 1122.0,1100.7 1122.5,1102.9 1123.0,1104.4 1123.5,1103.4 1124.0,1093.2 1124.5,1100.4 1125.0,1096.2 1125.5,1101.2 1126.0,1095.8 1126.5,1100.9 1127.0,1102.6 1127.5,1102.4 1128.0,1095.1 1128.5,1095.7 1129.0,1093.2 1129.5,1093.5 1129.7,1098.9 1130.0,1088.3 1130.5,1093.4 1131.0,1096.8 1131.5,1096.2 1132.0,1095.4 1132.5,1103.7 1133.0,1101.3 1133.5,1101.3 1134.0,1099.6 1134.5,1104.8 1135.0,1109.5 1135.5,1107.2 1136.0,1112.7 1136.5,1109.2 1137.0,1108.8 1137.5,1112.9 1138.0,1111.1 1138.5,1110.4 1139.0,1116.2 1139.5,1116.8 1140.0,1118.3 1140.5,1105.9 1141.0,1114.3 1141.5,1112.5 1142.0,1110.1 1142.5,1110.3 1143.0,1110.2 1143.5,1108.9 1144.0,1108.2 1144.5,1104.6 1145.0,1110.3 1145.2,1104.4 1145.5,1109.1 1146.0,1106.4 1146.5,1109.5 1147.0,1111.2 1147.5,1114.4 1148.0,1120.1 1148.5,1112.8 1149.0,1123.7 1149.5,1119.4 1149.6,1128.9 1150.0,1119.3 1150.5,1123.3 1151.0,1125.3 1151.5,1118.4 1152.0,1124.0 1152.5,1124.6 1153.0,1126.1 1153.5,1124.6 1154.0,1122.2 1154.5,1119.9 1155.0,1124.6 1155.5,1125.5 1156.0,1126.0 1156.5,1130.3 1157.0,1128.3 1157.5,1122.8 1158.0,1126.0 1158.5,1132.9 1159.0,1131.7 1159.5,1130.5 1160.0,1129.3 1160.5,1134.3 1160.7,1128.5 1161.0,1128.3 1161.5,1133.2 1162.0,1122.8 1162.5,1131.6 1163.0,1125.6 1163.5,1127.6 1164.0,1124.1 1164.5,1118.6 1165.0,1125.0 1165.5,1120.7 1166.0,1121.9 1166.5,1122.6 1167.0,1121.1 1167.5,1120.1 1168.0,1120.9 1168.5,1113.4 1169.0,1124.0 1169.5,1111.3 1170.0,1114.8 1170.5,1114.6 1171.0,1112.2 1171.5,1115.5 1172.0,1110.5 1172.5,1111.5 1173.0,1119.2 1173.5,1108.2 1174.0,1116.5 1174.5,1106.2 1175.0,1114.7 1175.5,1115.5 1176.0,1119.0 1176.5,1111.1 1177.0,1114.0 1177.5,1124.9 1178.0,1127.5 1178.5,1128.9 1179.0,1127.1 1179.5,1132.3 1180.0,1134.0 1180.5,1132.7 1180.7,1141.6 1181.0,1134.9 1181.5,1132.6 1182.0,1134.7 1182.5,1131.4 1183.0,1132.9 1183.5,1128.2 1184.0,1127.7 1184.5,1128.0 1185.0,1132.4 1185.5,1127.4 1186.0,1132.8 1186.5,1131.6 1187.0,1124.2 1187.5,1123.7 1188.0,1128.4 1188.5,1122.8 1189.0,1121.9 1189.5,1128.2 1189.6,1126.4 1190.0,1126.4 1190.5,1121.3 1191.0,1130.5 1191.5,1127.1 1192.0,1136.3 1192.5,1139.5 1193.0,1147.1 1193.5,1139.5 1194.0,1147.2 1194.5,1148.1 1195.0,1148.8 1195.5,1149.5 1196.0,1151.9 1196.5,1150.2 1197.0,1147.5 1197.5,1148.4 1198.0,1153.2 1198.5,1148.8 1199.0,1143.7 1199.5,1145.4 1200.0,1146.9 1200.5,1147.0 1201.0,1152.4 1201.5,1152.5 1202.0,1146.5 1202.5,1149.2 1203.0,1154.4 1203.5,1154.7"/>
</g>
<rect x="130.5" y="951.2" width="1074.0" height="325.20000000000005" fill="none" stroke="#000" stroke-width="1.9"/>
<rect x="143" y="1038.6" width="219" height="148.6" rx="4" fill="#fff" fill-opacity="0.8" stroke="#d0d0d0" stroke-width="1.6"/>
<line x1="150.4" y1="1058.5" x2="200.3" y2="1058.5" stroke="#1f77b4" stroke-width="1.8"/>
<text x="215.5" y="1067.7" font-size="23.5" textLength="134.9" lengthAdjust="spacingAndGlyphs">Mean Respi</text>
<line x1="150.4" y1="1094" x2="200.3" y2="1094" stroke="#000" stroke-width="1.8"/>
<text x="215.5" y="1103.2" font-size="23.5" textLength="119.4" lengthAdjust="spacingAndGlyphs">Mean EEG</text>
<rect x="150.7" y="1121.5" width="49.2" height="17" fill="#c4e2c4" stroke="#a9d3a8" stroke-width="1.6"/>
<text x="215.5" y="1137.6" font-size="23.5" textLength="124.6" lengthAdjust="spacingAndGlyphs">Inspiration</text>
<rect x="150.7" y="1157" width="49.2" height="17.4" fill="#fbc4c4" stroke="#f6aaaa" stroke-width="1.6"/>
<text x="215.5" y="1172.8" font-size="23.5" textLength="119.3" lengthAdjust="spacingAndGlyphs">Expiration</text>
<line x1="121.8" y1="967.3" x2="130.5" y2="967.3" stroke="#000" stroke-width="1.9"/>
<text x="111.4" y="975.2" font-size="22.2" text-anchor="end" textLength="27.5" lengthAdjust="spacingAndGlyphs">20</text>
<line x1="121.8" y1="1047.6" x2="130.5" y2="1047.6" stroke="#000" stroke-width="1.9"/>
<text x="111.4" y="1055.5" font-size="22.2" text-anchor="end" textLength="27.5" lengthAdjust="spacingAndGlyphs">10</text>
<line x1="121.8" y1="1127.8" x2="130.5" y2="1127.8" stroke="#000" stroke-width="1.9"/>
<text x="111.4" y="1135.7" font-size="22.2" text-anchor="end" textLength="13.7" lengthAdjust="spacingAndGlyphs">0</text>
<line x1="121.8" y1="1207.6" x2="130.5" y2="1207.6" stroke="#000" stroke-width="1.9"/>
<text x="111.4" y="1215.5" font-size="22.2" text-anchor="end" textLength="45.6" lengthAdjust="spacingAndGlyphs">−10</text>
<line x1="130.5" y1="1276.4" x2="130.5" y2="1285.1" stroke="#000" stroke-width="1.9"/>
<text x="130.5" y="1311.5" font-size="22.2" text-anchor="middle" textLength="34.4" lengthAdjust="spacingAndGlyphs">0.0</text>
<line x1="345.2" y1="1276.4" x2="345.2" y2="1285.1" stroke="#000" stroke-width="1.9"/>
<text x="345.2" y="1311.5" font-size="22.2" text-anchor="middle" textLength="34.4" lengthAdjust="spacingAndGlyphs">0.2</text>
<line x1="559.9" y1="1276.4" x2="559.9" y2="1285.1" stroke="#000" stroke-width="1.9"/>
<text x="559.9" y="1311.5" font-size="22.2" text-anchor="middle" textLength="34.4" lengthAdjust="spacingAndGlyphs">0.4</text>
<line x1="774.6" y1="1276.4" x2="774.6" y2="1285.1" stroke="#000" stroke-width="1.9"/>
<text x="774.6" y="1311.5" font-size="22.2" text-anchor="middle" textLength="34.4" lengthAdjust="spacingAndGlyphs">0.6</text>
<line x1="989.3" y1="1276.4" x2="989.3" y2="1285.1" stroke="#000" stroke-width="1.9"/>
<text x="989.3" y="1311.5" font-size="22.2" text-anchor="middle" textLength="34.4" lengthAdjust="spacingAndGlyphs">0.8</text>
<line x1="1204.0" y1="1276.4" x2="1204.0" y2="1285.1" stroke="#000" stroke-width="1.9"/>
<text x="1204.0" y="1311.5" font-size="22.2" text-anchor="middle" textLength="34.4" lengthAdjust="spacingAndGlyphs">1.0</text>
<text x="666.2" y="1345.8" font-size="23.5" text-anchor="middle" textLength="282.2" lengthAdjust="spacingAndGlyphs">Respiratory phase [0-1]</text>
<text x="665.8" y="935.9" font-size="28.9" text-anchor="middle" textLength="680.7" lengthAdjust="spacingAndGlyphs">Average EEG waveform along respiratory phase</text>
<text x="129.6" y="935.9" font-size="35.5" textLength="38.6" lengthAdjust="spacingAndGlyphs">C)</text>
<g stroke="#000" stroke-width="2.2" fill="none" stroke-linecap="butt" stroke-linejoin="miter">
<line x1="1224.8" y1="994" x2="1224.8" y2="1232"/>
<polyline points="1214.3,1013.3 1224.8,993.6 1235.3,1013.3"/>
<polyline points="1214.3,1212.6 1224.8,1232.4 1235.3,1212.6"/>
</g>
<text x="1257.6" y="1114.4" font-size="23" text-anchor="middle" textLength="50.3" lengthAdjust="spacingAndGlyphs" transform="rotate(-90 1257.6 1114.4)" font-weight="bold" fill="#ff0000">EEG</text>
<text x="1285.3" y="1114.9" font-size="23" text-anchor="middle" textLength="146.0" lengthAdjust="spacingAndGlyphs" transform="rotate(-90 1285.3 1114.9)" font-weight="bold" fill="#ff0000">Modulation</text>
<text x="1311.3" y="1113.3" font-size="23" text-anchor="middle" textLength="133.4" lengthAdjust="spacingAndGlyphs" transform="rotate(-90 1311.3 1113.3)" font-weight="bold" fill="#ff0000">Amplitude</text>
</svg></body></html>
